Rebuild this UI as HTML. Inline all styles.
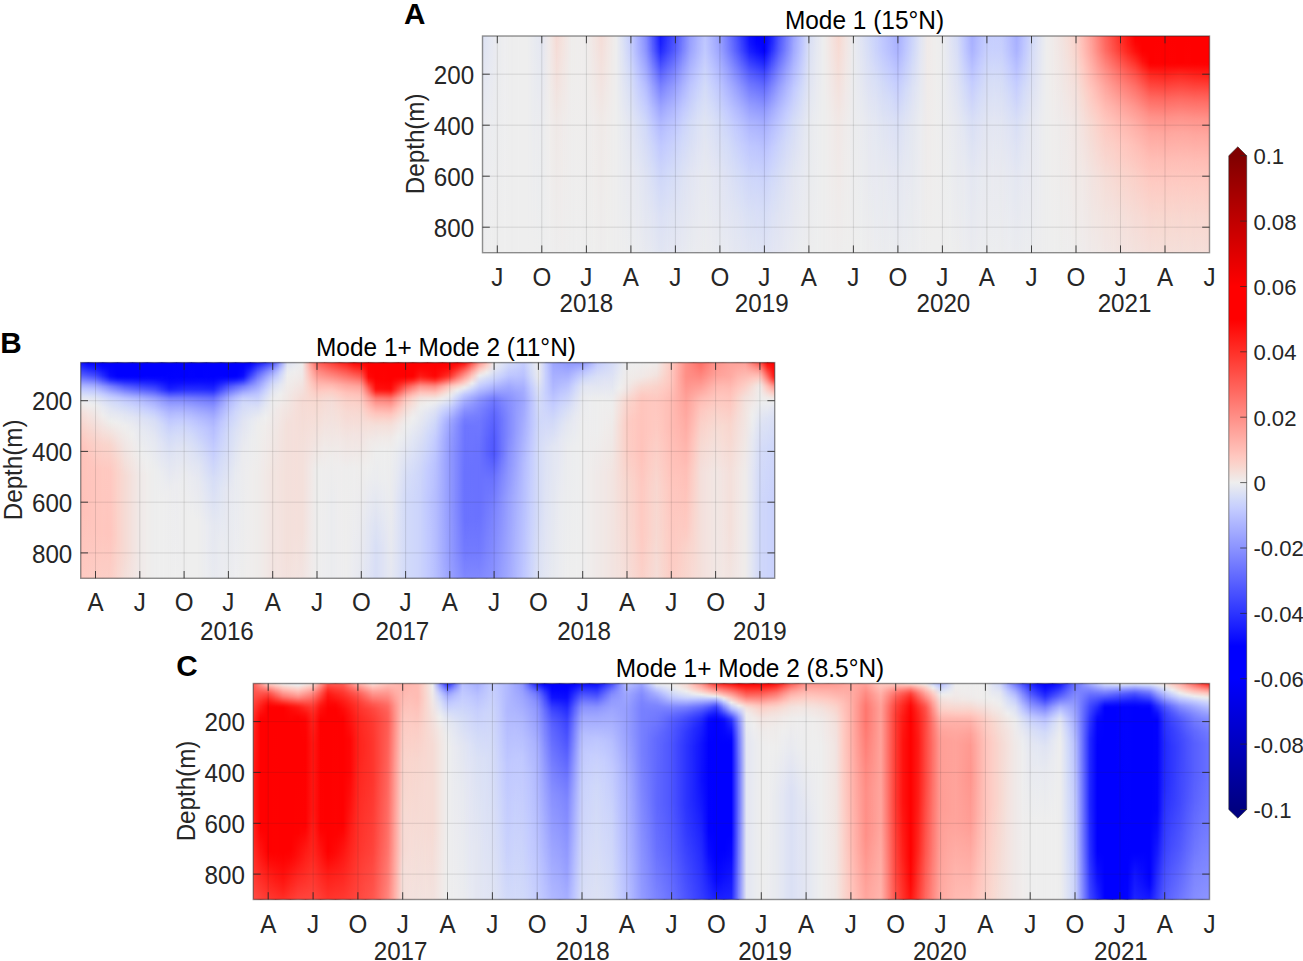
<!DOCTYPE html>
<html><head><meta charset="utf-8"><title>Figure</title>
<style>html,body{margin:0;padding:0;background:#fff}body{width:1303px;height:961px;overflow:hidden}svg{display:block;font-family:"Liberation Sans", sans-serif}</style></head>
<body>
<svg width="1303" height="961" viewBox="0 0 1303 961">
<defs>
<clipPath id="clipA"><rect x="482.5" y="36.0" width="727.0" height="216.7"/></clipPath>
<linearGradient id="hA" x1="482.5" y1="0" x2="1209.5" y2="0" gradientUnits="userSpaceOnUse"><stop offset="0" stop-color="#fff" stop-opacity="0"/><stop offset=".0102" stop-color="#fff" stop-opacity="1"/><stop offset=".0204" stop-color="#fff" stop-opacity="0"/><stop offset=".0306" stop-color="#fff" stop-opacity="1"/><stop offset=".0408" stop-color="#fff" stop-opacity="0"/><stop offset=".051" stop-color="#fff" stop-opacity="1"/><stop offset=".0612" stop-color="#fff" stop-opacity="0"/><stop offset=".0714" stop-color="#fff" stop-opacity="1"/><stop offset=".0816" stop-color="#fff" stop-opacity="0"/><stop offset=".0918" stop-color="#fff" stop-opacity="1"/><stop offset=".102" stop-color="#fff" stop-opacity="0"/><stop offset=".1122" stop-color="#fff" stop-opacity="1"/><stop offset=".1224" stop-color="#fff" stop-opacity="0"/><stop offset=".1327" stop-color="#fff" stop-opacity="1"/><stop offset=".1429" stop-color="#fff" stop-opacity="0"/><stop offset=".1531" stop-color="#fff" stop-opacity="1"/><stop offset=".1633" stop-color="#fff" stop-opacity="0"/><stop offset=".1735" stop-color="#fff" stop-opacity="1"/><stop offset=".1837" stop-color="#fff" stop-opacity="0"/><stop offset=".1939" stop-color="#fff" stop-opacity="1"/><stop offset=".2041" stop-color="#fff" stop-opacity="0"/><stop offset=".2143" stop-color="#fff" stop-opacity="1"/><stop offset=".2245" stop-color="#fff" stop-opacity="0"/><stop offset=".2347" stop-color="#fff" stop-opacity="1"/><stop offset=".2449" stop-color="#fff" stop-opacity="0"/><stop offset=".2551" stop-color="#fff" stop-opacity="1"/><stop offset=".2653" stop-color="#fff" stop-opacity="0"/><stop offset=".2755" stop-color="#fff" stop-opacity="1"/><stop offset=".2857" stop-color="#fff" stop-opacity="0"/><stop offset=".2959" stop-color="#fff" stop-opacity="1"/><stop offset=".3061" stop-color="#fff" stop-opacity="0"/><stop offset=".3163" stop-color="#fff" stop-opacity="1"/><stop offset=".3265" stop-color="#fff" stop-opacity="0"/><stop offset=".3367" stop-color="#fff" stop-opacity="1"/><stop offset=".3469" stop-color="#fff" stop-opacity="0"/><stop offset=".3571" stop-color="#fff" stop-opacity="1"/><stop offset=".3673" stop-color="#fff" stop-opacity="0"/><stop offset=".3776" stop-color="#fff" stop-opacity="1"/><stop offset=".3878" stop-color="#fff" stop-opacity="0"/><stop offset=".398" stop-color="#fff" stop-opacity="1"/><stop offset=".4082" stop-color="#fff" stop-opacity="0"/><stop offset=".4184" stop-color="#fff" stop-opacity="1"/><stop offset=".4286" stop-color="#fff" stop-opacity="0"/><stop offset=".4388" stop-color="#fff" stop-opacity="1"/><stop offset=".449" stop-color="#fff" stop-opacity="0"/><stop offset=".4592" stop-color="#fff" stop-opacity="1"/><stop offset=".4694" stop-color="#fff" stop-opacity="0"/><stop offset=".4796" stop-color="#fff" stop-opacity="1"/><stop offset=".4898" stop-color="#fff" stop-opacity="0"/><stop offset=".5" stop-color="#fff" stop-opacity="1"/><stop offset=".5102" stop-color="#fff" stop-opacity="0"/><stop offset=".5204" stop-color="#fff" stop-opacity="1"/><stop offset=".5306" stop-color="#fff" stop-opacity="0"/><stop offset=".5408" stop-color="#fff" stop-opacity="1"/><stop offset=".551" stop-color="#fff" stop-opacity="0"/><stop offset=".5612" stop-color="#fff" stop-opacity="1"/><stop offset=".5714" stop-color="#fff" stop-opacity="0"/><stop offset=".5816" stop-color="#fff" stop-opacity="1"/><stop offset=".5918" stop-color="#fff" stop-opacity="0"/><stop offset=".602" stop-color="#fff" stop-opacity="1"/><stop offset=".6122" stop-color="#fff" stop-opacity="0"/><stop offset=".6224" stop-color="#fff" stop-opacity="1"/><stop offset=".6327" stop-color="#fff" stop-opacity="0"/><stop offset=".6429" stop-color="#fff" stop-opacity="1"/><stop offset=".6531" stop-color="#fff" stop-opacity="0"/><stop offset=".6633" stop-color="#fff" stop-opacity="1"/><stop offset=".6735" stop-color="#fff" stop-opacity="0"/><stop offset=".6837" stop-color="#fff" stop-opacity="1"/><stop offset=".6939" stop-color="#fff" stop-opacity="0"/><stop offset=".7041" stop-color="#fff" stop-opacity="1"/><stop offset=".7143" stop-color="#fff" stop-opacity="0"/><stop offset=".7245" stop-color="#fff" stop-opacity="1"/><stop offset=".7347" stop-color="#fff" stop-opacity="0"/><stop offset=".7449" stop-color="#fff" stop-opacity="1"/><stop offset=".7551" stop-color="#fff" stop-opacity="0"/><stop offset=".7653" stop-color="#fff" stop-opacity="1"/><stop offset=".7755" stop-color="#fff" stop-opacity="0"/><stop offset=".7857" stop-color="#fff" stop-opacity="1"/><stop offset=".7959" stop-color="#fff" stop-opacity="0"/><stop offset=".8061" stop-color="#fff" stop-opacity="1"/><stop offset=".8163" stop-color="#fff" stop-opacity="0"/><stop offset=".8265" stop-color="#fff" stop-opacity="1"/><stop offset=".8367" stop-color="#fff" stop-opacity="0"/><stop offset=".8469" stop-color="#fff" stop-opacity="1"/><stop offset=".8571" stop-color="#fff" stop-opacity="0"/><stop offset=".8673" stop-color="#fff" stop-opacity="1"/><stop offset=".8776" stop-color="#fff" stop-opacity="0"/><stop offset=".8878" stop-color="#fff" stop-opacity="1"/><stop offset=".898" stop-color="#fff" stop-opacity="0"/><stop offset=".9082" stop-color="#fff" stop-opacity="1"/><stop offset=".9184" stop-color="#fff" stop-opacity="0"/><stop offset=".9286" stop-color="#fff" stop-opacity="1"/><stop offset=".9388" stop-color="#fff" stop-opacity="0"/><stop offset=".949" stop-color="#fff" stop-opacity="1"/><stop offset=".9592" stop-color="#fff" stop-opacity="0"/><stop offset=".9694" stop-color="#fff" stop-opacity="1"/><stop offset=".9796" stop-color="#fff" stop-opacity="0"/><stop offset=".9898" stop-color="#fff" stop-opacity="1"/><stop offset="1" stop-color="#fff" stop-opacity="0"/></linearGradient>
<mask id="mA" maskUnits="userSpaceOnUse" x="480.5" y="34.0" width="731.0" height="220.7" style="mask-type:alpha"><rect x="480.5" y="34.0" width="731.0" height="220.7" fill="url(#hA)"/></mask>
<linearGradient id="a0" x2="0" y2="1"><stop offset=".009" stop-color="#dde2f4"/><stop offset=".406" stop-color="#eaebf0"/><stop offset=".991" stop-color="#ededee"/></linearGradient>
<linearGradient id="a1" x2="0" y2="1"><stop offset=".009" stop-color="#e4e7f2"/><stop offset=".406" stop-color="#ebecef"/><stop offset=".991" stop-color="#eee"/></linearGradient>
<linearGradient id="a2" x2="0" y2="1"><stop offset=".009" stop-color="#ebecef"/><stop offset=".991" stop-color="#eee"/></linearGradient>
<linearGradient id="a3" x2="0" y2="1"><stop offset=".009" stop-color="#ededef"/><stop offset=".991" stop-color="#eee"/></linearGradient>
<linearGradient id="a7" x2="0" y2="1"><stop offset=".009" stop-color="#e8eaf0"/><stop offset=".991" stop-color="#eee"/></linearGradient>
<linearGradient id="a8" x2="0" y2="1"><stop offset=".009" stop-color="#e3e6f2"/><stop offset=".406" stop-color="#ebecef"/><stop offset=".991" stop-color="#edeeee"/></linearGradient>
<linearGradient id="a9" x2="0" y2="1"><stop offset=".009" stop-color="#f0e9e8"/><stop offset=".406" stop-color="#efedec"/><stop offset=".991" stop-color="#eee"/></linearGradient>
<linearGradient id="a10" x2="0" y2="1"><stop offset=".009" stop-color="#f6dbd5"/><stop offset=".406" stop-color="#f0e9e7"/><stop offset=".991" stop-color="#eeeded"/></linearGradient>
<linearGradient id="a11" x2="0" y2="1"><stop offset=".009" stop-color="#f3e4e0"/><stop offset=".406" stop-color="#efebea"/><stop offset=".991" stop-color="#eeeded"/></linearGradient>
<linearGradient id="a12" x2="0" y2="1"><stop offset=".009" stop-color="#efedec"/><stop offset=".991" stop-color="#eee"/></linearGradient>
<linearGradient id="a13" x2="0" y2="1"><stop offset=".009" stop-color="#efedec"/><stop offset=".991" stop-color="#eee"/></linearGradient>
<linearGradient id="a14" x2="0" y2="1"><stop offset=".009" stop-color="#efedec"/><stop offset=".991" stop-color="#eee"/></linearGradient>
<linearGradient id="a15" x2="0" y2="1"><stop offset=".009" stop-color="#f2e5e2"/><stop offset=".406" stop-color="#efeceb"/><stop offset=".991" stop-color="#eeeeed"/></linearGradient>
<linearGradient id="a16" x2="0" y2="1"><stop offset=".009" stop-color="#f5ddd8"/><stop offset=".406" stop-color="#f0eae8"/><stop offset=".991" stop-color="#eeeded"/></linearGradient>
<linearGradient id="a17" x2="0" y2="1"><stop offset=".009" stop-color="#f2e6e3"/><stop offset=".406" stop-color="#efeceb"/><stop offset=".991" stop-color="#eeeeed"/></linearGradient>
<linearGradient id="a19" x2="0" y2="1"><stop offset=".009" stop-color="#d9dff6"/><stop offset=".406" stop-color="#e8eaf0"/><stop offset=".991" stop-color="#ededee"/></linearGradient>
<linearGradient id="a20" x2="0" y2="1"><stop offset=".009" stop-color="#c6cefe"/><stop offset=".081" stop-color="#c9d1fd"/><stop offset=".211" stop-color="#d6ddf7"/><stop offset=".413" stop-color="#e3e6f2"/><stop offset=".652" stop-color="#e9eaf0"/><stop offset=".991" stop-color="#ecedef"/></linearGradient>
<linearGradient id="a21" x2="0" y2="1"><stop offset=".009" stop-color="#a7afff"/><stop offset=".081" stop-color="#acb4ff"/><stop offset=".218" stop-color="#c4ccff"/><stop offset=".399" stop-color="#d9dff6"/><stop offset=".637" stop-color="#e4e7f2"/><stop offset=".991" stop-color="#eaebef"/></linearGradient>
<linearGradient id="a22" x2="0" y2="1"><stop offset=".009" stop-color="#8890ff"/><stop offset=".074" stop-color="#8e96ff"/><stop offset=".24" stop-color="#b7bfff"/><stop offset=".32" stop-color="#c4ccff"/><stop offset=".413" stop-color="#d1d9f9"/><stop offset=".652" stop-color="#e0e4f3"/><stop offset=".991" stop-color="#e8eaf0"/></linearGradient>
<linearGradient id="a23" x2="0" y2="1"><stop offset=".009" stop-color="#4e56ff"/><stop offset=".074" stop-color="#5860ff"/><stop offset=".175" stop-color="#828aff"/><stop offset=".24" stop-color="#98a0ff"/><stop offset=".341" stop-color="#b3bbff"/><stop offset=".413" stop-color="#c1c9ff"/><stop offset=".507" stop-color="#ccd4fb"/><stop offset=".63" stop-color="#d6ddf7"/><stop offset=".818" stop-color="#e0e4f3"/><stop offset=".991" stop-color="#e5e8f1"/></linearGradient>
<linearGradient id="a24" x2="0" y2="1"><stop offset=".009" stop-color="#151aff"/><stop offset=".045" stop-color="#1a20ff"/><stop offset=".081" stop-color="#242cff"/><stop offset=".175" stop-color="#5b63ff"/><stop offset=".233" stop-color="#777fff"/><stop offset=".327" stop-color="#9aa2ff"/><stop offset=".406" stop-color="#b1b9ff"/><stop offset=".507" stop-color="#c1c9ff"/><stop offset=".659" stop-color="#d0d8f9"/><stop offset=".832" stop-color="#dce1f5"/><stop offset=".991" stop-color="#e1e5f3"/></linearGradient>
<linearGradient id="a25" x2="0" y2="1"><stop offset=".009" stop-color="#3038ff"/><stop offset=".074" stop-color="#3c44ff"/><stop offset=".175" stop-color="#6e76ff"/><stop offset=".24" stop-color="#8991ff"/><stop offset=".341" stop-color="#a9b1ff"/><stop offset=".413" stop-color="#bac2ff"/><stop offset=".5" stop-color="#c5cdfe"/><stop offset=".637" stop-color="#d2daf9"/><stop offset=".818" stop-color="#dde2f4"/><stop offset=".991" stop-color="#e3e6f2"/></linearGradient>
<linearGradient id="a26" x2="0" y2="1"><stop offset=".009" stop-color="#4d55ff"/><stop offset=".074" stop-color="#575fff"/><stop offset=".175" stop-color="#8189ff"/><stop offset=".24" stop-color="#98a0ff"/><stop offset=".341" stop-color="#b3bbff"/><stop offset=".413" stop-color="#c1c9ff"/><stop offset=".507" stop-color="#ccd4fb"/><stop offset=".63" stop-color="#d6ddf7"/><stop offset=".818" stop-color="#e0e4f3"/><stop offset=".991" stop-color="#e5e7f2"/></linearGradient>
<linearGradient id="a27" x2="0" y2="1"><stop offset=".009" stop-color="#727aff"/><stop offset=".074" stop-color="#7981ff"/><stop offset=".175" stop-color="#9aa2ff"/><stop offset=".24" stop-color="#abb3ff"/><stop offset=".341" stop-color="#c0c8ff"/><stop offset=".413" stop-color="#cbd3fc"/><stop offset=".5" stop-color="#d2daf9"/><stop offset=".659" stop-color="#dde2f4"/><stop offset=".991" stop-color="#e7e9f1"/></linearGradient>
<linearGradient id="a28" x2="0" y2="1"><stop offset=".009" stop-color="#979fff"/><stop offset=".074" stop-color="#9ca4ff"/><stop offset=".233" stop-color="#bdc5ff"/><stop offset=".399" stop-color="#d3dbf8"/><stop offset=".637" stop-color="#e2e5f3"/><stop offset=".991" stop-color="#e9ebf0"/></linearGradient>
<linearGradient id="a29" x2="0" y2="1"><stop offset=".009" stop-color="#abb3ff"/><stop offset=".081" stop-color="#b0b8ff"/><stop offset=".204" stop-color="#c4ccff"/><stop offset=".32" stop-color="#d2daf9"/><stop offset=".399" stop-color="#dae0f6"/><stop offset=".637" stop-color="#e5e7f2"/><stop offset=".991" stop-color="#eaebef"/></linearGradient>
<linearGradient id="a30" x2="0" y2="1"><stop offset=".009" stop-color="#bfc7ff"/><stop offset=".081" stop-color="#c2caff"/><stop offset=".233" stop-color="#d3dbf8"/><stop offset=".421" stop-color="#e1e5f3"/><stop offset=".652" stop-color="#e8eaf0"/><stop offset=".991" stop-color="#ebecef"/></linearGradient>
<linearGradient id="a31" x2="0" y2="1"><stop offset=".009" stop-color="#abb3ff"/><stop offset=".081" stop-color="#b0b8ff"/><stop offset=".204" stop-color="#c4ccff"/><stop offset=".32" stop-color="#d2daf9"/><stop offset=".399" stop-color="#dae0f6"/><stop offset=".637" stop-color="#e5e7f2"/><stop offset=".991" stop-color="#eaebef"/></linearGradient>
<linearGradient id="a32" x2="0" y2="1"><stop offset=".009" stop-color="#979fff"/><stop offset=".074" stop-color="#9ca4ff"/><stop offset=".233" stop-color="#bdc5ff"/><stop offset=".399" stop-color="#d3dbf8"/><stop offset=".637" stop-color="#e2e5f3"/><stop offset=".991" stop-color="#e9ebf0"/></linearGradient>
<linearGradient id="a33" x2="0" y2="1"><stop offset=".009" stop-color="#777fff"/><stop offset=".074" stop-color="#7e86ff"/><stop offset=".175" stop-color="#9da5ff"/><stop offset=".24" stop-color="#adb5ff"/><stop offset=".356" stop-color="#c4ccff"/><stop offset=".413" stop-color="#ccd4fb"/><stop offset=".493" stop-color="#d3dbf8"/><stop offset=".659" stop-color="#dee2f4"/><stop offset=".991" stop-color="#e7e9f1"/></linearGradient>
<linearGradient id="a34" x2="0" y2="1"><stop offset=".009" stop-color="#565eff"/><stop offset=".074" stop-color="#5f67ff"/><stop offset=".175" stop-color="#878fff"/><stop offset=".24" stop-color="#9da5ff"/><stop offset=".341" stop-color="#b6beff"/><stop offset=".413" stop-color="#c4ccff"/><stop offset=".514" stop-color="#ced6fa"/><stop offset=".63" stop-color="#d7def7"/><stop offset=".818" stop-color="#e1e5f3"/><stop offset=".991" stop-color="#e5e8f1"/></linearGradient>
<linearGradient id="a35" x2="0" y2="1"><stop offset=".009" stop-color="#3038ff"/><stop offset=".074" stop-color="#3c44ff"/><stop offset=".175" stop-color="#6e76ff"/><stop offset=".24" stop-color="#8991ff"/><stop offset=".341" stop-color="#a9b1ff"/><stop offset=".413" stop-color="#bac2ff"/><stop offset=".5" stop-color="#c5cdfe"/><stop offset=".637" stop-color="#d2daf9"/><stop offset=".818" stop-color="#dde2f4"/><stop offset=".991" stop-color="#e3e6f2"/></linearGradient>
<linearGradient id="a36" x2="0" y2="1"><stop offset=".009" stop-color="#0d10ff"/><stop offset=".045" stop-color="#1216ff"/><stop offset=".081" stop-color="#1c22ff"/><stop offset=".175" stop-color="#555dff"/><stop offset=".233" stop-color="#7179ff"/><stop offset=".327" stop-color="#969eff"/><stop offset=".406" stop-color="#aeb6ff"/><stop offset=".507" stop-color="#bfc7ff"/><stop offset=".659" stop-color="#cfd7fa"/><stop offset=".839" stop-color="#dbe1f5"/><stop offset=".991" stop-color="#e1e5f3"/></linearGradient>
<linearGradient id="a37" x2="0" y2="1"><stop offset=".009" stop-color="#00f"/><stop offset=".045" stop-color="#0405ff"/><stop offset=".081" stop-color="#0e11ff"/><stop offset=".125" stop-color="#272fff"/><stop offset=".175" stop-color="#4951ff"/><stop offset=".226" stop-color="#656dff"/><stop offset=".32" stop-color="#8d95ff"/><stop offset=".406" stop-color="#aab2ff"/><stop offset=".507" stop-color="#bcc4ff"/><stop offset=".652" stop-color="#cdd5fb"/><stop offset=".81" stop-color="#d8def6"/><stop offset=".991" stop-color="#e0e4f3"/></linearGradient>
<linearGradient id="a38" x2="0" y2="1"><stop offset=".009" stop-color="#00f"/><stop offset=".067" stop-color="#00f"/><stop offset=".081" stop-color="#0303ff"/><stop offset=".139" stop-color="#232bff"/><stop offset=".175" stop-color="#3e46ff"/><stop offset=".24" stop-color="#636bff"/><stop offset=".341" stop-color="#9098ff"/><stop offset=".421" stop-color="#a9b1ff"/><stop offset=".536" stop-color="#bdc5ff"/><stop offset=".666" stop-color="#ccd4fb"/><stop offset=".818" stop-color="#d7def7"/><stop offset=".991" stop-color="#dfe3f4"/></linearGradient>
<linearGradient id="a39" x2="0" y2="1"><stop offset=".009" stop-color="#1c22ff"/><stop offset=".038" stop-color="#1f26ff"/><stop offset=".074" stop-color="#2830ff"/><stop offset=".175" stop-color="#6068ff"/><stop offset=".24" stop-color="#7d85ff"/><stop offset=".341" stop-color="#a1a9ff"/><stop offset=".413" stop-color="#b4bcff"/><stop offset=".529" stop-color="#c5cdff"/><stop offset=".666" stop-color="#d2daf9"/><stop offset=".832" stop-color="#dce1f5"/><stop offset=".991" stop-color="#e2e5f3"/></linearGradient>
<linearGradient id="a40" x2="0" y2="1"><stop offset=".009" stop-color="#4d55ff"/><stop offset=".074" stop-color="#575fff"/><stop offset=".175" stop-color="#8189ff"/><stop offset=".24" stop-color="#98a0ff"/><stop offset=".341" stop-color="#b3bbff"/><stop offset=".413" stop-color="#c1c9ff"/><stop offset=".507" stop-color="#ccd4fb"/><stop offset=".63" stop-color="#d6ddf7"/><stop offset=".818" stop-color="#e0e4f3"/><stop offset=".991" stop-color="#e5e7f2"/></linearGradient>
<linearGradient id="a41" x2="0" y2="1"><stop offset=".009" stop-color="#757dff"/><stop offset=".074" stop-color="#7c84ff"/><stop offset=".175" stop-color="#9ca4ff"/><stop offset=".24" stop-color="#adb5ff"/><stop offset=".356" stop-color="#c4ccff"/><stop offset=".413" stop-color="#ccd4fc"/><stop offset=".493" stop-color="#d3daf8"/><stop offset=".659" stop-color="#dee2f4"/><stop offset=".991" stop-color="#e7e9f1"/></linearGradient>
<linearGradient id="a42" x2="0" y2="1"><stop offset=".009" stop-color="#9ea6ff"/><stop offset=".081" stop-color="#a4acff"/><stop offset=".255" stop-color="#c4ccff"/><stop offset=".399" stop-color="#d6ddf7"/><stop offset=".637" stop-color="#e3e6f2"/><stop offset=".991" stop-color="#eaebf0"/></linearGradient>
<linearGradient id="a43" x2="0" y2="1"><stop offset=".009" stop-color="#bac2ff"/><stop offset=".081" stop-color="#bec6ff"/><stop offset=".255" stop-color="#d2daf9"/><stop offset=".421" stop-color="#e0e4f3"/><stop offset=".652" stop-color="#e7e9f1"/><stop offset=".991" stop-color="#ebecef"/></linearGradient>
<linearGradient id="a44" x2="0" y2="1"><stop offset=".009" stop-color="#d8def6"/><stop offset=".406" stop-color="#e8eaf0"/><stop offset=".991" stop-color="#ededee"/></linearGradient>
<linearGradient id="a45" x2="0" y2="1"><stop offset=".009" stop-color="#e3e6f2"/><stop offset=".406" stop-color="#ebecef"/><stop offset=".991" stop-color="#edeeee"/></linearGradient>
<linearGradient id="a47" x2="0" y2="1"><stop offset=".009" stop-color="#f3e3e0"/><stop offset=".406" stop-color="#efebea"/><stop offset=".991" stop-color="#eeeded"/></linearGradient>
<linearGradient id="a48" x2="0" y2="1"><stop offset=".009" stop-color="#f8d9d1"/><stop offset=".406" stop-color="#f1e8e6"/><stop offset=".991" stop-color="#eeeded"/></linearGradient>
<linearGradient id="a49" x2="0" y2="1"><stop offset=".009" stop-color="#f2e4e1"/><stop offset=".406" stop-color="#efebeb"/><stop offset=".991" stop-color="#eeeeed"/></linearGradient>
<linearGradient id="a50" x2="0" y2="1"><stop offset=".009" stop-color="#ebecef"/><stop offset=".991" stop-color="#eee"/></linearGradient>
<linearGradient id="a51" x2="0" y2="1"><stop offset=".009" stop-color="#e0e4f3"/><stop offset=".406" stop-color="#eaebef"/><stop offset=".991" stop-color="#edeeee"/></linearGradient>
<linearGradient id="a52" x2="0" y2="1"><stop offset=".009" stop-color="#d5dcf8"/><stop offset=".406" stop-color="#e7e9f1"/><stop offset=".991" stop-color="#ededee"/></linearGradient>
<linearGradient id="a53" x2="0" y2="1"><stop offset=".009" stop-color="#cad2fc"/><stop offset=".081" stop-color="#ccd4fb"/><stop offset=".218" stop-color="#d9dff6"/><stop offset=".413" stop-color="#e4e7f2"/><stop offset=".991" stop-color="#ecedef"/></linearGradient>
<linearGradient id="a54" x2="0" y2="1"><stop offset=".009" stop-color="#bfc7ff"/><stop offset=".081" stop-color="#c2caff"/><stop offset=".233" stop-color="#d3dbf8"/><stop offset=".421" stop-color="#e1e5f3"/><stop offset=".652" stop-color="#e8eaf0"/><stop offset=".991" stop-color="#ebecef"/></linearGradient>
<linearGradient id="a55" x2="0" y2="1"><stop offset=".009" stop-color="#b3bbff"/><stop offset=".081" stop-color="#b7bfff"/><stop offset=".168" stop-color="#c4ccff"/><stop offset=".283" stop-color="#d2daf9"/><stop offset=".421" stop-color="#dee2f4"/><stop offset=".652" stop-color="#e6e8f1"/><stop offset=".991" stop-color="#ebecef"/></linearGradient>
<linearGradient id="a56" x2="0" y2="1"><stop offset=".009" stop-color="#a7afff"/><stop offset=".081" stop-color="#acb4ff"/><stop offset=".218" stop-color="#c4ccff"/><stop offset=".399" stop-color="#d9dff6"/><stop offset=".637" stop-color="#e4e7f2"/><stop offset=".991" stop-color="#eaebef"/></linearGradient>
<linearGradient id="a57" x2="0" y2="1"><stop offset=".009" stop-color="#bac2ff"/><stop offset=".081" stop-color="#bec6ff"/><stop offset=".255" stop-color="#d2daf9"/><stop offset=".421" stop-color="#e0e4f3"/><stop offset=".652" stop-color="#e7e9f1"/><stop offset=".991" stop-color="#ebecef"/></linearGradient>
<linearGradient id="a58" x2="0" y2="1"><stop offset=".009" stop-color="#cdd5fb"/><stop offset=".081" stop-color="#d0d8fa"/><stop offset=".247" stop-color="#dde2f5"/><stop offset=".413" stop-color="#e5e8f1"/><stop offset=".991" stop-color="#ecedef"/></linearGradient>
<linearGradient id="a59" x2="0" y2="1"><stop offset=".009" stop-color="#e0e4f4"/><stop offset=".406" stop-color="#eaebef"/><stop offset=".991" stop-color="#ededee"/></linearGradient>
<linearGradient id="a60" x2="0" y2="1"><stop offset=".009" stop-color="#f0eae9"/><stop offset=".991" stop-color="#eee"/></linearGradient>
<linearGradient id="a61" x2="0" y2="1"><stop offset=".009" stop-color="#efedec"/><stop offset=".991" stop-color="#eee"/></linearGradient>
<linearGradient id="a62" x2="0" y2="1"><stop offset=".009" stop-color="#ecedef"/><stop offset=".991" stop-color="#eee"/></linearGradient>
<linearGradient id="a63" x2="0" y2="1"><stop offset=".009" stop-color="#e1e4f3"/><stop offset=".406" stop-color="#eaebef"/><stop offset=".991" stop-color="#edeeee"/></linearGradient>
<linearGradient id="a64" x2="0" y2="1"><stop offset=".009" stop-color="#d5dcf8"/><stop offset=".406" stop-color="#e7e9f1"/><stop offset=".991" stop-color="#ededee"/></linearGradient>
<linearGradient id="a65" x2="0" y2="1"><stop offset=".009" stop-color="#bec6ff"/><stop offset=".081" stop-color="#c1c9ff"/><stop offset=".233" stop-color="#d2daf9"/><stop offset=".421" stop-color="#e1e5f3"/><stop offset=".652" stop-color="#e8eaf0"/><stop offset=".991" stop-color="#ebecef"/></linearGradient>
<linearGradient id="a66" x2="0" y2="1"><stop offset=".009" stop-color="#a7afff"/><stop offset=".081" stop-color="#acb4ff"/><stop offset=".218" stop-color="#c4ccff"/><stop offset=".399" stop-color="#d9dff6"/><stop offset=".637" stop-color="#e4e7f2"/><stop offset=".991" stop-color="#eaebef"/></linearGradient>
<linearGradient id="a67" x2="0" y2="1"><stop offset=".009" stop-color="#b7bfff"/><stop offset=".081" stop-color="#bbc3ff"/><stop offset=".146" stop-color="#c4ccff"/><stop offset=".269" stop-color="#d2daf9"/><stop offset=".421" stop-color="#dfe3f4"/><stop offset=".652" stop-color="#e7e9f1"/><stop offset=".991" stop-color="#ebecef"/></linearGradient>
<linearGradient id="a68" x2="0" y2="1"><stop offset=".009" stop-color="#c6cefe"/><stop offset=".081" stop-color="#c9d1fd"/><stop offset=".211" stop-color="#d6ddf7"/><stop offset=".413" stop-color="#e3e6f2"/><stop offset=".652" stop-color="#e9eaf0"/><stop offset=".991" stop-color="#ecedef"/></linearGradient>
<linearGradient id="a69" x2="0" y2="1"><stop offset=".009" stop-color="#c6cefe"/><stop offset=".081" stop-color="#c9d1fd"/><stop offset=".211" stop-color="#d6ddf7"/><stop offset=".413" stop-color="#e3e6f2"/><stop offset=".652" stop-color="#e9eaf0"/><stop offset=".991" stop-color="#ecedef"/></linearGradient>
<linearGradient id="a70" x2="0" y2="1"><stop offset=".009" stop-color="#c6cefe"/><stop offset=".081" stop-color="#c9d1fd"/><stop offset=".211" stop-color="#d6ddf7"/><stop offset=".413" stop-color="#e3e6f2"/><stop offset=".652" stop-color="#e9eaf0"/><stop offset=".991" stop-color="#ecedef"/></linearGradient>
<linearGradient id="a71" x2="0" y2="1"><stop offset=".009" stop-color="#b7bfff"/><stop offset=".081" stop-color="#bbc3ff"/><stop offset=".146" stop-color="#c4ccff"/><stop offset=".269" stop-color="#d2daf9"/><stop offset=".421" stop-color="#dfe3f4"/><stop offset=".652" stop-color="#e7e9f1"/><stop offset=".991" stop-color="#ebecef"/></linearGradient>
<linearGradient id="a72" x2="0" y2="1"><stop offset=".009" stop-color="#a7afff"/><stop offset=".081" stop-color="#acb4ff"/><stop offset=".218" stop-color="#c4ccff"/><stop offset=".399" stop-color="#d9dff6"/><stop offset=".637" stop-color="#e4e7f2"/><stop offset=".991" stop-color="#eaebef"/></linearGradient>
<linearGradient id="a73" x2="0" y2="1"><stop offset=".009" stop-color="#bcc4ff"/><stop offset=".081" stop-color="#bfc7ff"/><stop offset=".247" stop-color="#d2daf9"/><stop offset=".421" stop-color="#e0e4f3"/><stop offset=".652" stop-color="#e7e9f1"/><stop offset=".991" stop-color="#ebecef"/></linearGradient>
<linearGradient id="a74" x2="0" y2="1"><stop offset=".009" stop-color="#d0d8fa"/><stop offset=".413" stop-color="#e6e8f1"/><stop offset=".991" stop-color="#ecedef"/></linearGradient>
<linearGradient id="a75" x2="0" y2="1"><stop offset=".009" stop-color="#dfe3f4"/><stop offset=".406" stop-color="#eaebf0"/><stop offset=".991" stop-color="#ededee"/></linearGradient>
<linearGradient id="a77" x2="0" y2="1"><stop offset=".009" stop-color="#f0e9e8"/><stop offset=".406" stop-color="#efedec"/><stop offset=".991" stop-color="#eee"/></linearGradient>
<linearGradient id="a78" x2="0" y2="1"><stop offset=".009" stop-color="#f2e4e1"/><stop offset=".406" stop-color="#efebeb"/><stop offset=".991" stop-color="#eeeeed"/></linearGradient>
<linearGradient id="a79" x2="0" y2="1"><stop offset=".009" stop-color="#f6dcd6"/><stop offset=".406" stop-color="#f0e9e8"/><stop offset=".991" stop-color="#eeeded"/></linearGradient>
<linearGradient id="a80" x2="0" y2="1"><stop offset=".009" stop-color="#fad4cc"/><stop offset=".088" stop-color="#f9d6ce"/><stop offset=".24" stop-color="#f4e0dc"/><stop offset=".413" stop-color="#f1e7e5"/><stop offset=".991" stop-color="#efedec"/></linearGradient>
<linearGradient id="a81" x2="0" y2="1"><stop offset=".009" stop-color="#ffbbb3"/><stop offset=".074" stop-color="#ffbeb6"/><stop offset=".146" stop-color="#ffc8c0"/><stop offset=".276" stop-color="#f8d7cf"/><stop offset=".428" stop-color="#f4e1dd"/><stop offset=".659" stop-color="#f1e8e6"/><stop offset=".991" stop-color="#efebeb"/></linearGradient>
<linearGradient id="a82" x2="0" y2="1"><stop offset=".009" stop-color="#ffa29a"/><stop offset=".081" stop-color="#ffa8a0"/><stop offset=".255" stop-color="#ffc8c0"/><stop offset=".406" stop-color="#f7dad3"/><stop offset=".644" stop-color="#f2e4e1"/><stop offset=".991" stop-color="#f0eae9"/></linearGradient>
<linearGradient id="a83" x2="0" y2="1"><stop offset=".009" stop-color="#ff837b"/><stop offset=".074" stop-color="#ff8981"/><stop offset=".233" stop-color="#ffb4ac"/><stop offset=".334" stop-color="#ffc7bf"/><stop offset=".406" stop-color="#fbd1c9"/><stop offset=".659" stop-color="#f4e1dd"/><stop offset=".991" stop-color="#f0e9e7"/></linearGradient>
<linearGradient id="a84" x2="0" y2="1"><stop offset=".009" stop-color="#ff645c"/><stop offset=".074" stop-color="#ff6c64"/><stop offset=".175" stop-color="#ff928a"/><stop offset=".233" stop-color="#ffa49c"/><stop offset=".327" stop-color="#ffbab2"/><stop offset=".406" stop-color="#fec9c1"/><stop offset=".644" stop-color="#f6ddd7"/><stop offset=".825" stop-color="#f3e4e0"/><stop offset=".991" stop-color="#f1e7e5"/></linearGradient>
<linearGradient id="a85" x2="0" y2="1"><stop offset=".009" stop-color="#ff4a42"/><stop offset=".074" stop-color="#ff544c"/><stop offset=".175" stop-color="#ff8078"/><stop offset=".233" stop-color="#ff958d"/><stop offset=".327" stop-color="#ffb1a9"/><stop offset=".406" stop-color="#ffc2ba"/><stop offset=".5" stop-color="#fccec6"/><stop offset=".644" stop-color="#f7d9d3"/><stop offset=".825" stop-color="#f3e2de"/><stop offset=".991" stop-color="#f2e6e3"/></linearGradient>
<linearGradient id="a86" x2="0" y2="1"><stop offset=".009" stop-color="#ff3028"/><stop offset=".038" stop-color="#ff332b"/><stop offset=".074" stop-color="#ff3b33"/><stop offset=".175" stop-color="#ff6f67"/><stop offset=".233" stop-color="#ff877f"/><stop offset=".327" stop-color="#ffa79f"/><stop offset=".406" stop-color="#ffbbb3"/><stop offset=".5" stop-color="#ffc9c1"/><stop offset=".644" stop-color="#f9d6ce"/><stop offset=".825" stop-color="#f4e0db"/><stop offset=".991" stop-color="#f2e4e1"/></linearGradient>
<linearGradient id="a87" x2="0" y2="1"><stop offset=".009" stop-color="#ff1813"/><stop offset=".045" stop-color="#ff1d17"/><stop offset=".081" stop-color="#ff2820"/><stop offset=".175" stop-color="#ff5f57"/><stop offset=".233" stop-color="#ff7b73"/><stop offset=".327" stop-color="#ff9e96"/><stop offset=".406" stop-color="#ffb5ad"/><stop offset=".5" stop-color="#ffc4bc"/><stop offset=".644" stop-color="#fad3cb"/><stop offset=".832" stop-color="#f5ded9"/><stop offset=".991" stop-color="#f3e3e0"/></linearGradient>
<linearGradient id="a88" x2="0" y2="1"><stop offset=".009" stop-color="#f00"/><stop offset=".045" stop-color="#ff0605"/><stop offset=".081" stop-color="#ff120e"/><stop offset=".117" stop-color="#ff2921"/><stop offset=".175" stop-color="#ff4f47"/><stop offset=".233" stop-color="#ff6e66"/><stop offset=".327" stop-color="#ff958d"/><stop offset=".406" stop-color="#ffaea6"/><stop offset=".5" stop-color="#ffbfb7"/><stop offset=".644" stop-color="#fbd0c8"/><stop offset=".825" stop-color="#f6dcd6"/><stop offset=".991" stop-color="#f3e2de"/></linearGradient>
<linearGradient id="a89" x2="0" y2="1"><stop offset=".009" stop-color="#f00"/><stop offset=".074" stop-color="#f00"/><stop offset=".096" stop-color="#ff0605"/><stop offset=".125" stop-color="#ff120f"/><stop offset=".153" stop-color="#ff271f"/><stop offset=".182" stop-color="#ff3e36"/><stop offset=".262" stop-color="#ff6b63"/><stop offset=".356" stop-color="#ff958d"/><stop offset=".428" stop-color="#ffaba3"/><stop offset=".536" stop-color="#ffbeb6"/><stop offset=".659" stop-color="#fdcdc5"/><stop offset=".832" stop-color="#f7dad4"/><stop offset=".991" stop-color="#f4e0dc"/></linearGradient>
<linearGradient id="a90" x2="0" y2="1"><stop offset=".009" stop-color="#f00"/><stop offset=".132" stop-color="#ff0101"/><stop offset=".146" stop-color="#ff0907"/><stop offset=".182" stop-color="#ff2820"/><stop offset=".291" stop-color="#ff6a62"/><stop offset=".377" stop-color="#ff938b"/><stop offset=".449" stop-color="#ffa8a0"/><stop offset=".565" stop-color="#ffbdb5"/><stop offset=".673" stop-color="#fecbc3"/><stop offset=".839" stop-color="#f8d8d1"/><stop offset=".991" stop-color="#f5dfda"/></linearGradient>
<linearGradient id="a91" x2="0" y2="1"><stop offset=".009" stop-color="#f00"/><stop offset=".132" stop-color="#ff0101"/><stop offset=".146" stop-color="#ff0807"/><stop offset=".182" stop-color="#ff251e"/><stop offset=".291" stop-color="#ff6860"/><stop offset=".377" stop-color="#ff9189"/><stop offset=".449" stop-color="#ffa79f"/><stop offset=".565" stop-color="#ffbcb4"/><stop offset=".673" stop-color="#fecac2"/><stop offset=".839" stop-color="#f8d8d0"/><stop offset=".991" stop-color="#f5dfd9"/></linearGradient>
<linearGradient id="a92" x2="0" y2="1"><stop offset=".009" stop-color="#f00"/><stop offset=".125" stop-color="#f00"/><stop offset=".139" stop-color="#ff0403"/><stop offset=".197" stop-color="#ff2b23"/><stop offset=".298" stop-color="#ff6a62"/><stop offset=".384" stop-color="#ff938b"/><stop offset=".457" stop-color="#ffa79f"/><stop offset=".572" stop-color="#ffbdb5"/><stop offset=".673" stop-color="#fecac2"/><stop offset=".839" stop-color="#f8d8d0"/><stop offset=".991" stop-color="#f5ded9"/></linearGradient>
<linearGradient id="a93" x2="0" y2="1"><stop offset=".009" stop-color="#f00"/><stop offset=".132" stop-color="#ff0101"/><stop offset=".146" stop-color="#ff0807"/><stop offset=".182" stop-color="#ff251e"/><stop offset=".291" stop-color="#ff6860"/><stop offset=".377" stop-color="#ff9189"/><stop offset=".449" stop-color="#ffa79f"/><stop offset=".565" stop-color="#ffbcb4"/><stop offset=".673" stop-color="#fecac2"/><stop offset=".839" stop-color="#f8d8d0"/><stop offset=".991" stop-color="#f5dfd9"/></linearGradient>
<linearGradient id="a94" x2="0" y2="1"><stop offset=".009" stop-color="#f00"/><stop offset=".132" stop-color="#ff0101"/><stop offset=".146" stop-color="#ff0907"/><stop offset=".182" stop-color="#ff2820"/><stop offset=".291" stop-color="#ff6a62"/><stop offset=".377" stop-color="#ff938b"/><stop offset=".449" stop-color="#ffa8a0"/><stop offset=".565" stop-color="#ffbdb5"/><stop offset=".673" stop-color="#fecbc3"/><stop offset=".839" stop-color="#f8d8d1"/><stop offset=".991" stop-color="#f5dfda"/></linearGradient>
<linearGradient id="a95" x2="0" y2="1"><stop offset=".009" stop-color="#f00"/><stop offset=".132" stop-color="#ff0101"/><stop offset=".146" stop-color="#ff0807"/><stop offset=".182" stop-color="#ff251e"/><stop offset=".291" stop-color="#ff6860"/><stop offset=".377" stop-color="#ff9189"/><stop offset=".449" stop-color="#ffa79f"/><stop offset=".565" stop-color="#ffbcb4"/><stop offset=".673" stop-color="#fecac2"/><stop offset=".839" stop-color="#f8d8d0"/><stop offset=".991" stop-color="#f5dfd9"/></linearGradient>
<linearGradient id="a96" x2="0" y2="1"><stop offset=".009" stop-color="#f00"/><stop offset=".125" stop-color="#f00"/><stop offset=".139" stop-color="#ff0403"/><stop offset=".197" stop-color="#ff2b23"/><stop offset=".298" stop-color="#ff6a62"/><stop offset=".384" stop-color="#ff938b"/><stop offset=".457" stop-color="#ffa79f"/><stop offset=".572" stop-color="#ffbdb5"/><stop offset=".673" stop-color="#fecac2"/><stop offset=".839" stop-color="#f8d8d0"/><stop offset=".991" stop-color="#f5ded9"/></linearGradient>
<linearGradient id="a97" x2="0" y2="1"><stop offset=".009" stop-color="#f00"/><stop offset=".125" stop-color="#f00"/><stop offset=".139" stop-color="#ff0303"/><stop offset=".197" stop-color="#ff2921"/><stop offset=".269" stop-color="#ff5850"/><stop offset=".305" stop-color="#ff6d65"/><stop offset=".384" stop-color="#ff928a"/><stop offset=".457" stop-color="#ffa79f"/><stop offset=".572" stop-color="#ffbcb4"/><stop offset=".673" stop-color="#fecac2"/><stop offset=".839" stop-color="#f8d7d0"/><stop offset=".991" stop-color="#f5ded9"/></linearGradient>
<linearGradient id="a98" x2="0" y2="1"><stop offset=".009" stop-color="#f00"/><stop offset=".125" stop-color="#f00"/><stop offset=".139" stop-color="#ff0303"/><stop offset=".197" stop-color="#ff271f"/><stop offset=".269" stop-color="#ff574f"/><stop offset=".312" stop-color="#ff7068"/><stop offset=".384" stop-color="#ff9189"/><stop offset=".457" stop-color="#ffa69e"/><stop offset=".572" stop-color="#ffbcb4"/><stop offset=".673" stop-color="#fec9c1"/><stop offset=".839" stop-color="#f8d7cf"/><stop offset=".991" stop-color="#f5ded9"/></linearGradient>
<clipPath id="clipB"><rect x="80.7" y="362.6" width="694.0" height="215.7"/></clipPath>
<linearGradient id="hB" x1="80.7" y1="0" x2="774.7" y2="0" gradientUnits="userSpaceOnUse"><stop offset="0" stop-color="#fff" stop-opacity="0"/><stop offset=".0106" stop-color="#fff" stop-opacity="1"/><stop offset=".0213" stop-color="#fff" stop-opacity="0"/><stop offset=".0319" stop-color="#fff" stop-opacity="1"/><stop offset=".0426" stop-color="#fff" stop-opacity="0"/><stop offset=".0532" stop-color="#fff" stop-opacity="1"/><stop offset=".0638" stop-color="#fff" stop-opacity="0"/><stop offset=".0745" stop-color="#fff" stop-opacity="1"/><stop offset=".0851" stop-color="#fff" stop-opacity="0"/><stop offset=".0957" stop-color="#fff" stop-opacity="1"/><stop offset=".1064" stop-color="#fff" stop-opacity="0"/><stop offset=".117" stop-color="#fff" stop-opacity="1"/><stop offset=".1277" stop-color="#fff" stop-opacity="0"/><stop offset=".1383" stop-color="#fff" stop-opacity="1"/><stop offset=".1489" stop-color="#fff" stop-opacity="0"/><stop offset=".1596" stop-color="#fff" stop-opacity="1"/><stop offset=".1702" stop-color="#fff" stop-opacity="0"/><stop offset=".1809" stop-color="#fff" stop-opacity="1"/><stop offset=".1915" stop-color="#fff" stop-opacity="0"/><stop offset=".2021" stop-color="#fff" stop-opacity="1"/><stop offset=".2128" stop-color="#fff" stop-opacity="0"/><stop offset=".2234" stop-color="#fff" stop-opacity="1"/><stop offset=".234" stop-color="#fff" stop-opacity="0"/><stop offset=".2447" stop-color="#fff" stop-opacity="1"/><stop offset=".2553" stop-color="#fff" stop-opacity="0"/><stop offset=".266" stop-color="#fff" stop-opacity="1"/><stop offset=".2766" stop-color="#fff" stop-opacity="0"/><stop offset=".2872" stop-color="#fff" stop-opacity="1"/><stop offset=".2979" stop-color="#fff" stop-opacity="0"/><stop offset=".3085" stop-color="#fff" stop-opacity="1"/><stop offset=".3191" stop-color="#fff" stop-opacity="0"/><stop offset=".3298" stop-color="#fff" stop-opacity="1"/><stop offset=".3404" stop-color="#fff" stop-opacity="0"/><stop offset=".3511" stop-color="#fff" stop-opacity="1"/><stop offset=".3617" stop-color="#fff" stop-opacity="0"/><stop offset=".3723" stop-color="#fff" stop-opacity="1"/><stop offset=".383" stop-color="#fff" stop-opacity="0"/><stop offset=".3936" stop-color="#fff" stop-opacity="1"/><stop offset=".4043" stop-color="#fff" stop-opacity="0"/><stop offset=".4149" stop-color="#fff" stop-opacity="1"/><stop offset=".4255" stop-color="#fff" stop-opacity="0"/><stop offset=".4362" stop-color="#fff" stop-opacity="1"/><stop offset=".4468" stop-color="#fff" stop-opacity="0"/><stop offset=".4574" stop-color="#fff" stop-opacity="1"/><stop offset=".4681" stop-color="#fff" stop-opacity="0"/><stop offset=".4787" stop-color="#fff" stop-opacity="1"/><stop offset=".4894" stop-color="#fff" stop-opacity="0"/><stop offset=".5" stop-color="#fff" stop-opacity="1"/><stop offset=".5106" stop-color="#fff" stop-opacity="0"/><stop offset=".5213" stop-color="#fff" stop-opacity="1"/><stop offset=".5319" stop-color="#fff" stop-opacity="0"/><stop offset=".5426" stop-color="#fff" stop-opacity="1"/><stop offset=".5532" stop-color="#fff" stop-opacity="0"/><stop offset=".5638" stop-color="#fff" stop-opacity="1"/><stop offset=".5745" stop-color="#fff" stop-opacity="0"/><stop offset=".5851" stop-color="#fff" stop-opacity="1"/><stop offset=".5957" stop-color="#fff" stop-opacity="0"/><stop offset=".6064" stop-color="#fff" stop-opacity="1"/><stop offset=".617" stop-color="#fff" stop-opacity="0"/><stop offset=".6277" stop-color="#fff" stop-opacity="1"/><stop offset=".6383" stop-color="#fff" stop-opacity="0"/><stop offset=".6489" stop-color="#fff" stop-opacity="1"/><stop offset=".6596" stop-color="#fff" stop-opacity="0"/><stop offset=".6702" stop-color="#fff" stop-opacity="1"/><stop offset=".6809" stop-color="#fff" stop-opacity="0"/><stop offset=".6915" stop-color="#fff" stop-opacity="1"/><stop offset=".7021" stop-color="#fff" stop-opacity="0"/><stop offset=".7128" stop-color="#fff" stop-opacity="1"/><stop offset=".7234" stop-color="#fff" stop-opacity="0"/><stop offset=".734" stop-color="#fff" stop-opacity="1"/><stop offset=".7447" stop-color="#fff" stop-opacity="0"/><stop offset=".7553" stop-color="#fff" stop-opacity="1"/><stop offset=".766" stop-color="#fff" stop-opacity="0"/><stop offset=".7766" stop-color="#fff" stop-opacity="1"/><stop offset=".7872" stop-color="#fff" stop-opacity="0"/><stop offset=".7979" stop-color="#fff" stop-opacity="1"/><stop offset=".8085" stop-color="#fff" stop-opacity="0"/><stop offset=".8191" stop-color="#fff" stop-opacity="1"/><stop offset=".8298" stop-color="#fff" stop-opacity="0"/><stop offset=".8404" stop-color="#fff" stop-opacity="1"/><stop offset=".8511" stop-color="#fff" stop-opacity="0"/><stop offset=".8617" stop-color="#fff" stop-opacity="1"/><stop offset=".8723" stop-color="#fff" stop-opacity="0"/><stop offset=".883" stop-color="#fff" stop-opacity="1"/><stop offset=".8936" stop-color="#fff" stop-opacity="0"/><stop offset=".9043" stop-color="#fff" stop-opacity="1"/><stop offset=".9149" stop-color="#fff" stop-opacity="0"/><stop offset=".9255" stop-color="#fff" stop-opacity="1"/><stop offset=".9362" stop-color="#fff" stop-opacity="0"/><stop offset=".9468" stop-color="#fff" stop-opacity="1"/><stop offset=".9574" stop-color="#fff" stop-opacity="0"/><stop offset=".9681" stop-color="#fff" stop-opacity="1"/><stop offset=".9787" stop-color="#fff" stop-opacity="0"/><stop offset=".9894" stop-color="#fff" stop-opacity="1"/><stop offset="1" stop-color="#fff" stop-opacity="0"/></linearGradient>
<mask id="mB" maskUnits="userSpaceOnUse" x="78.7" y="360.6" width="698.0" height="219.7" style="mask-type:alpha"><rect x="78.7" y="360.6" width="698.0" height="219.7" fill="url(#hB)"/></mask>
<linearGradient id="b0" x2="0" y2="1"><stop offset=".009" stop-color="#1115ff"/><stop offset=".031" stop-color="#272fff"/><stop offset=".067" stop-color="#565eff"/><stop offset=".081" stop-color="#6f77ff"/><stop offset=".11" stop-color="#a6aeff"/><stop offset=".125" stop-color="#bac2ff"/><stop offset=".132" stop-color="#c2caff"/><stop offset=".153" stop-color="#d7ddf7"/><stop offset=".175" stop-color="#e7e9f1"/><stop offset=".19" stop-color="#eeeeed"/><stop offset=".233" stop-color="#f4e1dc"/><stop offset=".283" stop-color="#f9d6cf"/><stop offset=".363" stop-color="#ffc8c0"/><stop offset=".406" stop-color="#ffc3bb"/><stop offset=".666" stop-color="#ffc1b9"/><stop offset=".991" stop-color="#fecac2"/></linearGradient>
<linearGradient id="b1" x2="0" y2="1"><stop offset=".009" stop-color="#00f"/><stop offset=".038" stop-color="#2028ff"/><stop offset=".067" stop-color="#4b53ff"/><stop offset=".081" stop-color="#656dff"/><stop offset=".11" stop-color="#a0a8ff"/><stop offset=".125" stop-color="#b6beff"/><stop offset=".139" stop-color="#c5cdfe"/><stop offset=".161" stop-color="#dae0f6"/><stop offset=".175" stop-color="#e5e7f2"/><stop offset=".197" stop-color="#eee"/><stop offset=".24" stop-color="#f3e4e0"/><stop offset=".327" stop-color="#f9d4cc"/><stop offset=".392" stop-color="#fecac2"/><stop offset=".457" stop-color="#ffc5bd"/><stop offset=".695" stop-color="#ffc3bb"/><stop offset=".991" stop-color="#fdcbc3"/></linearGradient>
<linearGradient id="b2" x2="0" y2="1"><stop offset=".009" stop-color="#00f"/><stop offset=".038" stop-color="#191fff"/><stop offset=".067" stop-color="#3f47ff"/><stop offset=".081" stop-color="#5961ff"/><stop offset=".11" stop-color="#99a1ff"/><stop offset=".125" stop-color="#b1b9ff"/><stop offset=".139" stop-color="#c2caff"/><stop offset=".161" stop-color="#d7def7"/><stop offset=".175" stop-color="#e2e6f3"/><stop offset=".204" stop-color="#ededee"/><stop offset=".37" stop-color="#fad2ca"/><stop offset=".493" stop-color="#ffc6be"/><stop offset=".782" stop-color="#ffc6be"/><stop offset=".991" stop-color="#fdcdc5"/></linearGradient>
<linearGradient id="b3" x2="0" y2="1"><stop offset=".009" stop-color="#00f"/><stop offset=".024" stop-color="#0304ff"/><stop offset=".038" stop-color="#0b0dff"/><stop offset=".067" stop-color="#222aff"/><stop offset=".074" stop-color="#2c34ff"/><stop offset=".089" stop-color="#4a52ff"/><stop offset=".117" stop-color="#8f97ff"/><stop offset=".132" stop-color="#a6aeff"/><stop offset=".153" stop-color="#c3cbff"/><stop offset=".175" stop-color="#d8def7"/><stop offset=".211" stop-color="#e7e9f1"/><stop offset=".247" stop-color="#eeeded"/><stop offset=".384" stop-color="#fad3cb"/><stop offset=".5" stop-color="#ffc8c0"/><stop offset=".782" stop-color="#ffc6be"/><stop offset=".991" stop-color="#fccec6"/></linearGradient>
<linearGradient id="b4" x2="0" y2="1"><stop offset=".009" stop-color="#00f"/><stop offset=".052" stop-color="#0506ff"/><stop offset=".067" stop-color="#090aff"/><stop offset=".074" stop-color="#0e11ff"/><stop offset=".081" stop-color="#191eff"/><stop offset=".089" stop-color="#2830ff"/><stop offset=".117" stop-color="#7880ff"/><stop offset=".125" stop-color="#868eff"/><stop offset=".153" stop-color="#b5bdff"/><stop offset=".168" stop-color="#c7cffe"/><stop offset=".182" stop-color="#d2daf9"/><stop offset=".218" stop-color="#e1e5f3"/><stop offset=".276" stop-color="#eeeeed"/><stop offset=".384" stop-color="#f9d6ce"/><stop offset=".507" stop-color="#ffc9c1"/><stop offset=".789" stop-color="#ffc6be"/><stop offset=".991" stop-color="#fccfc7"/></linearGradient>
<linearGradient id="b5" x2="0" y2="1"><stop offset=".009" stop-color="#00f"/><stop offset=".067" stop-color="#00f"/><stop offset=".074" stop-color="#0304ff"/><stop offset=".081" stop-color="#0c0fff"/><stop offset=".089" stop-color="#1a20ff"/><stop offset=".117" stop-color="#646cff"/><stop offset=".153" stop-color="#a8b0ff"/><stop offset=".168" stop-color="#bec6ff"/><stop offset=".182" stop-color="#cbd3fc"/><stop offset=".197" stop-color="#d2daf9"/><stop offset=".24" stop-color="#e3e6f2"/><stop offset=".283" stop-color="#eee"/><stop offset=".392" stop-color="#f5ddd8"/><stop offset=".457" stop-color="#f9d6ce"/><stop offset=".514" stop-color="#fbd2ca"/><stop offset=".825" stop-color="#fbd1c9"/><stop offset=".991" stop-color="#f8d7d0"/></linearGradient>
<linearGradient id="b6" x2="0" y2="1"><stop offset=".009" stop-color="#00f"/><stop offset=".067" stop-color="#00f"/><stop offset=".074" stop-color="#0303ff"/><stop offset=".081" stop-color="#0a0cff"/><stop offset=".096" stop-color="#2229ff"/><stop offset=".117" stop-color="#525aff"/><stop offset=".153" stop-color="#9aa2ff"/><stop offset=".168" stop-color="#b4bcff"/><stop offset=".175" stop-color="#bec6ff"/><stop offset=".182" stop-color="#c4ccff"/><stop offset=".211" stop-color="#d3dbf8"/><stop offset=".247" stop-color="#e2e6f3"/><stop offset=".298" stop-color="#eee"/><stop offset=".522" stop-color="#f6dbd5"/><stop offset=".883" stop-color="#f6dbd5"/><stop offset=".991" stop-color="#f4e0db"/></linearGradient>
<linearGradient id="b7" x2="0" y2="1"><stop offset=".009" stop-color="#00f"/><stop offset=".067" stop-color="#00f"/><stop offset=".074" stop-color="#0203ff"/><stop offset=".081" stop-color="#090bff"/><stop offset=".096" stop-color="#1e25ff"/><stop offset=".117" stop-color="#4951ff"/><stop offset=".132" stop-color="#646cff"/><stop offset=".161" stop-color="#9fa7ff"/><stop offset=".175" stop-color="#b6beff"/><stop offset=".182" stop-color="#bdc5ff"/><stop offset=".211" stop-color="#cdd5fb"/><stop offset=".255" stop-color="#e0e4f3"/><stop offset=".291" stop-color="#e9eaf0"/><stop offset=".334" stop-color="#eee"/><stop offset=".522" stop-color="#f3e2de"/><stop offset=".883" stop-color="#f3e2de"/><stop offset=".991" stop-color="#f2e4e1"/></linearGradient>
<linearGradient id="b8" x2="0" y2="1"><stop offset=".009" stop-color="#00f"/><stop offset=".067" stop-color="#00f"/><stop offset=".074" stop-color="#0202ff"/><stop offset=".081" stop-color="#0809ff"/><stop offset=".089" stop-color="#1013ff"/><stop offset=".103" stop-color="#262eff"/><stop offset=".132" stop-color="#5a62ff"/><stop offset=".161" stop-color="#979fff"/><stop offset=".175" stop-color="#afb7ff"/><stop offset=".19" stop-color="#bbc3ff"/><stop offset=".218" stop-color="#cbd3fc"/><stop offset=".262" stop-color="#dee2f4"/><stop offset=".312" stop-color="#e7e9f1"/><stop offset=".413" stop-color="#eee"/><stop offset=".522" stop-color="#f0e9e8"/><stop offset=".991" stop-color="#f0e9e8"/></linearGradient>
<linearGradient id="b9" x2="0" y2="1"><stop offset=".009" stop-color="#00f"/><stop offset=".067" stop-color="#00f"/><stop offset=".081" stop-color="#0708ff"/><stop offset=".103" stop-color="#2129ff"/><stop offset=".132" stop-color="#5159ff"/><stop offset=".161" stop-color="#8c94ff"/><stop offset=".175" stop-color="#a5adff"/><stop offset=".19" stop-color="#b1b9ff"/><stop offset=".218" stop-color="#c4ccff"/><stop offset=".247" stop-color="#d2daf9"/><stop offset=".269" stop-color="#dbe0f5"/><stop offset=".327" stop-color="#e5e8f1"/><stop offset=".457" stop-color="#eee"/><stop offset=".522" stop-color="#efeceb"/><stop offset=".991" stop-color="#efeceb"/></linearGradient>
<linearGradient id="b10" x2="0" y2="1"><stop offset=".009" stop-color="#00f"/><stop offset=".067" stop-color="#00f"/><stop offset=".081" stop-color="#0607ff"/><stop offset=".103" stop-color="#1d24ff"/><stop offset=".132" stop-color="#4850ff"/><stop offset=".161" stop-color="#828aff"/><stop offset=".175" stop-color="#9ba3ff"/><stop offset=".197" stop-color="#aeb6ff"/><stop offset=".226" stop-color="#c1c9ff"/><stop offset=".255" stop-color="#d0d8fa"/><stop offset=".276" stop-color="#d8def6"/><stop offset=".348" stop-color="#e4e7f2"/><stop offset=".5" stop-color="#edeeee"/><stop offset=".991" stop-color="#eee"/></linearGradient>
<linearGradient id="b11" x2="0" y2="1"><stop offset=".009" stop-color="#00f"/><stop offset=".067" stop-color="#00f"/><stop offset=".089" stop-color="#0809ff"/><stop offset=".117" stop-color="#2128ff"/><stop offset=".132" stop-color="#323aff"/><stop offset=".139" stop-color="#3f47ff"/><stop offset=".168" stop-color="#7f87ff"/><stop offset=".182" stop-color="#949cff"/><stop offset=".233" stop-color="#b9c1ff"/><stop offset=".262" stop-color="#c7cffd"/><stop offset=".291" stop-color="#d1d9f9"/><stop offset=".377" stop-color="#dfe3f4"/><stop offset=".522" stop-color="#ebecef"/><stop offset=".63" stop-color="#eee"/><stop offset=".991" stop-color="#eee"/></linearGradient>
<linearGradient id="b12" x2="0" y2="1"><stop offset=".009" stop-color="#00f"/><stop offset=".081" stop-color="#0202ff"/><stop offset=".103" stop-color="#090cff"/><stop offset=".125" stop-color="#151aff"/><stop offset=".132" stop-color="#1d23ff"/><stop offset=".139" stop-color="#2931ff"/><stop offset=".168" stop-color="#6e76ff"/><stop offset=".175" stop-color="#7c84ff"/><stop offset=".182" stop-color="#868eff"/><stop offset=".211" stop-color="#9fa7ff"/><stop offset=".24" stop-color="#b1b9ff"/><stop offset=".269" stop-color="#bfc7ff"/><stop offset=".305" stop-color="#cad2fc"/><stop offset=".348" stop-color="#d3dbf8"/><stop offset=".435" stop-color="#e0e4f3"/><stop offset=".594" stop-color="#ededef"/><stop offset=".991" stop-color="#eee"/></linearGradient>
<linearGradient id="b13" x2="0" y2="1"><stop offset=".009" stop-color="#00f"/><stop offset=".074" stop-color="#0101ff"/><stop offset=".096" stop-color="#0809ff"/><stop offset=".117" stop-color="#1519ff"/><stop offset=".132" stop-color="#2129ff"/><stop offset=".139" stop-color="#2d35ff"/><stop offset=".168" stop-color="#6f77ff"/><stop offset=".182" stop-color="#868eff"/><stop offset=".211" stop-color="#9fa7ff"/><stop offset=".24" stop-color="#b3bbff"/><stop offset=".269" stop-color="#c1c9ff"/><stop offset=".305" stop-color="#cdd5fb"/><stop offset=".348" stop-color="#d6ddf7"/><stop offset=".413" stop-color="#e0e4f3"/><stop offset=".565" stop-color="#ececef"/><stop offset=".991" stop-color="#eee"/></linearGradient>
<linearGradient id="b14" x2="0" y2="1"><stop offset=".009" stop-color="#00f"/><stop offset=".074" stop-color="#0101ff"/><stop offset=".089" stop-color="#0507ff"/><stop offset=".103" stop-color="#0e11ff"/><stop offset=".132" stop-color="#262eff"/><stop offset=".146" stop-color="#4149ff"/><stop offset=".168" stop-color="#7078ff"/><stop offset=".182" stop-color="#868eff"/><stop offset=".211" stop-color="#a0a8ff"/><stop offset=".24" stop-color="#b4bcff"/><stop offset=".269" stop-color="#c3cbff"/><stop offset=".305" stop-color="#cfd7fa"/><stop offset=".392" stop-color="#e0e4f3"/><stop offset=".514" stop-color="#ebecef"/><stop offset=".63" stop-color="#eee"/><stop offset=".991" stop-color="#eee"/></linearGradient>
<linearGradient id="b15" x2="0" y2="1"><stop offset=".009" stop-color="#00f"/><stop offset=".074" stop-color="#0101ff"/><stop offset=".089" stop-color="#0607ff"/><stop offset=".103" stop-color="#0e11ff"/><stop offset=".132" stop-color="#262eff"/><stop offset=".146" stop-color="#3f47ff"/><stop offset=".168" stop-color="#6c74ff"/><stop offset=".175" stop-color="#7880ff"/><stop offset=".19" stop-color="#8890ff"/><stop offset=".218" stop-color="#a0a8ff"/><stop offset=".247" stop-color="#b2baff"/><stop offset=".276" stop-color="#c0c8ff"/><stop offset=".312" stop-color="#cbd3fc"/><stop offset=".348" stop-color="#d3dbf8"/><stop offset=".413" stop-color="#dde2f4"/><stop offset=".536" stop-color="#e9eaf0"/><stop offset=".717" stop-color="#eee"/><stop offset=".991" stop-color="#eee"/></linearGradient>
<linearGradient id="b16" x2="0" y2="1"><stop offset=".009" stop-color="#00f"/><stop offset=".074" stop-color="#0101ff"/><stop offset=".096" stop-color="#090cff"/><stop offset=".132" stop-color="#252dff"/><stop offset=".146" stop-color="#3e46ff"/><stop offset=".168" stop-color="#6870ff"/><stop offset=".175" stop-color="#747cff"/><stop offset=".19" stop-color="#838bff"/><stop offset=".218" stop-color="#9aa2ff"/><stop offset=".247" stop-color="#acb4ff"/><stop offset=".276" stop-color="#bac2ff"/><stop offset=".312" stop-color="#c5cdfe"/><stop offset=".392" stop-color="#d4dcf8"/><stop offset=".478" stop-color="#e1e5f3"/><stop offset=".551" stop-color="#e7e9f1"/><stop offset=".731" stop-color="#eee"/><stop offset=".991" stop-color="#eee"/></linearGradient>
<linearGradient id="b17" x2="0" y2="1"><stop offset=".009" stop-color="#00f"/><stop offset=".074" stop-color="#0101ff"/><stop offset=".096" stop-color="#090bff"/><stop offset=".125" stop-color="#1c22ff"/><stop offset=".132" stop-color="#232bff"/><stop offset=".146" stop-color="#3b43ff"/><stop offset=".168" stop-color="#646cff"/><stop offset=".175" stop-color="#6f77ff"/><stop offset=".19" stop-color="#7e86ff"/><stop offset=".218" stop-color="#949cff"/><stop offset=".247" stop-color="#a6aeff"/><stop offset=".276" stop-color="#b3bbff"/><stop offset=".312" stop-color="#bec6ff"/><stop offset=".442" stop-color="#d3daf8"/><stop offset=".558" stop-color="#dfe4f4"/><stop offset=".753" stop-color="#eaebf0"/><stop offset=".991" stop-color="#ebecef"/></linearGradient>
<linearGradient id="b18" x2="0" y2="1"><stop offset=".009" stop-color="#00f"/><stop offset=".074" stop-color="#0101ff"/><stop offset=".089" stop-color="#0506ff"/><stop offset=".11" stop-color="#1014ff"/><stop offset=".132" stop-color="#2028ff"/><stop offset=".146" stop-color="#373fff"/><stop offset=".168" stop-color="#6068ff"/><stop offset=".182" stop-color="#737bff"/><stop offset=".211" stop-color="#8a92ff"/><stop offset=".24" stop-color="#9ca4ff"/><stop offset=".269" stop-color="#aab2ff"/><stop offset=".305" stop-color="#b5bdff"/><stop offset=".399" stop-color="#c4ccff"/><stop offset=".536" stop-color="#d6ddf7"/><stop offset=".753" stop-color="#e5e8f1"/><stop offset=".991" stop-color="#e8eaf0"/></linearGradient>
<linearGradient id="b19" x2="0" y2="1"><stop offset=".009" stop-color="#00f"/><stop offset=".067" stop-color="#00f"/><stop offset=".081" stop-color="#0507ff"/><stop offset=".103" stop-color="#1b21ff"/><stop offset=".132" stop-color="#424aff"/><stop offset=".161" stop-color="#747cff"/><stop offset=".175" stop-color="#8991ff"/><stop offset=".197" stop-color="#99a1ff"/><stop offset=".226" stop-color="#aab2ff"/><stop offset=".283" stop-color="#bfc7ff"/><stop offset=".334" stop-color="#c7cffe"/><stop offset=".449" stop-color="#d3dbf8"/><stop offset=".579" stop-color="#dfe4f4"/><stop offset=".832" stop-color="#e9ebf0"/><stop offset=".991" stop-color="#eaebf0"/></linearGradient>
<linearGradient id="b20" x2="0" y2="1"><stop offset=".009" stop-color="#00f"/><stop offset=".067" stop-color="#00f"/><stop offset=".074" stop-color="#0203ff"/><stop offset=".089" stop-color="#1317ff"/><stop offset=".117" stop-color="#4a52ff"/><stop offset=".168" stop-color="#9ea6ff"/><stop offset=".182" stop-color="#acb4ff"/><stop offset=".197" stop-color="#b4bcff"/><stop offset=".255" stop-color="#c8d0fd"/><stop offset=".32" stop-color="#d2daf9"/><stop offset=".601" stop-color="#e7e9f1"/><stop offset=".991" stop-color="#ebecef"/></linearGradient>
<linearGradient id="b21" x2="0" y2="1"><stop offset=".009" stop-color="#00f"/><stop offset=".067" stop-color="#00f"/><stop offset=".074" stop-color="#0304ff"/><stop offset=".081" stop-color="#0c0eff"/><stop offset=".089" stop-color="#181eff"/><stop offset=".117" stop-color="#5e66ff"/><stop offset=".161" stop-color="#a8b0ff"/><stop offset=".175" stop-color="#b8c0ff"/><stop offset=".182" stop-color="#bdc5ff"/><stop offset=".233" stop-color="#ced6fb"/><stop offset=".32" stop-color="#dbe1f5"/><stop offset=".522" stop-color="#e8eaf0"/><stop offset=".991" stop-color="#ededef"/></linearGradient>
<linearGradient id="b22" x2="0" y2="1"><stop offset=".009" stop-color="#00f"/><stop offset=".052" stop-color="#0506ff"/><stop offset=".067" stop-color="#090aff"/><stop offset=".074" stop-color="#0e11ff"/><stop offset=".081" stop-color="#181eff"/><stop offset=".089" stop-color="#272fff"/><stop offset=".117" stop-color="#737bff"/><stop offset=".146" stop-color="#a6aeff"/><stop offset=".161" stop-color="#bbc3ff"/><stop offset=".175" stop-color="#cad2fc"/><stop offset=".197" stop-color="#d2daf9"/><stop offset=".276" stop-color="#e1e4f3"/><stop offset=".428" stop-color="#ececef"/><stop offset=".991" stop-color="#eee"/></linearGradient>
<linearGradient id="b23" x2="0" y2="1"><stop offset=".009" stop-color="#00f"/><stop offset=".038" stop-color="#171dff"/><stop offset=".067" stop-color="#3840ff"/><stop offset=".081" stop-color="#4d55ff"/><stop offset=".117" stop-color="#8b93ff"/><stop offset=".153" stop-color="#b7bfff"/><stop offset=".175" stop-color="#cad2fc"/><stop offset=".211" stop-color="#d8def7"/><stop offset=".276" stop-color="#e6e9f1"/><stop offset=".363" stop-color="#ebecef"/><stop offset=".507" stop-color="#eeeded"/><stop offset=".991" stop-color="#efedec"/></linearGradient>
<linearGradient id="b24" x2="0" y2="1"><stop offset=".009" stop-color="#1115ff"/><stop offset=".031" stop-color="#353dff"/><stop offset=".06" stop-color="#6068ff"/><stop offset=".096" stop-color="#8c94ff"/><stop offset=".125" stop-color="#a7afff"/><stop offset=".153" stop-color="#bec6ff"/><stop offset=".175" stop-color="#cad2fc"/><stop offset=".218" stop-color="#dce1f5"/><stop offset=".262" stop-color="#eaebf0"/><stop offset=".298" stop-color="#eee"/><stop offset=".529" stop-color="#efeceb"/><stop offset=".991" stop-color="#efeceb"/></linearGradient>
<linearGradient id="b25" x2="0" y2="1"><stop offset=".009" stop-color="#2931ff"/><stop offset=".031" stop-color="#555dff"/><stop offset=".052" stop-color="#7a82ff"/><stop offset=".074" stop-color="#969eff"/><stop offset=".103" stop-color="#b2baff"/><stop offset=".132" stop-color="#c6cefe"/><stop offset=".161" stop-color="#d5dcf8"/><stop offset=".182" stop-color="#dde2f4"/><stop offset=".226" stop-color="#e8eaf0"/><stop offset=".262" stop-color="#eee"/><stop offset=".298" stop-color="#efeceb"/><stop offset=".522" stop-color="#f1e8e6"/><stop offset=".991" stop-color="#f1e8e6"/></linearGradient>
<linearGradient id="b26" x2="0" y2="1"><stop offset=".009" stop-color="#434bff"/><stop offset=".031" stop-color="#767eff"/><stop offset=".045" stop-color="#929aff"/><stop offset=".06" stop-color="#a8b0ff"/><stop offset=".074" stop-color="#b8c0ff"/><stop offset=".089" stop-color="#c6cefe"/><stop offset=".11" stop-color="#d5dcf7"/><stop offset=".139" stop-color="#e3e6f2"/><stop offset=".175" stop-color="#ededee"/><stop offset=".262" stop-color="#f0eae9"/><stop offset=".507" stop-color="#f2e5e1"/><stop offset=".991" stop-color="#f2e4e1"/></linearGradient>
<linearGradient id="b27" x2="0" y2="1"><stop offset=".009" stop-color="#9098ff"/><stop offset=".038" stop-color="#b5bdff"/><stop offset=".052" stop-color="#c3cbff"/><stop offset=".067" stop-color="#cdd5fb"/><stop offset=".11" stop-color="#e3e6f2"/><stop offset=".153" stop-color="#eee"/><stop offset=".226" stop-color="#f1e7e5"/><stop offset=".32" stop-color="#f2e4e1"/><stop offset=".522" stop-color="#f3e2de"/><stop offset=".991" stop-color="#f3e3e0"/></linearGradient>
<linearGradient id="b28" x2="0" y2="1"><stop offset=".009" stop-color="#dde2f4"/><stop offset=".038" stop-color="#e8eaf0"/><stop offset=".067" stop-color="#eee"/><stop offset=".291" stop-color="#f4e0db"/><stop offset=".883" stop-color="#f4e0db"/><stop offset=".991" stop-color="#f3e2de"/></linearGradient>
<linearGradient id="b29" x2="0" y2="1"><stop offset=".009" stop-color="#e6e8f1"/><stop offset=".052" stop-color="#eeeded"/><stop offset=".175" stop-color="#f4e1dd"/><stop offset=".262" stop-color="#f5dfda"/><stop offset=".782" stop-color="#f4e0db"/><stop offset=".991" stop-color="#f3e3e0"/></linearGradient>
<linearGradient id="b30" x2="0" y2="1"><stop offset=".009" stop-color="#eee"/><stop offset=".074" stop-color="#f0e8e7"/><stop offset=".182" stop-color="#f6dbd5"/><stop offset=".392" stop-color="#f4e0db"/><stop offset=".774" stop-color="#f4e0db"/><stop offset=".991" stop-color="#f2e4e1"/></linearGradient>
<linearGradient id="b31" x2="0" y2="1"><stop offset=".009" stop-color="#ffa9a1"/><stop offset=".052" stop-color="#ffbdb5"/><stop offset=".103" stop-color="#fccec6"/><stop offset=".146" stop-color="#f9d6ce"/><stop offset=".197" stop-color="#f7dbd4"/><stop offset=".486" stop-color="#f1e6e4"/><stop offset=".991" stop-color="#f0e9e8"/></linearGradient>
<linearGradient id="b32" x2="0" y2="1"><stop offset=".009" stop-color="#ff645c"/><stop offset=".052" stop-color="#ff8f87"/><stop offset=".103" stop-color="#ffb6ae"/><stop offset=".146" stop-color="#fdcdc5"/><stop offset=".182" stop-color="#f8d9d1"/><stop offset=".5" stop-color="#eeeeed"/><stop offset=".991" stop-color="#eee"/></linearGradient>
<linearGradient id="b33" x2="0" y2="1"><stop offset=".009" stop-color="#ff5149"/><stop offset=".052" stop-color="#ff8179"/><stop offset=".11" stop-color="#ffb9b1"/><stop offset=".132" stop-color="#ffc7bf"/><stop offset=".153" stop-color="#fad2ca"/><stop offset=".182" stop-color="#f6dbd5"/><stop offset=".399" stop-color="#f0eae8"/><stop offset=".5" stop-color="#eeeded"/><stop offset=".991" stop-color="#ededef"/></linearGradient>
<linearGradient id="b34" x2="0" y2="1"><stop offset=".009" stop-color="#ff3e36"/><stop offset=".052" stop-color="#ff746c"/><stop offset=".11" stop-color="#ffb7af"/><stop offset=".132" stop-color="#ffc8c0"/><stop offset=".146" stop-color="#fbd0c8"/><stop offset=".182" stop-color="#f5ddd8"/><stop offset=".449" stop-color="#efedec"/><stop offset=".637" stop-color="#ebecef"/><stop offset=".991" stop-color="#ebecef"/></linearGradient>
<linearGradient id="b35" x2="0" y2="1"><stop offset=".009" stop-color="#ff2d25"/><stop offset=".052" stop-color="#ff675f"/><stop offset=".11" stop-color="#ffaea6"/><stop offset=".146" stop-color="#ffc9c1"/><stop offset=".182" stop-color="#f8d7d0"/><stop offset=".226" stop-color="#f6ddd7"/><stop offset=".37" stop-color="#f1e8e6"/><stop offset=".486" stop-color="#eeeded"/><stop offset=".991" stop-color="#ededef"/></linearGradient>
<linearGradient id="b36" x2="0" y2="1"><stop offset=".009" stop-color="#ff1d17"/><stop offset=".052" stop-color="#ff5a52"/><stop offset=".11" stop-color="#ffa59d"/><stop offset=".146" stop-color="#ffc1b9"/><stop offset=".182" stop-color="#fbd1c9"/><stop offset=".233" stop-color="#f7d9d3"/><stop offset=".356" stop-color="#f2e5e2"/><stop offset=".493" stop-color="#eeeded"/><stop offset=".991" stop-color="#eee"/></linearGradient>
<linearGradient id="b37" x2="0" y2="1"><stop offset=".009" stop-color="#ff0706"/><stop offset=".031" stop-color="#ff2921"/><stop offset=".096" stop-color="#ff8b83"/><stop offset=".117" stop-color="#ffa79f"/><stop offset=".153" stop-color="#ffc2ba"/><stop offset=".19" stop-color="#fbd1c9"/><stop offset=".24" stop-color="#f7d9d3"/><stop offset=".341" stop-color="#f2e4e1"/><stop offset=".493" stop-color="#eeeded"/><stop offset=".991" stop-color="#eaebf0"/></linearGradient>
<linearGradient id="b38" x2="0" y2="1"><stop offset=".009" stop-color="#f00"/><stop offset=".045" stop-color="#ff322a"/><stop offset=".074" stop-color="#ff5c54"/><stop offset=".103" stop-color="#ff8d85"/><stop offset=".117" stop-color="#ffa199"/><stop offset=".139" stop-color="#ffb5ad"/><stop offset=".161" stop-color="#ffc3bb"/><stop offset=".197" stop-color="#fbd0c8"/><stop offset=".247" stop-color="#f7dad3"/><stop offset=".334" stop-color="#f3e3e0"/><stop offset=".486" stop-color="#efedec"/><stop offset=".991" stop-color="#e6e8f1"/></linearGradient>
<linearGradient id="b39" x2="0" y2="1"><stop offset=".009" stop-color="#f00"/><stop offset=".052" stop-color="#ff0302"/><stop offset=".074" stop-color="#ff0807"/><stop offset=".081" stop-color="#ff100d"/><stop offset=".096" stop-color="#ff271f"/><stop offset=".125" stop-color="#ff5c54"/><stop offset=".161" stop-color="#ff948c"/><stop offset=".175" stop-color="#ffa69e"/><stop offset=".197" stop-color="#ffb6ae"/><stop offset=".226" stop-color="#ffc7bf"/><stop offset=".283" stop-color="#f6ddd7"/><stop offset=".37" stop-color="#f0e9e7"/><stop offset=".486" stop-color="#eee"/><stop offset=".753" stop-color="#e3e6f2"/><stop offset=".991" stop-color="#dfe3f4"/></linearGradient>
<linearGradient id="b40" x2="0" y2="1"><stop offset=".009" stop-color="#f00"/><stop offset=".081" stop-color="#ff0101"/><stop offset=".125" stop-color="#ff0e0b"/><stop offset=".132" stop-color="#ff1511"/><stop offset=".139" stop-color="#ff221c"/><stop offset=".146" stop-color="#ff342c"/><stop offset=".168" stop-color="#ff7169"/><stop offset=".175" stop-color="#ff8179"/><stop offset=".182" stop-color="#ff8c84"/><stop offset=".211" stop-color="#ffaba3"/><stop offset=".24" stop-color="#ffc4bc"/><stop offset=".269" stop-color="#f9d5cd"/><stop offset=".298" stop-color="#f4e0db"/><stop offset=".356" stop-color="#f0e9e8"/><stop offset=".413" stop-color="#eee"/><stop offset=".536" stop-color="#ebecef"/><stop offset=".847" stop-color="#d8dff6"/><stop offset=".991" stop-color="#d8def6"/></linearGradient>
<linearGradient id="b41" x2="0" y2="1"><stop offset=".009" stop-color="#f00"/><stop offset=".089" stop-color="#ff0201"/><stop offset=".125" stop-color="#ff0c0a"/><stop offset=".132" stop-color="#ff120f"/><stop offset=".139" stop-color="#ff1f19"/><stop offset=".146" stop-color="#ff3129"/><stop offset=".168" stop-color="#ff6d65"/><stop offset=".175" stop-color="#ff7d75"/><stop offset=".182" stop-color="#ff8981"/><stop offset=".211" stop-color="#ffa8a0"/><stop offset=".24" stop-color="#ffc2ba"/><stop offset=".269" stop-color="#f9d5cd"/><stop offset=".298" stop-color="#f4e0db"/><stop offset=".356" stop-color="#f0eae8"/><stop offset=".406" stop-color="#eee"/><stop offset=".543" stop-color="#ecedef"/><stop offset=".854" stop-color="#dfe3f4"/><stop offset=".991" stop-color="#dfe3f4"/></linearGradient>
<linearGradient id="b42" x2="0" y2="1"><stop offset=".009" stop-color="#f00"/><stop offset=".089" stop-color="#ff0101"/><stop offset=".125" stop-color="#ff0a08"/><stop offset=".132" stop-color="#ff100c"/><stop offset=".139" stop-color="#ff1c16"/><stop offset=".146" stop-color="#ff2d25"/><stop offset=".168" stop-color="#ff6961"/><stop offset=".175" stop-color="#ff7a72"/><stop offset=".182" stop-color="#ff857d"/><stop offset=".218" stop-color="#ffada5"/><stop offset=".247" stop-color="#ffc7bf"/><stop offset=".276" stop-color="#f8d8d1"/><stop offset=".298" stop-color="#f4e0db"/><stop offset=".356" stop-color="#f0eae9"/><stop offset=".406" stop-color="#eee"/><stop offset=".991" stop-color="#e6e8f1"/></linearGradient>
<linearGradient id="b43" x2="0" y2="1"><stop offset=".009" stop-color="#f00"/><stop offset=".067" stop-color="#f00"/><stop offset=".074" stop-color="#ff0101"/><stop offset=".089" stop-color="#ff0b09"/><stop offset=".11" stop-color="#ff241d"/><stop offset=".132" stop-color="#ff423a"/><stop offset=".168" stop-color="#ff928a"/><stop offset=".182" stop-color="#ffa8a0"/><stop offset=".218" stop-color="#ffc5bd"/><stop offset=".24" stop-color="#fbd2ca"/><stop offset=".269" stop-color="#f5dfda"/><stop offset=".291" stop-color="#f2e5e3"/><stop offset=".348" stop-color="#eee"/><stop offset=".413" stop-color="#e8eaf0"/><stop offset=".637" stop-color="#dfe3f4"/><stop offset=".991" stop-color="#dce1f5"/></linearGradient>
<linearGradient id="b44" x2="0" y2="1"><stop offset=".009" stop-color="#f00"/><stop offset=".067" stop-color="#f00"/><stop offset=".074" stop-color="#ff0302"/><stop offset=".081" stop-color="#ff0b09"/><stop offset=".096" stop-color="#ff251e"/><stop offset=".117" stop-color="#ff564e"/><stop offset=".153" stop-color="#ffa098"/><stop offset=".168" stop-color="#ffbab2"/><stop offset=".175" stop-color="#ffc4bc"/><stop offset=".182" stop-color="#fecac2"/><stop offset=".211" stop-color="#f8d8d1"/><stop offset=".262" stop-color="#f1e8e6"/><stop offset=".298" stop-color="#eee"/><stop offset=".507" stop-color="#d9dff6"/><stop offset=".608" stop-color="#d3dbf8"/><stop offset=".991" stop-color="#d2daf9"/></linearGradient>
<linearGradient id="b45" x2="0" y2="1"><stop offset=".009" stop-color="#f00"/><stop offset=".067" stop-color="#f00"/><stop offset=".074" stop-color="#ff0403"/><stop offset=".081" stop-color="#ff100c"/><stop offset=".089" stop-color="#ff201a"/><stop offset=".117" stop-color="#ff736b"/><stop offset=".146" stop-color="#ffaba3"/><stop offset=".161" stop-color="#ffc3bb"/><stop offset=".175" stop-color="#fad4cc"/><stop offset=".182" stop-color="#f8d9d1"/><stop offset=".233" stop-color="#f0e8e7"/><stop offset=".262" stop-color="#eee"/><stop offset=".348" stop-color="#e2e6f3"/><stop offset=".529" stop-color="#d2daf9"/><stop offset=".637" stop-color="#cfd7fa"/><stop offset=".991" stop-color="#cfd7fa"/></linearGradient>
<linearGradient id="b46" x2="0" y2="1"><stop offset=".009" stop-color="#f00"/><stop offset=".024" stop-color="#ff0201"/><stop offset=".045" stop-color="#ff0a08"/><stop offset=".067" stop-color="#ff1813"/><stop offset=".074" stop-color="#ff201a"/><stop offset=".081" stop-color="#ff2f27"/><stop offset=".089" stop-color="#ff4139"/><stop offset=".11" stop-color="#ff8179"/><stop offset=".117" stop-color="#ff948c"/><stop offset=".125" stop-color="#ffa29a"/><stop offset=".146" stop-color="#ffc4bc"/><stop offset=".168" stop-color="#f5ded9"/><stop offset=".182" stop-color="#f1e7e4"/><stop offset=".197" stop-color="#f0ebe9"/><stop offset=".218" stop-color="#ededee"/><stop offset=".384" stop-color="#d8def6"/><stop offset=".507" stop-color="#ced6fa"/><stop offset=".63" stop-color="#cbd3fc"/><stop offset=".991" stop-color="#cbd3fc"/></linearGradient>
<linearGradient id="b47" x2="0" y2="1"><stop offset=".009" stop-color="#f00"/><stop offset=".045" stop-color="#ff0605"/><stop offset=".067" stop-color="#ff0e0b"/><stop offset=".074" stop-color="#ff1611"/><stop offset=".081" stop-color="#ff241d"/><stop offset=".089" stop-color="#ff372f"/><stop offset=".11" stop-color="#ff7b73"/><stop offset=".117" stop-color="#ff8f87"/><stop offset=".125" stop-color="#ff9e96"/><stop offset=".146" stop-color="#ffc2ba"/><stop offset=".168" stop-color="#f5dfda"/><stop offset=".182" stop-color="#f0e9e8"/><stop offset=".197" stop-color="#eee"/><stop offset=".24" stop-color="#e2e5f3"/><stop offset=".334" stop-color="#d2daf9"/><stop offset=".493" stop-color="#c4ccff"/><stop offset=".63" stop-color="#c0c8ff"/><stop offset=".991" stop-color="#c2caff"/></linearGradient>
<linearGradient id="b48" x2="0" y2="1"><stop offset=".009" stop-color="#f00"/><stop offset=".067" stop-color="#ff0504"/><stop offset=".074" stop-color="#ff0b09"/><stop offset=".081" stop-color="#ff1914"/><stop offset=".089" stop-color="#ff2c24"/><stop offset=".11" stop-color="#ff756d"/><stop offset=".117" stop-color="#ff8a82"/><stop offset=".125" stop-color="#ff9b93"/><stop offset=".146" stop-color="#ffc1b9"/><stop offset=".161" stop-color="#f8d7cf"/><stop offset=".175" stop-color="#f1e7e5"/><stop offset=".19" stop-color="#ededee"/><stop offset=".226" stop-color="#dee2f4"/><stop offset=".276" stop-color="#d1d9f9"/><stop offset=".363" stop-color="#c4ccff"/><stop offset=".471" stop-color="#bbc3ff"/><stop offset=".637" stop-color="#b6beff"/><stop offset=".991" stop-color="#b8c0ff"/></linearGradient>
<linearGradient id="b49" x2="0" y2="1"><stop offset=".009" stop-color="#f00"/><stop offset=".024" stop-color="#ff0202"/><stop offset=".045" stop-color="#ff0b09"/><stop offset=".067" stop-color="#ff1a15"/><stop offset=".074" stop-color="#ff241d"/><stop offset=".081" stop-color="#ff352d"/><stop offset=".089" stop-color="#ff4a42"/><stop offset=".11" stop-color="#ff938b"/><stop offset=".117" stop-color="#ffa8a0"/><stop offset=".125" stop-color="#ffb6ae"/><stop offset=".139" stop-color="#fecbc3"/><stop offset=".153" stop-color="#f6dcd5"/><stop offset=".168" stop-color="#f0e9e8"/><stop offset=".175" stop-color="#ededee"/><stop offset=".211" stop-color="#d4dbf8"/><stop offset=".24" stop-color="#c6cefe"/><stop offset=".262" stop-color="#bdc5ff"/><stop offset=".298" stop-color="#b4bcff"/><stop offset=".37" stop-color="#abb3ff"/><stop offset=".471" stop-color="#a6aeff"/><stop offset=".623" stop-color="#a4acff"/><stop offset=".89" stop-color="#a5adff"/><stop offset=".991" stop-color="#a9b1ff"/></linearGradient>
<linearGradient id="b50" x2="0" y2="1"><stop offset=".009" stop-color="#f00"/><stop offset=".031" stop-color="#ff0907"/><stop offset=".052" stop-color="#ff1e18"/><stop offset=".067" stop-color="#ff3028"/><stop offset=".074" stop-color="#ff3d35"/><stop offset=".081" stop-color="#ff5048"/><stop offset=".103" stop-color="#ff9b93"/><stop offset=".11" stop-color="#ffb2aa"/><stop offset=".117" stop-color="#ffc5bd"/><stop offset=".125" stop-color="#fbd1c9"/><stop offset=".132" stop-color="#f7d9d2"/><stop offset=".153" stop-color="#efebea"/><stop offset=".161" stop-color="#ededef"/><stop offset=".197" stop-color="#d2daf9"/><stop offset=".218" stop-color="#c3cbff"/><stop offset=".269" stop-color="#a4acff"/><stop offset=".291" stop-color="#9da5ff"/><stop offset=".348" stop-color="#959dff"/><stop offset=".406" stop-color="#929aff"/><stop offset=".652" stop-color="#929aff"/><stop offset=".897" stop-color="#959dff"/><stop offset=".991" stop-color="#99a1ff"/></linearGradient>
<linearGradient id="b51" x2="0" y2="1"><stop offset=".009" stop-color="#f00"/><stop offset=".038" stop-color="#ff2d25"/><stop offset=".067" stop-color="#ff625a"/><stop offset=".081" stop-color="#ff8179"/><stop offset=".11" stop-color="#ffc8c0"/><stop offset=".117" stop-color="#f9d6ce"/><stop offset=".132" stop-color="#f0eae8"/><stop offset=".139" stop-color="#e9ebf0"/><stop offset=".161" stop-color="#d2daf9"/><stop offset=".175" stop-color="#c7cffe"/><stop offset=".226" stop-color="#a4acff"/><stop offset=".262" stop-color="#8f97ff"/><stop offset=".298" stop-color="#858dff"/><stop offset=".406" stop-color="#7f87ff"/><stop offset=".666" stop-color="#7e86ff"/><stop offset=".875" stop-color="#848cff"/><stop offset=".991" stop-color="#8d95ff"/></linearGradient>
<linearGradient id="b52" x2="0" y2="1"><stop offset=".009" stop-color="#ff0e0b"/><stop offset=".038" stop-color="#ff564e"/><stop offset=".06" stop-color="#ff857d"/><stop offset=".096" stop-color="#ffc6be"/><stop offset=".117" stop-color="#f1e7e4"/><stop offset=".125" stop-color="#ebecef"/><stop offset=".153" stop-color="#c3cbff"/><stop offset=".182" stop-color="#a7afff"/><stop offset=".233" stop-color="#858dff"/><stop offset=".269" stop-color="#747cff"/><stop offset=".298" stop-color="#6e76ff"/><stop offset=".514" stop-color="#6a72ff"/><stop offset=".724" stop-color="#6b73ff"/><stop offset=".875" stop-color="#737bff"/><stop offset=".991" stop-color="#8189ff"/></linearGradient>
<linearGradient id="b53" x2="0" y2="1"><stop offset=".009" stop-color="#ff5149"/><stop offset=".031" stop-color="#ff8078"/><stop offset=".052" stop-color="#ffa9a1"/><stop offset=".074" stop-color="#fecac2"/><stop offset=".103" stop-color="#eeeded"/><stop offset=".125" stop-color="#d4dbf8"/><stop offset=".139" stop-color="#c3cbff"/><stop offset=".168" stop-color="#a3abff"/><stop offset=".197" stop-color="#9098ff"/><stop offset=".255" stop-color="#777fff"/><stop offset=".298" stop-color="#6e76ff"/><stop offset=".493" stop-color="#6a72ff"/><stop offset=".724" stop-color="#6b73ff"/><stop offset=".875" stop-color="#737bff"/><stop offset=".991" stop-color="#8189ff"/></linearGradient>
<linearGradient id="b54" x2="0" y2="1"><stop offset=".009" stop-color="#ff948c"/><stop offset=".038" stop-color="#ffc6be"/><stop offset=".067" stop-color="#efeceb"/><stop offset=".074" stop-color="#e9eaf0"/><stop offset=".117" stop-color="#c5cdff"/><stop offset=".175" stop-color="#8c94ff"/><stop offset=".218" stop-color="#7c84ff"/><stop offset=".276" stop-color="#7078ff"/><stop offset=".399" stop-color="#6a72ff"/><stop offset=".702" stop-color="#6a72ff"/><stop offset=".861" stop-color="#727aff"/><stop offset=".991" stop-color="#8189ff"/></linearGradient>
<linearGradient id="b55" x2="0" y2="1"><stop offset=".009" stop-color="#ffc1b9"/><stop offset=".016" stop-color="#ffc8c0"/><stop offset=".031" stop-color="#f9d6cf"/><stop offset=".052" stop-color="#efebea"/><stop offset=".06" stop-color="#eaebef"/><stop offset=".081" stop-color="#d5dcf7"/><stop offset=".103" stop-color="#c5cdff"/><stop offset=".132" stop-color="#acb4ff"/><stop offset=".161" stop-color="#8c94ff"/><stop offset=".175" stop-color="#7f87ff"/><stop offset=".226" stop-color="#6e76ff"/><stop offset=".283" stop-color="#646cff"/><stop offset=".363" stop-color="#5d65ff"/><stop offset=".421" stop-color="#5b63ff"/><stop offset=".543" stop-color="#6b73ff"/><stop offset=".868" stop-color="#7c84ff"/><stop offset=".991" stop-color="#868eff"/></linearGradient>
<linearGradient id="b56" x2="0" y2="1"><stop offset=".009" stop-color="#eee"/><stop offset=".038" stop-color="#e4e7f2"/><stop offset=".081" stop-color="#ccd4fb"/><stop offset=".096" stop-color="#c1c9ff"/><stop offset=".132" stop-color="#a0a8ff"/><stop offset=".168" stop-color="#7880ff"/><stop offset=".182" stop-color="#6e76ff"/><stop offset=".247" stop-color="#5d65ff"/><stop offset=".348" stop-color="#5159ff"/><stop offset=".428" stop-color="#4e56ff"/><stop offset=".529" stop-color="#6971ff"/><stop offset=".688" stop-color="#7c84ff"/><stop offset=".991" stop-color="#8b93ff"/></linearGradient>
<linearGradient id="b57" x2="0" y2="1"><stop offset=".009" stop-color="#e1e5f3"/><stop offset=".045" stop-color="#d4dbf8"/><stop offset=".074" stop-color="#c6cefe"/><stop offset=".175" stop-color="#7e86ff"/><stop offset=".218" stop-color="#747cff"/><stop offset=".269" stop-color="#6d75ff"/><stop offset=".421" stop-color="#6b73ff"/><stop offset=".522" stop-color="#7d85ff"/><stop offset=".623" stop-color="#878fff"/><stop offset=".991" stop-color="#979fff"/></linearGradient>
<linearGradient id="b58" x2="0" y2="1"><stop offset=".009" stop-color="#d5dcf8"/><stop offset=".067" stop-color="#bfc7ff"/><stop offset=".117" stop-color="#a1a9ff"/><stop offset=".161" stop-color="#8e96ff"/><stop offset=".182" stop-color="#8890ff"/><stop offset=".255" stop-color="#828aff"/><stop offset=".334" stop-color="#828aff"/><stop offset=".63" stop-color="#99a1ff"/><stop offset=".991" stop-color="#a3abff"/></linearGradient>
<linearGradient id="b59" x2="0" y2="1"><stop offset=".009" stop-color="#cdd5fb"/><stop offset=".067" stop-color="#bdc5ff"/><stop offset=".146" stop-color="#9ba3ff"/><stop offset=".182" stop-color="#939bff"/><stop offset=".312" stop-color="#959dff"/><stop offset=".616" stop-color="#a8b0ff"/><stop offset=".991" stop-color="#b1b9ff"/></linearGradient>
<linearGradient id="b60" x2="0" y2="1"><stop offset=".009" stop-color="#c6cefe"/><stop offset=".067" stop-color="#bac2ff"/><stop offset=".125" stop-color="#a7afff"/><stop offset=".182" stop-color="#9ea6ff"/><stop offset=".471" stop-color="#b4bcff"/><stop offset=".991" stop-color="#bfc7ff"/></linearGradient>
<linearGradient id="b61" x2="0" y2="1"><stop offset=".009" stop-color="#d9dff6"/><stop offset=".067" stop-color="#d1d9f9"/><stop offset=".125" stop-color="#c2caff"/><stop offset=".182" stop-color="#b9c1ff"/><stop offset=".305" stop-color="#bcc4ff"/><stop offset=".442" stop-color="#c4ccff"/><stop offset=".991" stop-color="#cdd5fb"/></linearGradient>
<linearGradient id="b62" x2="0" y2="1"><stop offset=".009" stop-color="#eee"/><stop offset=".074" stop-color="#eaebef"/><stop offset=".125" stop-color="#dde2f4"/><stop offset=".168" stop-color="#d6ddf7"/><stop offset=".276" stop-color="#d0d8fa"/><stop offset=".406" stop-color="#d5dcf8"/><stop offset=".666" stop-color="#d5dcf7"/><stop offset=".991" stop-color="#dde2f4"/></linearGradient>
<linearGradient id="b63" x2="0" y2="1"><stop offset=".009" stop-color="#c4ccff"/><stop offset=".06" stop-color="#c7cffd"/><stop offset=".146" stop-color="#c7cffe"/><stop offset=".399" stop-color="#dce1f5"/><stop offset=".991" stop-color="#e3e6f2"/></linearGradient>
<linearGradient id="b64" x2="0" y2="1"><stop offset=".009" stop-color="#9ea6ff"/><stop offset=".125" stop-color="#b1b9ff"/><stop offset=".204" stop-color="#c4ccff"/><stop offset=".269" stop-color="#d0d8f9"/><stop offset=".392" stop-color="#e2e6f3"/><stop offset=".991" stop-color="#e8eaf0"/></linearGradient>
<linearGradient id="b65" x2="0" y2="1"><stop offset=".009" stop-color="#979fff"/><stop offset=".168" stop-color="#c4ccff"/><stop offset=".211" stop-color="#ced6fb"/><stop offset=".283" stop-color="#dbe1f5"/><stop offset=".363" stop-color="#e5e7f2"/><stop offset=".637" stop-color="#eaebf0"/><stop offset=".991" stop-color="#ebecef"/></linearGradient>
<linearGradient id="b66" x2="0" y2="1"><stop offset=".009" stop-color="#9098ff"/><stop offset=".11" stop-color="#bac2ff"/><stop offset=".161" stop-color="#cad2fc"/><stop offset=".226" stop-color="#dae0f6"/><stop offset=".291" stop-color="#e5e8f1"/><stop offset=".399" stop-color="#ebecef"/><stop offset=".991" stop-color="#eee"/></linearGradient>
<linearGradient id="b67" x2="0" y2="1"><stop offset=".009" stop-color="#9098ff"/><stop offset=".06" stop-color="#b3bbff"/><stop offset=".096" stop-color="#c5cdfe"/><stop offset=".117" stop-color="#ced6fb"/><stop offset=".175" stop-color="#dce1f5"/><stop offset=".255" stop-color="#e7e9f1"/><stop offset=".392" stop-color="#ecedef"/><stop offset=".991" stop-color="#eee"/></linearGradient>
<linearGradient id="b68" x2="0" y2="1"><stop offset=".009" stop-color="#9098ff"/><stop offset=".031" stop-color="#a8b0ff"/><stop offset=".052" stop-color="#bcc4ff"/><stop offset=".089" stop-color="#d3dbf8"/><stop offset=".117" stop-color="#e1e5f3"/><stop offset=".168" stop-color="#eaebef"/><stop offset=".291" stop-color="#eee"/><stop offset=".991" stop-color="#eee"/></linearGradient>
<linearGradient id="b69" x2="0" y2="1"><stop offset=".009" stop-color="#aab2ff"/><stop offset=".045" stop-color="#c3cbff"/><stop offset=".074" stop-color="#d2daf9"/><stop offset=".117" stop-color="#e3e6f2"/><stop offset=".175" stop-color="#ecedef"/><stop offset=".522" stop-color="#efeceb"/><stop offset=".991" stop-color="#efeceb"/></linearGradient>
<linearGradient id="b70" x2="0" y2="1"><stop offset=".009" stop-color="#c4ccff"/><stop offset=".074" stop-color="#dae0f6"/><stop offset=".175" stop-color="#eee"/><stop offset=".32" stop-color="#eee"/><stop offset=".522" stop-color="#f0e9e8"/><stop offset=".991" stop-color="#f0e9e8"/></linearGradient>
<linearGradient id="b71" x2="0" y2="1"><stop offset=".009" stop-color="#ccd4fb"/><stop offset=".096" stop-color="#e1e4f3"/><stop offset=".182" stop-color="#eee"/><stop offset=".514" stop-color="#f1e7e5"/><stop offset=".991" stop-color="#f1e7e4"/></linearGradient>
<linearGradient id="b72" x2="0" y2="1"><stop offset=".009" stop-color="#d5dcf8"/><stop offset=".182" stop-color="#eee"/><stop offset=".507" stop-color="#f2e5e1"/><stop offset=".991" stop-color="#f2e4e1"/></linearGradient>
<linearGradient id="b73" x2="0" y2="1"><stop offset=".009" stop-color="#e1e5f3"/><stop offset=".125" stop-color="#eee"/><stop offset=".182" stop-color="#f3e2de"/><stop offset=".298" stop-color="#f6dcd6"/><stop offset=".421" stop-color="#f6dbd5"/><stop offset=".991" stop-color="#f4e1dd"/></linearGradient>
<linearGradient id="b74" x2="0" y2="1"><stop offset=".009" stop-color="#eee"/><stop offset=".103" stop-color="#f0eae8"/><stop offset=".132" stop-color="#f2e5e3"/><stop offset=".182" stop-color="#f9d6ce"/><stop offset=".283" stop-color="#fdcdc5"/><stop offset=".421" stop-color="#fccfc7"/><stop offset=".558" stop-color="#f8d7cf"/><stop offset=".991" stop-color="#f5ddd8"/></linearGradient>
<linearGradient id="b75" x2="0" y2="1"><stop offset=".009" stop-color="#eee"/><stop offset=".081" stop-color="#f0e9e7"/><stop offset=".175" stop-color="#fccfc7"/><stop offset=".269" stop-color="#ffc8c0"/><stop offset=".413" stop-color="#fec9c1"/><stop offset=".558" stop-color="#fbd0c8"/><stop offset=".991" stop-color="#f8d7d0"/></linearGradient>
<linearGradient id="b76" x2="0" y2="1"><stop offset=".009" stop-color="#eee"/><stop offset=".074" stop-color="#f1e8e6"/><stop offset=".125" stop-color="#f9d6ce"/><stop offset=".153" stop-color="#fdccc4"/><stop offset=".175" stop-color="#ffc6be"/><stop offset=".197" stop-color="#ffc5bd"/><stop offset=".421" stop-color="#ffc3bb"/><stop offset=".579" stop-color="#fec9c1"/><stop offset=".803" stop-color="#fecbc3"/><stop offset=".991" stop-color="#fbd1c9"/></linearGradient>
<linearGradient id="b77" x2="0" y2="1"><stop offset=".009" stop-color="#efedec"/><stop offset=".067" stop-color="#f2e6e3"/><stop offset=".117" stop-color="#f9d6ce"/><stop offset=".161" stop-color="#fecac2"/><stop offset=".182" stop-color="#ffc7bf"/><stop offset=".32" stop-color="#ffc7bf"/><stop offset=".587" stop-color="#fbd1c9"/><stop offset=".796" stop-color="#fbd2ca"/><stop offset=".991" stop-color="#f8d7d0"/></linearGradient>
<linearGradient id="b78" x2="0" y2="1"><stop offset=".009" stop-color="#efeceb"/><stop offset=".067" stop-color="#f3e2de"/><stop offset=".117" stop-color="#fad3cb"/><stop offset=".182" stop-color="#ffc8c0"/><stop offset=".305" stop-color="#fecbc3"/><stop offset=".572" stop-color="#f8d7d0"/><stop offset=".782" stop-color="#f7d9d2"/><stop offset=".991" stop-color="#f5ddd8"/></linearGradient>
<linearGradient id="b79" x2="0" y2="1"><stop offset=".009" stop-color="#f7dbd5"/><stop offset=".067" stop-color="#f9d5cd"/><stop offset=".139" stop-color="#ffc8c0"/><stop offset=".182" stop-color="#ffc2ba"/><stop offset=".312" stop-color="#ffc4bc"/><stop offset=".587" stop-color="#fccfc7"/><stop offset=".991" stop-color="#f9d5cd"/></linearGradient>
<linearGradient id="b80" x2="0" y2="1"><stop offset=".009" stop-color="#fecac2"/><stop offset=".096" stop-color="#ffc6be"/><stop offset=".175" stop-color="#ffbcb4"/><stop offset=".298" stop-color="#ffbcb4"/><stop offset=".587" stop-color="#ffc7bf"/><stop offset=".991" stop-color="#fdcdc5"/></linearGradient>
<linearGradient id="b81" x2="0" y2="1"><stop offset=".009" stop-color="#ffada5"/><stop offset=".074" stop-color="#ffaba3"/><stop offset=".218" stop-color="#ffb0a8"/><stop offset=".529" stop-color="#ffc3bb"/><stop offset=".991" stop-color="#fbd1c9"/></linearGradient>
<linearGradient id="b82" x2="0" y2="1"><stop offset=".009" stop-color="#ff8f87"/><stop offset=".074" stop-color="#ff8f87"/><stop offset=".182" stop-color="#ffa29a"/><stop offset=".5" stop-color="#ffbfb7"/><stop offset=".76" stop-color="#fecac2"/><stop offset=".868" stop-color="#fad4cc"/><stop offset=".991" stop-color="#f9d6ce"/></linearGradient>
<linearGradient id="b83" x2="0" y2="1"><stop offset=".009" stop-color="#ff7e76"/><stop offset=".074" stop-color="#ff8c84"/><stop offset=".182" stop-color="#ffb0a8"/><stop offset=".356" stop-color="#ffc4bc"/><stop offset=".522" stop-color="#fbd0c8"/><stop offset=".991" stop-color="#f7dbd5"/></linearGradient>
<linearGradient id="b84" x2="0" y2="1"><stop offset=".009" stop-color="#ff6d65"/><stop offset=".074" stop-color="#ff8981"/><stop offset=".175" stop-color="#ffbcb4"/><stop offset=".218" stop-color="#ffc6be"/><stop offset=".283" stop-color="#fbd0c8"/><stop offset=".384" stop-color="#f7d9d2"/><stop offset=".507" stop-color="#f4dfdb"/><stop offset=".991" stop-color="#f4e0db"/></linearGradient>
<linearGradient id="b85" x2="0" y2="1"><stop offset=".009" stop-color="#ff8179"/><stop offset=".067" stop-color="#ff948c"/><stop offset=".125" stop-color="#ffafa7"/><stop offset=".175" stop-color="#ffc2ba"/><stop offset=".233" stop-color="#fccec6"/><stop offset=".298" stop-color="#f9d6ce"/><stop offset=".384" stop-color="#f6ddd7"/><stop offset=".514" stop-color="#f3e3e0"/><stop offset=".991" stop-color="#f3e3e0"/></linearGradient>
<linearGradient id="b86" x2="0" y2="1"><stop offset=".009" stop-color="#ff948c"/><stop offset=".067" stop-color="#ffa29a"/><stop offset=".117" stop-color="#ffb9b1"/><stop offset=".161" stop-color="#ffc6be"/><stop offset=".255" stop-color="#f9d6ce"/><stop offset=".334" stop-color="#f5ded8"/><stop offset=".514" stop-color="#f1e7e4"/><stop offset=".991" stop-color="#f1e7e4"/></linearGradient>
<linearGradient id="b87" x2="0" y2="1"><stop offset=".009" stop-color="#ff9b93"/><stop offset=".067" stop-color="#ffa59d"/><stop offset=".117" stop-color="#ffbab2"/><stop offset=".161" stop-color="#ffc5bd"/><stop offset=".298" stop-color="#f8d9d1"/><stop offset=".514" stop-color="#f3e3e0"/><stop offset=".991" stop-color="#f2e6e3"/></linearGradient>
<linearGradient id="b88" x2="0" y2="1"><stop offset=".009" stop-color="#ffa29a"/><stop offset=".074" stop-color="#ffaba3"/><stop offset=".125" stop-color="#ffbcb4"/><stop offset=".168" stop-color="#ffc5bd"/><stop offset=".291" stop-color="#f9d6ce"/><stop offset=".514" stop-color="#f4e0db"/><stop offset=".774" stop-color="#f4e0db"/><stop offset=".991" stop-color="#f2e4e1"/></linearGradient>
<linearGradient id="b89" x2="0" y2="1"><stop offset=".009" stop-color="#ffa29a"/><stop offset=".125" stop-color="#ffc7bf"/><stop offset=".168" stop-color="#fad3cb"/><stop offset=".276" stop-color="#f5ddd8"/><stop offset=".514" stop-color="#f2e6e3"/><stop offset=".991" stop-color="#f1e8e6"/></linearGradient>
<linearGradient id="b90" x2="0" y2="1"><stop offset=".009" stop-color="#ffa29a"/><stop offset=".11" stop-color="#fdcdc5"/><stop offset=".168" stop-color="#f4e0db"/><stop offset=".197" stop-color="#f3e3df"/><stop offset=".514" stop-color="#efeceb"/><stop offset=".991" stop-color="#efeceb"/></linearGradient>
<linearGradient id="b91" x2="0" y2="1"><stop offset=".009" stop-color="#ff7971"/><stop offset=".031" stop-color="#ff978f"/><stop offset=".052" stop-color="#ffafa7"/><stop offset=".081" stop-color="#ffc7bf"/><stop offset=".103" stop-color="#f9d5cd"/><stop offset=".117" stop-color="#f6dcd6"/><stop offset=".139" stop-color="#f3e2de"/><stop offset=".204" stop-color="#f0eae9"/><stop offset=".247" stop-color="#eee"/><stop offset=".363" stop-color="#e6e8f1"/><stop offset=".5" stop-color="#e2e5f3"/><stop offset=".991" stop-color="#e0e4f3"/></linearGradient>
<linearGradient id="b92" x2="0" y2="1"><stop offset=".009" stop-color="#ff5149"/><stop offset=".038" stop-color="#ff8f87"/><stop offset=".06" stop-color="#ffb3ab"/><stop offset=".074" stop-color="#ffc4bc"/><stop offset=".096" stop-color="#f6dbd5"/><stop offset=".11" stop-color="#f1e7e4"/><stop offset=".125" stop-color="#efeceb"/><stop offset=".182" stop-color="#eee"/><stop offset=".291" stop-color="#dee3f4"/><stop offset=".413" stop-color="#d5dcf8"/><stop offset=".63" stop-color="#d0d8fa"/><stop offset=".991" stop-color="#d0d8fa"/></linearGradient>
<linearGradient id="b93" x2="0" y2="1"><stop offset=".009" stop-color="#ff0504"/><stop offset=".031" stop-color="#ff2921"/><stop offset=".074" stop-color="#ff726a"/><stop offset=".103" stop-color="#ffa8a0"/><stop offset=".117" stop-color="#ffbfb7"/><stop offset=".125" stop-color="#ffc7bf"/><stop offset=".153" stop-color="#f5dfdb"/><stop offset=".168" stop-color="#f1e8e6"/><stop offset=".182" stop-color="#eee"/><stop offset=".262" stop-color="#dde2f4"/><stop offset=".392" stop-color="#d2daf9"/><stop offset=".63" stop-color="#ccd4fb"/><stop offset=".991" stop-color="#ccd4fb"/></linearGradient>
<linearGradient id="b94" x2="0" y2="1"><stop offset=".009" stop-color="#f00"/><stop offset=".045" stop-color="#ff0605"/><stop offset=".067" stop-color="#ff0e0b"/><stop offset=".074" stop-color="#ff1611"/><stop offset=".081" stop-color="#ff241d"/><stop offset=".089" stop-color="#ff3830"/><stop offset=".11" stop-color="#ff7e76"/><stop offset=".117" stop-color="#ff928a"/><stop offset=".125" stop-color="#ffa29a"/><stop offset=".146" stop-color="#ffc7bf"/><stop offset=".161" stop-color="#f6dcd6"/><stop offset=".175" stop-color="#f0eae9"/><stop offset=".182" stop-color="#eee"/><stop offset=".218" stop-color="#e2e5f3"/><stop offset=".255" stop-color="#dbe0f5"/><stop offset=".384" stop-color="#cfd7fa"/><stop offset=".63" stop-color="#c9d1fd"/><stop offset=".991" stop-color="#c9d1fd"/></linearGradient>
<clipPath id="clipC"><rect x="253.3" y="683.5" width="956.2" height="216.0"/></clipPath>
<linearGradient id="hC" x1="253.3" y1="0" x2="1209.5" y2="0" gradientUnits="userSpaceOnUse"><stop offset="0" stop-color="#fff" stop-opacity="0"/><stop offset=".0078" stop-color="#fff" stop-opacity="1"/><stop offset=".0156" stop-color="#fff" stop-opacity="0"/><stop offset=".0234" stop-color="#fff" stop-opacity="1"/><stop offset=".0313" stop-color="#fff" stop-opacity="0"/><stop offset=".0391" stop-color="#fff" stop-opacity="1"/><stop offset=".0469" stop-color="#fff" stop-opacity="0"/><stop offset=".0547" stop-color="#fff" stop-opacity="1"/><stop offset=".0625" stop-color="#fff" stop-opacity="0"/><stop offset=".0703" stop-color="#fff" stop-opacity="1"/><stop offset=".0781" stop-color="#fff" stop-opacity="0"/><stop offset=".0859" stop-color="#fff" stop-opacity="1"/><stop offset=".0938" stop-color="#fff" stop-opacity="0"/><stop offset=".1016" stop-color="#fff" stop-opacity="1"/><stop offset=".1094" stop-color="#fff" stop-opacity="0"/><stop offset=".1172" stop-color="#fff" stop-opacity="1"/><stop offset=".125" stop-color="#fff" stop-opacity="0"/><stop offset=".1328" stop-color="#fff" stop-opacity="1"/><stop offset=".1406" stop-color="#fff" stop-opacity="0"/><stop offset=".1484" stop-color="#fff" stop-opacity="1"/><stop offset=".1562" stop-color="#fff" stop-opacity="0"/><stop offset=".1641" stop-color="#fff" stop-opacity="1"/><stop offset=".1719" stop-color="#fff" stop-opacity="0"/><stop offset=".1797" stop-color="#fff" stop-opacity="1"/><stop offset=".1875" stop-color="#fff" stop-opacity="0"/><stop offset=".1953" stop-color="#fff" stop-opacity="1"/><stop offset=".2031" stop-color="#fff" stop-opacity="0"/><stop offset=".2109" stop-color="#fff" stop-opacity="1"/><stop offset=".2187" stop-color="#fff" stop-opacity="0"/><stop offset=".2266" stop-color="#fff" stop-opacity="1"/><stop offset=".2344" stop-color="#fff" stop-opacity="0"/><stop offset=".2422" stop-color="#fff" stop-opacity="1"/><stop offset=".25" stop-color="#fff" stop-opacity="0"/><stop offset=".2578" stop-color="#fff" stop-opacity="1"/><stop offset=".2656" stop-color="#fff" stop-opacity="0"/><stop offset=".2734" stop-color="#fff" stop-opacity="1"/><stop offset=".2812" stop-color="#fff" stop-opacity="0"/><stop offset=".2891" stop-color="#fff" stop-opacity="1"/><stop offset=".2969" stop-color="#fff" stop-opacity="0"/><stop offset=".3047" stop-color="#fff" stop-opacity="1"/><stop offset=".3125" stop-color="#fff" stop-opacity="0"/><stop offset=".3203" stop-color="#fff" stop-opacity="1"/><stop offset=".3281" stop-color="#fff" stop-opacity="0"/><stop offset=".3359" stop-color="#fff" stop-opacity="1"/><stop offset=".3438" stop-color="#fff" stop-opacity="0"/><stop offset=".3516" stop-color="#fff" stop-opacity="1"/><stop offset=".3594" stop-color="#fff" stop-opacity="0"/><stop offset=".3672" stop-color="#fff" stop-opacity="1"/><stop offset=".375" stop-color="#fff" stop-opacity="0"/><stop offset=".3828" stop-color="#fff" stop-opacity="1"/><stop offset=".3906" stop-color="#fff" stop-opacity="0"/><stop offset=".3984" stop-color="#fff" stop-opacity="1"/><stop offset=".4062" stop-color="#fff" stop-opacity="0"/><stop offset=".4141" stop-color="#fff" stop-opacity="1"/><stop offset=".4219" stop-color="#fff" stop-opacity="0"/><stop offset=".4297" stop-color="#fff" stop-opacity="1"/><stop offset=".4375" stop-color="#fff" stop-opacity="0"/><stop offset=".4453" stop-color="#fff" stop-opacity="1"/><stop offset=".4531" stop-color="#fff" stop-opacity="0"/><stop offset=".4609" stop-color="#fff" stop-opacity="1"/><stop offset=".4687" stop-color="#fff" stop-opacity="0"/><stop offset=".4766" stop-color="#fff" stop-opacity="1"/><stop offset=".4844" stop-color="#fff" stop-opacity="0"/><stop offset=".4922" stop-color="#fff" stop-opacity="1"/><stop offset=".5" stop-color="#fff" stop-opacity="0"/><stop offset=".5078" stop-color="#fff" stop-opacity="1"/><stop offset=".5156" stop-color="#fff" stop-opacity="0"/><stop offset=".5234" stop-color="#fff" stop-opacity="1"/><stop offset=".5312" stop-color="#fff" stop-opacity="0"/><stop offset=".5391" stop-color="#fff" stop-opacity="1"/><stop offset=".5469" stop-color="#fff" stop-opacity="0"/><stop offset=".5547" stop-color="#fff" stop-opacity="1"/><stop offset=".5625" stop-color="#fff" stop-opacity="0"/><stop offset=".5703" stop-color="#fff" stop-opacity="1"/><stop offset=".5781" stop-color="#fff" stop-opacity="0"/><stop offset=".5859" stop-color="#fff" stop-opacity="1"/><stop offset=".5938" stop-color="#fff" stop-opacity="0"/><stop offset=".6016" stop-color="#fff" stop-opacity="1"/><stop offset=".6094" stop-color="#fff" stop-opacity="0"/><stop offset=".6172" stop-color="#fff" stop-opacity="1"/><stop offset=".625" stop-color="#fff" stop-opacity="0"/><stop offset=".6328" stop-color="#fff" stop-opacity="1"/><stop offset=".6406" stop-color="#fff" stop-opacity="0"/><stop offset=".6484" stop-color="#fff" stop-opacity="1"/><stop offset=".6563" stop-color="#fff" stop-opacity="0"/><stop offset=".6641" stop-color="#fff" stop-opacity="1"/><stop offset=".6719" stop-color="#fff" stop-opacity="0"/><stop offset=".6797" stop-color="#fff" stop-opacity="1"/><stop offset=".6875" stop-color="#fff" stop-opacity="0"/><stop offset=".6953" stop-color="#fff" stop-opacity="1"/><stop offset=".7031" stop-color="#fff" stop-opacity="0"/><stop offset=".7109" stop-color="#fff" stop-opacity="1"/><stop offset=".7188" stop-color="#fff" stop-opacity="0"/><stop offset=".7266" stop-color="#fff" stop-opacity="1"/><stop offset=".7344" stop-color="#fff" stop-opacity="0"/><stop offset=".7422" stop-color="#fff" stop-opacity="1"/><stop offset=".75" stop-color="#fff" stop-opacity="0"/><stop offset=".7578" stop-color="#fff" stop-opacity="1"/><stop offset=".7656" stop-color="#fff" stop-opacity="0"/><stop offset=".7734" stop-color="#fff" stop-opacity="1"/><stop offset=".7812" stop-color="#fff" stop-opacity="0"/><stop offset=".7891" stop-color="#fff" stop-opacity="1"/><stop offset=".7969" stop-color="#fff" stop-opacity="0"/><stop offset=".8047" stop-color="#fff" stop-opacity="1"/><stop offset=".8125" stop-color="#fff" stop-opacity="0"/><stop offset=".8203" stop-color="#fff" stop-opacity="1"/><stop offset=".8281" stop-color="#fff" stop-opacity="0"/><stop offset=".8359" stop-color="#fff" stop-opacity="1"/><stop offset=".8438" stop-color="#fff" stop-opacity="0"/><stop offset=".8516" stop-color="#fff" stop-opacity="1"/><stop offset=".8594" stop-color="#fff" stop-opacity="0"/><stop offset=".8672" stop-color="#fff" stop-opacity="1"/><stop offset=".875" stop-color="#fff" stop-opacity="0"/><stop offset=".8828" stop-color="#fff" stop-opacity="1"/><stop offset=".8906" stop-color="#fff" stop-opacity="0"/><stop offset=".8984" stop-color="#fff" stop-opacity="1"/><stop offset=".9062" stop-color="#fff" stop-opacity="0"/><stop offset=".9141" stop-color="#fff" stop-opacity="1"/><stop offset=".9219" stop-color="#fff" stop-opacity="0"/><stop offset=".9297" stop-color="#fff" stop-opacity="1"/><stop offset=".9375" stop-color="#fff" stop-opacity="0"/><stop offset=".9453" stop-color="#fff" stop-opacity="1"/><stop offset=".9531" stop-color="#fff" stop-opacity="0"/><stop offset=".9609" stop-color="#fff" stop-opacity="1"/><stop offset=".9688" stop-color="#fff" stop-opacity="0"/><stop offset=".9766" stop-color="#fff" stop-opacity="1"/><stop offset=".9844" stop-color="#fff" stop-opacity="0"/><stop offset=".9922" stop-color="#fff" stop-opacity="1"/><stop offset="1" stop-color="#fff" stop-opacity="0"/></linearGradient>
<mask id="mC" maskUnits="userSpaceOnUse" x="251.3" y="681.5" width="960.2" height="220.0" style="mask-type:alpha"><rect x="251.3" y="681.5" width="960.2" height="220.0" fill="url(#hC)"/></mask>
<linearGradient id="c0" x2="0" y2="1"><stop offset=".009" stop-color="#ff5f57"/><stop offset=".067" stop-color="#ff5149"/><stop offset=".125" stop-color="#ff3931"/><stop offset=".175" stop-color="#ff2a22"/><stop offset=".399" stop-color="#ff1d17"/><stop offset=".565" stop-color="#ff1d17"/><stop offset=".731" stop-color="#ff2820"/><stop offset=".861" stop-color="#ff372f"/><stop offset=".991" stop-color="#ff4c44"/></linearGradient>
<linearGradient id="c1" x2="0" y2="1"><stop offset=".009" stop-color="#ff9b93"/><stop offset=".031" stop-color="#ff756d"/><stop offset=".052" stop-color="#ff564e"/><stop offset=".089" stop-color="#ff3129"/><stop offset=".11" stop-color="#ff201a"/><stop offset=".146" stop-color="#ff0c0a"/><stop offset=".168" stop-color="#ff0303"/><stop offset=".182" stop-color="#ff0101"/><stop offset=".666" stop-color="#ff0101"/><stop offset=".789" stop-color="#ff1612"/><stop offset=".991" stop-color="#ff433b"/></linearGradient>
<linearGradient id="c2" x2="0" y2="1"><stop offset=".009" stop-color="#f9d6ce"/><stop offset=".016" stop-color="#ffbdb5"/><stop offset=".038" stop-color="#ff7870"/><stop offset=".052" stop-color="#ff544c"/><stop offset=".06" stop-color="#ff453d"/><stop offset=".081" stop-color="#ff241d"/><stop offset=".096" stop-color="#ff120e"/><stop offset=".11" stop-color="#ff0504"/><stop offset=".125" stop-color="#f00"/><stop offset=".767" stop-color="#f00"/><stop offset=".803" stop-color="#ff0705"/><stop offset=".868" stop-color="#ff1b15"/><stop offset=".991" stop-color="#ff3931"/></linearGradient>
<linearGradient id="c3" x2="0" y2="1"><stop offset=".009" stop-color="#f3e2de"/><stop offset=".016" stop-color="#fccfc7"/><stop offset=".024" stop-color="#ffbcb4"/><stop offset=".038" stop-color="#ff9890"/><stop offset=".052" stop-color="#ff776f"/><stop offset=".089" stop-color="#ff2e26"/><stop offset=".096" stop-color="#ff2019"/><stop offset=".11" stop-color="#ff0907"/><stop offset=".117" stop-color="#ff0202"/><stop offset=".125" stop-color="#f00"/><stop offset=".774" stop-color="#ff0100"/><stop offset=".81" stop-color="#ff0605"/><stop offset=".911" stop-color="#ff1e18"/><stop offset=".991" stop-color="#ff342c"/></linearGradient>
<linearGradient id="c4" x2="0" y2="1"><stop offset=".009" stop-color="#eee"/><stop offset=".024" stop-color="#fad2ca"/><stop offset=".031" stop-color="#ffc4bc"/><stop offset=".067" stop-color="#ff7c74"/><stop offset=".074" stop-color="#ff6b63"/><stop offset=".096" stop-color="#ff2f27"/><stop offset=".103" stop-color="#ff1d17"/><stop offset=".11" stop-color="#ff0e0b"/><stop offset=".117" stop-color="#ff0403"/><stop offset=".125" stop-color="#f00"/><stop offset=".774" stop-color="#f00"/><stop offset=".825" stop-color="#ff0605"/><stop offset=".897" stop-color="#ff130f"/><stop offset=".955" stop-color="#ff231c"/><stop offset=".991" stop-color="#ff3028"/></linearGradient>
<linearGradient id="c5" x2="0" y2="1"><stop offset=".009" stop-color="#e8eaf0"/><stop offset=".016" stop-color="#f1e7e5"/><stop offset=".031" stop-color="#fccec6"/><stop offset=".038" stop-color="#ffc1b9"/><stop offset=".067" stop-color="#ff8a82"/><stop offset=".074" stop-color="#ff7a72"/><stop offset=".103" stop-color="#ff2b23"/><stop offset=".11" stop-color="#ff1b15"/><stop offset=".117" stop-color="#ff0f0c"/><stop offset=".125" stop-color="#ff0a08"/><stop offset=".139" stop-color="#ff0604"/><stop offset=".182" stop-color="#f00"/><stop offset=".767" stop-color="#f00"/><stop offset=".803" stop-color="#ff0605"/><stop offset=".926" stop-color="#ff271f"/><stop offset=".991" stop-color="#ff3931"/></linearGradient>
<linearGradient id="c6" x2="0" y2="1"><stop offset=".009" stop-color="#e3e6f2"/><stop offset=".016" stop-color="#eee"/><stop offset=".038" stop-color="#fdccc4"/><stop offset=".06" stop-color="#ffa69e"/><stop offset=".074" stop-color="#ff8880"/><stop offset=".103" stop-color="#ff3830"/><stop offset=".11" stop-color="#ff271f"/><stop offset=".117" stop-color="#ff1a15"/><stop offset=".125" stop-color="#ff130f"/><stop offset=".161" stop-color="#ff0302"/><stop offset=".182" stop-color="#f00"/><stop offset=".688" stop-color="#ff0201"/><stop offset=".796" stop-color="#ff100d"/><stop offset=".991" stop-color="#ff433b"/></linearGradient>
<linearGradient id="c7" x2="0" y2="1"><stop offset=".009" stop-color="#efeceb"/><stop offset=".024" stop-color="#fad3cb"/><stop offset=".031" stop-color="#ffc6be"/><stop offset=".074" stop-color="#ff7a72"/><stop offset=".103" stop-color="#ff423a"/><stop offset=".117" stop-color="#ff2b23"/><stop offset=".146" stop-color="#ff120e"/><stop offset=".175" stop-color="#ff0303"/><stop offset=".283" stop-color="#f00"/><stop offset=".659" stop-color="#ff0101"/><stop offset=".76" stop-color="#ff1813"/><stop offset=".854" stop-color="#ff2921"/><stop offset=".991" stop-color="#ff453d"/></linearGradient>
<linearGradient id="c8" x2="0" y2="1"><stop offset=".009" stop-color="#f4e0db"/><stop offset=".024" stop-color="#ffc2ba"/><stop offset=".052" stop-color="#ff8d85"/><stop offset=".081" stop-color="#ff635b"/><stop offset=".103" stop-color="#ff473f"/><stop offset=".117" stop-color="#ff3931"/><stop offset=".132" stop-color="#ff3129"/><stop offset=".153" stop-color="#ff2820"/><stop offset=".175" stop-color="#ff231c"/><stop offset=".283" stop-color="#ff1813"/><stop offset=".579" stop-color="#ff1914"/><stop offset=".782" stop-color="#ff2820"/><stop offset=".991" stop-color="#ff473f"/></linearGradient>
<linearGradient id="c9" x2="0" y2="1"><stop offset=".009" stop-color="#ff9d95"/><stop offset=".031" stop-color="#ff7870"/><stop offset=".052" stop-color="#ff574f"/><stop offset=".096" stop-color="#ff241d"/><stop offset=".11" stop-color="#ff1712"/><stop offset=".125" stop-color="#ff0e0b"/><stop offset=".175" stop-color="#f00"/><stop offset=".666" stop-color="#ff0101"/><stop offset=".789" stop-color="#ff1612"/><stop offset=".991" stop-color="#ff3e36"/></linearGradient>
<linearGradient id="c10" x2="0" y2="1"><stop offset=".009" stop-color="#ff5a52"/><stop offset=".038" stop-color="#ff2e26"/><stop offset=".052" stop-color="#ff1e18"/><stop offset=".067" stop-color="#ff130f"/><stop offset=".089" stop-color="#ff0907"/><stop offset=".125" stop-color="#f00"/><stop offset=".767" stop-color="#f00"/><stop offset=".803" stop-color="#ff0705"/><stop offset=".875" stop-color="#ff1d17"/><stop offset=".991" stop-color="#ff342c"/></linearGradient>
<linearGradient id="c11" x2="0" y2="1"><stop offset=".009" stop-color="#ff5d55"/><stop offset=".038" stop-color="#ff3931"/><stop offset=".06" stop-color="#ff241d"/><stop offset=".103" stop-color="#ff0605"/><stop offset=".125" stop-color="#f00"/><stop offset=".695" stop-color="#ff0201"/><stop offset=".782" stop-color="#ff0a08"/><stop offset=".875" stop-color="#ff211b"/><stop offset=".991" stop-color="#ff372f"/></linearGradient>
<linearGradient id="c12" x2="0" y2="1"><stop offset=".009" stop-color="#ff5f57"/><stop offset=".052" stop-color="#ff362e"/><stop offset=".089" stop-color="#ff1c16"/><stop offset=".125" stop-color="#ff0a08"/><stop offset=".175" stop-color="#f00"/><stop offset=".659" stop-color="#ff0100"/><stop offset=".991" stop-color="#ff3931"/></linearGradient>
<linearGradient id="c13" x2="0" y2="1"><stop offset=".009" stop-color="#ff8981"/><stop offset=".031" stop-color="#ff675f"/><stop offset=".052" stop-color="#ff4c44"/><stop offset=".074" stop-color="#ff3830"/><stop offset=".103" stop-color="#ff261e"/><stop offset=".125" stop-color="#ff1d17"/><stop offset=".153" stop-color="#ff1511"/><stop offset=".269" stop-color="#ff0605"/><stop offset=".421" stop-color="#ff0706"/><stop offset=".572" stop-color="#ff120e"/><stop offset=".796" stop-color="#ff2820"/><stop offset=".991" stop-color="#ff4038"/></linearGradient>
<linearGradient id="c14" x2="0" y2="1"><stop offset=".009" stop-color="#ffb2aa"/><stop offset=".038" stop-color="#ff7870"/><stop offset=".052" stop-color="#ff6159"/><stop offset=".067" stop-color="#ff5149"/><stop offset=".089" stop-color="#ff4038"/><stop offset=".11" stop-color="#ff352d"/><stop offset=".168" stop-color="#ff2720"/><stop offset=".262" stop-color="#ff221b"/><stop offset=".334" stop-color="#ff221b"/><stop offset=".76" stop-color="#ff342c"/><stop offset=".991" stop-color="#ff473f"/></linearGradient>
<linearGradient id="c15" x2="0" y2="1"><stop offset=".009" stop-color="#fec9c1"/><stop offset=".031" stop-color="#ffa098"/><stop offset=".052" stop-color="#ff7d75"/><stop offset=".067" stop-color="#ff6b63"/><stop offset=".096" stop-color="#ff4e46"/><stop offset=".125" stop-color="#ff3c34"/><stop offset=".175" stop-color="#ff3028"/><stop offset=".291" stop-color="#ff2b23"/><stop offset=".435" stop-color="#ff2e26"/><stop offset=".767" stop-color="#ff3c34"/><stop offset=".991" stop-color="#ff4f47"/></linearGradient>
<linearGradient id="c16" x2="0" y2="1"><stop offset=".009" stop-color="#f4e0db"/><stop offset=".024" stop-color="#ffc6be"/><stop offset=".045" stop-color="#ffa39b"/><stop offset=".103" stop-color="#ff5850"/><stop offset=".125" stop-color="#ff473f"/><stop offset=".175" stop-color="#ff3a32"/><stop offset=".276" stop-color="#ff352d"/><stop offset=".442" stop-color="#ff352d"/><stop offset=".767" stop-color="#ff433b"/><stop offset=".991" stop-color="#ff564e"/></linearGradient>
<linearGradient id="c17" x2="0" y2="1"><stop offset=".009" stop-color="#fbd1c9"/><stop offset=".016" stop-color="#ffc7bf"/><stop offset=".052" stop-color="#ff9991"/><stop offset=".103" stop-color="#ff635b"/><stop offset=".125" stop-color="#ff564e"/><stop offset=".168" stop-color="#ff4b43"/><stop offset=".363" stop-color="#ff4b43"/><stop offset=".724" stop-color="#ff5951"/><stop offset=".991" stop-color="#ff6d65"/></linearGradient>
<linearGradient id="c18" x2="0" y2="1"><stop offset=".009" stop-color="#ffc3bb"/><stop offset=".052" stop-color="#ff9991"/><stop offset=".11" stop-color="#ff6a62"/><stop offset=".139" stop-color="#ff6058"/><stop offset=".175" stop-color="#ff5b53"/><stop offset=".753" stop-color="#ff726a"/><stop offset=".991" stop-color="#ff857d"/></linearGradient>
<linearGradient id="c19" x2="0" y2="1"><stop offset=".009" stop-color="#ffbbb3"/><stop offset=".11" stop-color="#ff968e"/><stop offset=".168" stop-color="#ff928a"/><stop offset=".421" stop-color="#ff9d95"/><stop offset=".767" stop-color="#ffa79f"/><stop offset=".991" stop-color="#ffb2aa"/></linearGradient>
<linearGradient id="c20" x2="0" y2="1"><stop offset=".009" stop-color="#ffb2aa"/><stop offset=".175" stop-color="#fecac2"/><stop offset=".334" stop-color="#fad3cb"/><stop offset=".616" stop-color="#f7dbd4"/><stop offset=".774" stop-color="#f6dbd5"/><stop offset=".868" stop-color="#f4e0db"/><stop offset=".991" stop-color="#f4e0db"/></linearGradient>
<linearGradient id="c21" x2="0" y2="1"><stop offset=".009" stop-color="#ffb7af"/><stop offset=".197" stop-color="#fdccc4"/><stop offset=".356" stop-color="#f9d5cd"/><stop offset=".991" stop-color="#f4e1dd"/></linearGradient>
<linearGradient id="c22" x2="0" y2="1"><stop offset=".009" stop-color="#ffbcb4"/><stop offset=".074" stop-color="#ffbcb4"/><stop offset=".218" stop-color="#fccec6"/><stop offset=".363" stop-color="#f8d7cf"/><stop offset=".991" stop-color="#f3e2de"/></linearGradient>
<linearGradient id="c23" x2="0" y2="1"><stop offset=".009" stop-color="#f9d5cd"/><stop offset=".074" stop-color="#fad3cb"/><stop offset=".464" stop-color="#f7dad4"/><stop offset=".666" stop-color="#f6dbd5"/><stop offset=".991" stop-color="#f3e2de"/></linearGradient>
<linearGradient id="c24" x2="0" y2="1"><stop offset=".009" stop-color="#eee"/><stop offset=".175" stop-color="#f4e0dc"/><stop offset=".283" stop-color="#f6dbd5"/><stop offset=".659" stop-color="#f6dbd5"/><stop offset=".991" stop-color="#f3e2de"/></linearGradient>
<linearGradient id="c25" x2="0" y2="1"><stop offset=".009" stop-color="#848cff"/><stop offset=".038" stop-color="#afb7ff"/><stop offset=".052" stop-color="#c0c8ff"/><stop offset=".067" stop-color="#cbd3fc"/><stop offset=".096" stop-color="#d9dff6"/><stop offset=".161" stop-color="#eee"/><stop offset=".218" stop-color="#f1e8e5"/><stop offset=".291" stop-color="#f2e5e1"/><stop offset=".659" stop-color="#f2e5e1"/><stop offset=".991" stop-color="#f1e8e6"/></linearGradient>
<linearGradient id="c26" x2="0" y2="1"><stop offset=".009" stop-color="#1e25ff"/><stop offset=".024" stop-color="#4b53ff"/><stop offset=".038" stop-color="#727aff"/><stop offset=".052" stop-color="#929aff"/><stop offset=".067" stop-color="#a7afff"/><stop offset=".089" stop-color="#bac2ff"/><stop offset=".11" stop-color="#c6cefe"/><stop offset=".146" stop-color="#d9dff6"/><stop offset=".175" stop-color="#e4e7f2"/><stop offset=".233" stop-color="#ebecef"/><stop offset=".291" stop-color="#eee"/><stop offset=".991" stop-color="#eee"/></linearGradient>
<linearGradient id="c27" x2="0" y2="1"><stop offset=".009" stop-color="#6b73ff"/><stop offset=".038" stop-color="#98a0ff"/><stop offset=".052" stop-color="#aab2ff"/><stop offset=".067" stop-color="#b6beff"/><stop offset=".096" stop-color="#c4ccff"/><stop offset=".139" stop-color="#d2daf9"/><stop offset=".19" stop-color="#e0e4f3"/><stop offset=".312" stop-color="#e9eaf0"/><stop offset=".991" stop-color="#ededef"/></linearGradient>
<linearGradient id="c28" x2="0" y2="1"><stop offset=".009" stop-color="#b8c0ff"/><stop offset=".067" stop-color="#c4ccff"/><stop offset=".168" stop-color="#d5ddf7"/><stop offset=".291" stop-color="#e3e6f2"/><stop offset=".514" stop-color="#e8eaf0"/><stop offset=".991" stop-color="#ebecef"/></linearGradient>
<linearGradient id="c29" x2="0" y2="1"><stop offset=".009" stop-color="#b0b8ff"/><stop offset=".074" stop-color="#c1c9ff"/><stop offset=".153" stop-color="#ced6fa"/><stop offset=".291" stop-color="#dde2f5"/><stop offset=".435" stop-color="#e2e5f3"/><stop offset=".991" stop-color="#e7e9f1"/></linearGradient>
<linearGradient id="c30" x2="0" y2="1"><stop offset=".009" stop-color="#a7afff"/><stop offset=".067" stop-color="#bac2ff"/><stop offset=".132" stop-color="#c7cffd"/><stop offset=".233" stop-color="#d2daf9"/><stop offset=".348" stop-color="#dbe1f5"/><stop offset=".745" stop-color="#e3e6f2"/><stop offset=".991" stop-color="#e3e6f2"/></linearGradient>
<linearGradient id="c31" x2="0" y2="1"><stop offset=".009" stop-color="#b7bfff"/><stop offset=".139" stop-color="#cbd3fc"/><stop offset=".356" stop-color="#d9dff6"/><stop offset=".991" stop-color="#e1e5f3"/></linearGradient>
<linearGradient id="c32" x2="0" y2="1"><stop offset=".009" stop-color="#c6cefe"/><stop offset=".139" stop-color="#ced6fa"/><stop offset=".341" stop-color="#d6ddf7"/><stop offset=".991" stop-color="#e0e4f3"/></linearGradient>
<linearGradient id="c33" x2="0" y2="1"><stop offset=".009" stop-color="#bcc4ff"/><stop offset=".377" stop-color="#cbd3fc"/><stop offset=".991" stop-color="#d9dff6"/></linearGradient>
<linearGradient id="c34" x2="0" y2="1"><stop offset=".009" stop-color="#b1b9ff"/><stop offset=".132" stop-color="#b1b9ff"/><stop offset=".377" stop-color="#c0c8ff"/><stop offset=".76" stop-color="#c9d1fd"/><stop offset=".991" stop-color="#d2daf9"/></linearGradient>
<linearGradient id="c35" x2="0" y2="1"><stop offset=".009" stop-color="#a0a8ff"/><stop offset=".211" stop-color="#b6beff"/><stop offset=".363" stop-color="#c1c9ff"/><stop offset=".991" stop-color="#d2daf9"/></linearGradient>
<linearGradient id="c36" x2="0" y2="1"><stop offset=".009" stop-color="#9098ff"/><stop offset=".067" stop-color="#9ea6ff"/><stop offset=".175" stop-color="#b0b8ff"/><stop offset=".348" stop-color="#c1c9ff"/><stop offset=".991" stop-color="#d2daf9"/></linearGradient>
<linearGradient id="c37" x2="0" y2="1"><stop offset=".009" stop-color="#525aff"/><stop offset=".045" stop-color="#7c84ff"/><stop offset=".06" stop-color="#878fff"/><stop offset=".081" stop-color="#9199ff"/><stop offset=".132" stop-color="#9da5ff"/><stop offset=".269" stop-color="#b0b8ff"/><stop offset=".421" stop-color="#bbc3ff"/><stop offset=".76" stop-color="#c4ccff"/><stop offset=".991" stop-color="#ccd4fb"/></linearGradient>
<linearGradient id="c38" x2="0" y2="1"><stop offset=".009" stop-color="#151aff"/><stop offset=".024" stop-color="#353dff"/><stop offset=".038" stop-color="#525aff"/><stop offset=".052" stop-color="#6971ff"/><stop offset=".06" stop-color="#727aff"/><stop offset=".089" stop-color="#848cff"/><stop offset=".125" stop-color="#9098ff"/><stop offset=".283" stop-color="#a8b0ff"/><stop offset=".341" stop-color="#adb5ff"/><stop offset=".991" stop-color="#c6cefe"/></linearGradient>
<linearGradient id="c39" x2="0" y2="1"><stop offset=".009" stop-color="#00f"/><stop offset=".031" stop-color="#1b21ff"/><stop offset=".045" stop-color="#2c34ff"/><stop offset=".067" stop-color="#4149ff"/><stop offset=".089" stop-color="#5159ff"/><stop offset=".132" stop-color="#6870ff"/><stop offset=".197" stop-color="#7a82ff"/><stop offset=".32" stop-color="#8c94ff"/><stop offset=".464" stop-color="#9ba3ff"/><stop offset=".991" stop-color="#bcc4ff"/></linearGradient>
<linearGradient id="c40" x2="0" y2="1"><stop offset=".009" stop-color="#00f"/><stop offset=".038" stop-color="#0405ff"/><stop offset=".074" stop-color="#1014ff"/><stop offset=".117" stop-color="#353dff"/><stop offset=".139" stop-color="#434bff"/><stop offset=".175" stop-color="#545cff"/><stop offset=".211" stop-color="#5d65ff"/><stop offset=".406" stop-color="#7b83ff"/><stop offset=".514" stop-color="#8991ff"/><stop offset=".991" stop-color="#b1b9ff"/></linearGradient>
<linearGradient id="c41" x2="0" y2="1"><stop offset=".009" stop-color="#00f"/><stop offset=".038" stop-color="#0304ff"/><stop offset=".074" stop-color="#0d10ff"/><stop offset=".117" stop-color="#2b33ff"/><stop offset=".146" stop-color="#3b43ff"/><stop offset=".175" stop-color="#474fff"/><stop offset=".218" stop-color="#5159ff"/><stop offset=".514" stop-color="#828aff"/><stop offset=".991" stop-color="#acb4ff"/></linearGradient>
<linearGradient id="c42" x2="0" y2="1"><stop offset=".009" stop-color="#00f"/><stop offset=".038" stop-color="#0303ff"/><stop offset=".074" stop-color="#0b0dff"/><stop offset=".125" stop-color="#242cff"/><stop offset=".182" stop-color="#3c44ff"/><stop offset=".464" stop-color="#737bff"/><stop offset=".543" stop-color="#7e86ff"/><stop offset=".861" stop-color="#98a0ff"/><stop offset=".991" stop-color="#a7afff"/></linearGradient>
<linearGradient id="c43" x2="0" y2="1"><stop offset=".009" stop-color="#00f"/><stop offset=".052" stop-color="#222aff"/><stop offset=".117" stop-color="#565eff"/><stop offset=".168" stop-color="#6d75ff"/><stop offset=".226" stop-color="#7c84ff"/><stop offset=".348" stop-color="#9098ff"/><stop offset=".507" stop-color="#a2aaff"/><stop offset=".991" stop-color="#bfc7ff"/></linearGradient>
<linearGradient id="c44" x2="0" y2="1"><stop offset=".009" stop-color="#090aff"/><stop offset=".031" stop-color="#272fff"/><stop offset=".06" stop-color="#4e56ff"/><stop offset=".096" stop-color="#777fff"/><stop offset=".117" stop-color="#8b93ff"/><stop offset=".161" stop-color="#a0a8ff"/><stop offset=".24" stop-color="#b6beff"/><stop offset=".312" stop-color="#c0c8ff"/><stop offset=".471" stop-color="#c9d1fd"/><stop offset=".991" stop-color="#d8def6"/></linearGradient>
<linearGradient id="c45" x2="0" y2="1"><stop offset=".009" stop-color="#090aff"/><stop offset=".031" stop-color="#242cff"/><stop offset=".052" stop-color="#4048ff"/><stop offset=".096" stop-color="#757dff"/><stop offset=".117" stop-color="#8b93ff"/><stop offset=".161" stop-color="#a0a8ff"/><stop offset=".255" stop-color="#bac2ff"/><stop offset=".334" stop-color="#c5cdff"/><stop offset=".478" stop-color="#cdd5fb"/><stop offset=".991" stop-color="#dbe0f5"/></linearGradient>
<linearGradient id="c46" x2="0" y2="1"><stop offset=".009" stop-color="#090aff"/><stop offset=".031" stop-color="#2129ff"/><stop offset=".067" stop-color="#4d55ff"/><stop offset=".096" stop-color="#727aff"/><stop offset=".117" stop-color="#8a92ff"/><stop offset=".139" stop-color="#979fff"/><stop offset=".161" stop-color="#a0a8ff"/><stop offset=".262" stop-color="#bec6ff"/><stop offset=".341" stop-color="#c8d0fd"/><stop offset=".478" stop-color="#d1d9f9"/><stop offset=".991" stop-color="#dde2f4"/></linearGradient>
<linearGradient id="c47" x2="0" y2="1"><stop offset=".009" stop-color="#242cff"/><stop offset=".038" stop-color="#4b53ff"/><stop offset=".06" stop-color="#646cff"/><stop offset=".096" stop-color="#848cff"/><stop offset=".117" stop-color="#939bff"/><stop offset=".153" stop-color="#a0a8ff"/><stop offset=".269" stop-color="#bbc3ff"/><stop offset=".356" stop-color="#c5cdff"/><stop offset=".471" stop-color="#cbd3fc"/><stop offset=".991" stop-color="#d9dff6"/></linearGradient>
<linearGradient id="c48" x2="0" y2="1"><stop offset=".009" stop-color="#434bff"/><stop offset=".031" stop-color="#646cff"/><stop offset=".045" stop-color="#767eff"/><stop offset=".06" stop-color="#848cff"/><stop offset=".081" stop-color="#9098ff"/><stop offset=".132" stop-color="#9fa7ff"/><stop offset=".276" stop-color="#b8c0ff"/><stop offset=".399" stop-color="#c3cbff"/><stop offset=".608" stop-color="#ccd4fb"/><stop offset=".991" stop-color="#d5dcf8"/></linearGradient>
<linearGradient id="c49" x2="0" y2="1"><stop offset=".009" stop-color="#7f87ff"/><stop offset=".045" stop-color="#8e96ff"/><stop offset=".081" stop-color="#959dff"/><stop offset=".384" stop-color="#b4bcff"/><stop offset=".991" stop-color="#c7cffd"/></linearGradient>
<linearGradient id="c50" x2="0" y2="1"><stop offset=".009" stop-color="#bac2ff"/><stop offset=".038" stop-color="#a9b1ff"/><stop offset=".06" stop-color="#a0a8ff"/><stop offset=".125" stop-color="#979fff"/><stop offset=".218" stop-color="#98a0ff"/><stop offset=".471" stop-color="#aab2ff"/><stop offset=".767" stop-color="#b1b9ff"/><stop offset=".991" stop-color="#bac2ff"/></linearGradient>
<linearGradient id="c51" x2="0" y2="1"><stop offset=".009" stop-color="#acb4ff"/><stop offset=".038" stop-color="#9ba3ff"/><stop offset=".06" stop-color="#9199ff"/><stop offset=".096" stop-color="#8a92ff"/><stop offset=".125" stop-color="#878fff"/><stop offset=".24" stop-color="#8890ff"/><stop offset=".464" stop-color="#949cff"/><stop offset=".991" stop-color="#a7afff"/></linearGradient>
<linearGradient id="c52" x2="0" y2="1"><stop offset=".009" stop-color="#9ea6ff"/><stop offset=".038" stop-color="#8d95ff"/><stop offset=".06" stop-color="#838bff"/><stop offset=".096" stop-color="#7b83ff"/><stop offset=".125" stop-color="#7880ff"/><stop offset=".327" stop-color="#7880ff"/><stop offset=".991" stop-color="#949cff"/></linearGradient>
<linearGradient id="c53" x2="0" y2="1"><stop offset=".009" stop-color="#c4ccff"/><stop offset=".031" stop-color="#acb4ff"/><stop offset=".052" stop-color="#99a1ff"/><stop offset=".103" stop-color="#7e86ff"/><stop offset=".132" stop-color="#777fff"/><stop offset=".255" stop-color="#6d75ff"/><stop offset=".32" stop-color="#6c74ff"/><stop offset=".551" stop-color="#7179ff"/><stop offset=".767" stop-color="#7b83ff"/><stop offset=".991" stop-color="#8890ff"/></linearGradient>
<linearGradient id="c54" x2="0" y2="1"><stop offset=".009" stop-color="#eee"/><stop offset=".031" stop-color="#c8d0fd"/><stop offset=".052" stop-color="#acb4ff"/><stop offset=".081" stop-color="#9199ff"/><stop offset=".11" stop-color="#7d85ff"/><stop offset=".139" stop-color="#757dff"/><stop offset=".262" stop-color="#626aff"/><stop offset=".558" stop-color="#6068ff"/><stop offset=".774" stop-color="#6a72ff"/><stop offset=".991" stop-color="#7d85ff"/></linearGradient>
<linearGradient id="c55" x2="0" y2="1"><stop offset=".009" stop-color="#efedec"/><stop offset=".031" stop-color="#d7ddf7"/><stop offset=".052" stop-color="#c0c8ff"/><stop offset=".117" stop-color="#7c84ff"/><stop offset=".139" stop-color="#7078ff"/><stop offset=".168" stop-color="#666eff"/><stop offset=".233" stop-color="#5b63ff"/><stop offset=".291" stop-color="#575fff"/><stop offset=".558" stop-color="#575fff"/><stop offset=".774" stop-color="#6169ff"/><stop offset=".991" stop-color="#737bff"/></linearGradient>
<linearGradient id="c56" x2="0" y2="1"><stop offset=".009" stop-color="#efeceb"/><stop offset=".016" stop-color="#eee"/><stop offset=".031" stop-color="#e5e8f1"/><stop offset=".052" stop-color="#d3dbf8"/><stop offset=".067" stop-color="#c6cefe"/><stop offset=".081" stop-color="#b5bdff"/><stop offset=".11" stop-color="#8890ff"/><stop offset=".125" stop-color="#7880ff"/><stop offset=".161" stop-color="#5e66ff"/><stop offset=".175" stop-color="#5860ff"/><stop offset=".197" stop-color="#545cff"/><stop offset=".283" stop-color="#4d55ff"/><stop offset=".551" stop-color="#4d55ff"/><stop offset=".767" stop-color="#575fff"/><stop offset=".991" stop-color="#6971ff"/></linearGradient>
<linearGradient id="c57" x2="0" y2="1"><stop offset=".009" stop-color="#f3e2de"/><stop offset=".031" stop-color="#efecec"/><stop offset=".038" stop-color="#eaebef"/><stop offset=".06" stop-color="#d5dcf8"/><stop offset=".074" stop-color="#c5cdff"/><stop offset=".081" stop-color="#bac2ff"/><stop offset=".117" stop-color="#7c84ff"/><stop offset=".146" stop-color="#5f67ff"/><stop offset=".175" stop-color="#4c54ff"/><stop offset=".218" stop-color="#434bff"/><stop offset=".291" stop-color="#3c44ff"/><stop offset=".558" stop-color="#3d45ff"/><stop offset=".76" stop-color="#4850ff"/><stop offset=".991" stop-color="#5b63ff"/></linearGradient>
<linearGradient id="c58" x2="0" y2="1"><stop offset=".009" stop-color="#f8d9d1"/><stop offset=".024" stop-color="#f5ded9"/><stop offset=".045" stop-color="#eee"/><stop offset=".067" stop-color="#d5dcf8"/><stop offset=".074" stop-color="#cbd3fc"/><stop offset=".081" stop-color="#bfc7ff"/><stop offset=".117" stop-color="#7880ff"/><stop offset=".146" stop-color="#565eff"/><stop offset=".161" stop-color="#4850ff"/><stop offset=".175" stop-color="#3f47ff"/><stop offset=".233" stop-color="#3139ff"/><stop offset=".291" stop-color="#2c34ff"/><stop offset=".565" stop-color="#2c34ff"/><stop offset=".673" stop-color="#323aff"/><stop offset=".991" stop-color="#4d55ff"/></linearGradient>
<linearGradient id="c59" x2="0" y2="1"><stop offset=".009" stop-color="#ffb6ae"/><stop offset=".024" stop-color="#ffc5bd"/><stop offset=".038" stop-color="#f9d6ce"/><stop offset=".052" stop-color="#f0eae9"/><stop offset=".06" stop-color="#e6e8f1"/><stop offset=".074" stop-color="#cbd3fc"/><stop offset=".081" stop-color="#bcc4ff"/><stop offset=".103" stop-color="#8a92ff"/><stop offset=".117" stop-color="#6d75ff"/><stop offset=".139" stop-color="#5058ff"/><stop offset=".161" stop-color="#3a42ff"/><stop offset=".175" stop-color="#3038ff"/><stop offset=".218" stop-color="#242cff"/><stop offset=".298" stop-color="#1d23ff"/><stop offset=".529" stop-color="#1e25ff"/><stop offset=".659" stop-color="#262eff"/><stop offset=".991" stop-color="#4149ff"/></linearGradient>
<linearGradient id="c60" x2="0" y2="1"><stop offset=".009" stop-color="#ff948c"/><stop offset=".038" stop-color="#ffc5bd"/><stop offset=".045" stop-color="#fbd2ca"/><stop offset=".06" stop-color="#eee"/><stop offset=".074" stop-color="#ccd4fb"/><stop offset=".081" stop-color="#bac2ff"/><stop offset=".11" stop-color="#7179ff"/><stop offset=".125" stop-color="#565eff"/><stop offset=".146" stop-color="#3a42ff"/><stop offset=".168" stop-color="#252dff"/><stop offset=".182" stop-color="#1e25ff"/><stop offset=".204" stop-color="#191fff"/><stop offset=".283" stop-color="#1013ff"/><stop offset=".449" stop-color="#0d10ff"/><stop offset=".565" stop-color="#1318ff"/><stop offset=".991" stop-color="#353dff"/></linearGradient>
<linearGradient id="c61" x2="0" y2="1"><stop offset=".009" stop-color="#ff625a"/><stop offset=".045" stop-color="#ffbcb4"/><stop offset=".052" stop-color="#fccfc7"/><stop offset=".06" stop-color="#f3e2de"/><stop offset=".067" stop-color="#e6e8f1"/><stop offset=".074" stop-color="#ced6fa"/><stop offset=".081" stop-color="#b8c0ff"/><stop offset=".103" stop-color="#747cff"/><stop offset=".117" stop-color="#4f57ff"/><stop offset=".139" stop-color="#2a32ff"/><stop offset=".153" stop-color="#171dff"/><stop offset=".168" stop-color="#0a0cff"/><stop offset=".182" stop-color="#0405ff"/><stop offset=".283" stop-color="#00f"/><stop offset=".68" stop-color="#0101ff"/><stop offset=".782" stop-color="#090bff"/><stop offset=".991" stop-color="#272fff"/></linearGradient>
<linearGradient id="c62" x2="0" y2="1"><stop offset=".009" stop-color="#ff3028"/><stop offset=".052" stop-color="#ffbeb6"/><stop offset=".06" stop-color="#f9d6ce"/><stop offset=".067" stop-color="#eee"/><stop offset=".074" stop-color="#d1d9f9"/><stop offset=".081" stop-color="#b5bdff"/><stop offset=".103" stop-color="#626aff"/><stop offset=".11" stop-color="#4b53ff"/><stop offset=".117" stop-color="#3840ff"/><stop offset=".125" stop-color="#2c34ff"/><stop offset=".146" stop-color="#1318ff"/><stop offset=".161" stop-color="#0809ff"/><stop offset=".175" stop-color="#0101ff"/><stop offset=".803" stop-color="#0101ff"/><stop offset=".904" stop-color="#0709ff"/><stop offset=".991" stop-color="#1a1fff"/></linearGradient>
<linearGradient id="c63" x2="0" y2="1"><stop offset=".009" stop-color="#ff1f19"/><stop offset=".038" stop-color="#ff7b73"/><stop offset=".06" stop-color="#ffbbb3"/><stop offset=".067" stop-color="#fbd0c8"/><stop offset=".074" stop-color="#f2e5e2"/><stop offset=".081" stop-color="#e1e4f3"/><stop offset=".089" stop-color="#cad2fc"/><stop offset=".096" stop-color="#b6beff"/><stop offset=".117" stop-color="#7f87ff"/><stop offset=".153" stop-color="#2b33ff"/><stop offset=".168" stop-color="#1216ff"/><stop offset=".175" stop-color="#0b0dff"/><stop offset=".182" stop-color="#0709ff"/><stop offset=".283" stop-color="#00f"/><stop offset=".767" stop-color="#00f"/><stop offset=".89" stop-color="#0c0fff"/><stop offset=".991" stop-color="#1c22ff"/></linearGradient>
<linearGradient id="c64" x2="0" y2="1"><stop offset=".009" stop-color="#ff0e0b"/><stop offset=".016" stop-color="#ff251e"/><stop offset=".031" stop-color="#ff524a"/><stop offset=".052" stop-color="#ff8e86"/><stop offset=".074" stop-color="#ffc3bb"/><stop offset=".096" stop-color="#eee"/><stop offset=".117" stop-color="#c0c8ff"/><stop offset=".125" stop-color="#b1b9ff"/><stop offset=".132" stop-color="#9fa7ff"/><stop offset=".161" stop-color="#4b53ff"/><stop offset=".168" stop-color="#3a42ff"/><stop offset=".175" stop-color="#2c34ff"/><stop offset=".182" stop-color="#242cff"/><stop offset=".218" stop-color="#1216ff"/><stop offset=".247" stop-color="#0709ff"/><stop offset=".269" stop-color="#0203ff"/><stop offset=".298" stop-color="#00f"/><stop offset=".695" stop-color="#0101ff"/><stop offset=".789" stop-color="#0708ff"/><stop offset=".991" stop-color="#1e25ff"/></linearGradient>
<linearGradient id="c65" x2="0" y2="1"><stop offset=".009" stop-color="#f00"/><stop offset=".024" stop-color="#ff2820"/><stop offset=".045" stop-color="#ff5f57"/><stop offset=".089" stop-color="#ffc2ba"/><stop offset=".11" stop-color="#efedec"/><stop offset=".132" stop-color="#c6cefe"/><stop offset=".161" stop-color="#98a0ff"/><stop offset=".175" stop-color="#8991ff"/><stop offset=".211" stop-color="#7c84ff"/><stop offset=".262" stop-color="#727aff"/><stop offset=".384" stop-color="#6a72ff"/><stop offset=".565" stop-color="#6a72ff"/><stop offset=".76" stop-color="#7179ff"/><stop offset=".991" stop-color="#7f87ff"/></linearGradient>
<linearGradient id="c66" x2="0" y2="1"><stop offset=".009" stop-color="#f00"/><stop offset=".031" stop-color="#ff2b23"/><stop offset=".067" stop-color="#ff726a"/><stop offset=".103" stop-color="#ffc7bf"/><stop offset=".11" stop-color="#f9d4cc"/><stop offset=".117" stop-color="#f5dfda"/><stop offset=".125" stop-color="#f2e4e1"/><stop offset=".146" stop-color="#efecec"/><stop offset=".19" stop-color="#e8eaf0"/><stop offset=".283" stop-color="#e3e6f2"/><stop offset=".991" stop-color="#e3e6f2"/></linearGradient>
<linearGradient id="c67" x2="0" y2="1"><stop offset=".009" stop-color="#f00"/><stop offset=".031" stop-color="#ff2c24"/><stop offset=".067" stop-color="#ff726a"/><stop offset=".096" stop-color="#ffb0a8"/><stop offset=".11" stop-color="#fdcbc3"/><stop offset=".125" stop-color="#f6dbd5"/><stop offset=".161" stop-color="#f0e9e7"/><stop offset=".197" stop-color="#eee"/><stop offset=".276" stop-color="#e9eaf0"/><stop offset=".991" stop-color="#e8eaf0"/></linearGradient>
<linearGradient id="c68" x2="0" y2="1"><stop offset=".009" stop-color="#f00"/><stop offset=".031" stop-color="#ff2d25"/><stop offset=".045" stop-color="#ff4a42"/><stop offset=".096" stop-color="#ffaaa2"/><stop offset=".11" stop-color="#ffc3bb"/><stop offset=".125" stop-color="#fbd1c9"/><stop offset=".168" stop-color="#f2e4e1"/><stop offset=".226" stop-color="#efebea"/><stop offset=".291" stop-color="#eee"/><stop offset=".991" stop-color="#eee"/></linearGradient>
<linearGradient id="c69" x2="0" y2="1"><stop offset=".009" stop-color="#f00"/><stop offset=".031" stop-color="#ff352d"/><stop offset=".052" stop-color="#ff645c"/><stop offset=".089" stop-color="#ffa79f"/><stop offset=".103" stop-color="#ffbeb6"/><stop offset=".117" stop-color="#fcd0c8"/><stop offset=".125" stop-color="#f9d5cd"/><stop offset=".146" stop-color="#f5dfda"/><stop offset=".168" stop-color="#f2e6e3"/><stop offset=".218" stop-color="#efebea"/><stop offset=".298" stop-color="#eee"/><stop offset=".991" stop-color="#ebecef"/></linearGradient>
<linearGradient id="c70" x2="0" y2="1"><stop offset=".009" stop-color="#ff0e0b"/><stop offset=".031" stop-color="#ff443c"/><stop offset=".052" stop-color="#ff726a"/><stop offset=".096" stop-color="#ffbbb3"/><stop offset=".117" stop-color="#fad4cc"/><stop offset=".139" stop-color="#f5dfda"/><stop offset=".161" stop-color="#f2e6e3"/><stop offset=".204" stop-color="#efebea"/><stop offset=".298" stop-color="#eee"/><stop offset=".522" stop-color="#e8eaf0"/><stop offset=".991" stop-color="#e8eaf0"/></linearGradient>
<linearGradient id="c71" x2="0" y2="1"><stop offset=".009" stop-color="#ff342c"/><stop offset=".031" stop-color="#ff655d"/><stop offset=".052" stop-color="#ff8e86"/><stop offset=".067" stop-color="#ffa49c"/><stop offset=".096" stop-color="#ffc8c0"/><stop offset=".11" stop-color="#f9d6ce"/><stop offset=".125" stop-color="#f5dfd9"/><stop offset=".168" stop-color="#f0eae9"/><stop offset=".226" stop-color="#eee"/><stop offset=".514" stop-color="#e2e5f3"/><stop offset=".991" stop-color="#e1e5f3"/></linearGradient>
<linearGradient id="c72" x2="0" y2="1"><stop offset=".009" stop-color="#ff5a52"/><stop offset=".031" stop-color="#ff877f"/><stop offset=".045" stop-color="#ffa098"/><stop offset=".06" stop-color="#ffb4ac"/><stop offset=".074" stop-color="#ffc3bb"/><stop offset=".096" stop-color="#f9d5cd"/><stop offset=".117" stop-color="#f3e2de"/><stop offset=".168" stop-color="#efedec"/><stop offset=".291" stop-color="#e9eaf0"/><stop offset=".507" stop-color="#dbe0f5"/><stop offset=".991" stop-color="#dbe0f5"/></linearGradient>
<linearGradient id="c73" x2="0" y2="1"><stop offset=".009" stop-color="#ff776f"/><stop offset=".031" stop-color="#ff9890"/><stop offset=".052" stop-color="#ffb4ac"/><stop offset=".074" stop-color="#ffc8c0"/><stop offset=".089" stop-color="#fad3cb"/><stop offset=".117" stop-color="#f3e4e0"/><stop offset=".168" stop-color="#eeeded"/><stop offset=".305" stop-color="#ebecef"/><stop offset=".529" stop-color="#e0e4f3"/><stop offset=".991" stop-color="#dfe3f4"/></linearGradient>
<linearGradient id="c74" x2="0" y2="1"><stop offset=".009" stop-color="#ff948c"/><stop offset=".052" stop-color="#ffbdb5"/><stop offset=".067" stop-color="#ffc8c0"/><stop offset=".096" stop-color="#f7dbd4"/><stop offset=".125" stop-color="#f1e7e4"/><stop offset=".168" stop-color="#eeeded"/><stop offset=".348" stop-color="#ededee"/><stop offset=".623" stop-color="#e3e6f2"/><stop offset=".991" stop-color="#e3e6f2"/></linearGradient>
<linearGradient id="c75" x2="0" y2="1"><stop offset=".009" stop-color="#ff948c"/><stop offset=".052" stop-color="#ffbbb3"/><stop offset=".074" stop-color="#fecac2"/><stop offset=".103" stop-color="#f6dcd6"/><stop offset=".125" stop-color="#f2e4e1"/><stop offset=".175" stop-color="#efedec"/><stop offset=".298" stop-color="#eee"/><stop offset=".616" stop-color="#e9eaf0"/><stop offset=".991" stop-color="#e8eaf0"/></linearGradient>
<linearGradient id="c76" x2="0" y2="1"><stop offset=".009" stop-color="#ff948c"/><stop offset=".045" stop-color="#ffb4ac"/><stop offset=".074" stop-color="#ffc8c0"/><stop offset=".103" stop-color="#f7d9d3"/><stop offset=".125" stop-color="#f3e2de"/><stop offset=".175" stop-color="#efebea"/><stop offset=".291" stop-color="#eee"/><stop offset=".991" stop-color="#eee"/></linearGradient>
<linearGradient id="c77" x2="0" y2="1"><stop offset=".009" stop-color="#ff978f"/><stop offset=".045" stop-color="#ffb2aa"/><stop offset=".081" stop-color="#ffc8c0"/><stop offset=".11" stop-color="#f8d7d0"/><stop offset=".146" stop-color="#f4e1dd"/><stop offset=".182" stop-color="#f2e6e3"/><stop offset=".291" stop-color="#f0e9e8"/><stop offset=".991" stop-color="#f0eae9"/></linearGradient>
<linearGradient id="c78" x2="0" y2="1"><stop offset=".009" stop-color="#ff9b93"/><stop offset=".089" stop-color="#ffc7bf"/><stop offset=".117" stop-color="#fad4cc"/><stop offset=".161" stop-color="#f5ddd8"/><stop offset=".204" stop-color="#f4e1dd"/><stop offset=".291" stop-color="#f2e4e1"/><stop offset=".991" stop-color="#f1e7e4"/></linearGradient>
<linearGradient id="c79" x2="0" y2="1"><stop offset=".009" stop-color="#ffa29a"/><stop offset=".103" stop-color="#ffc0b8"/><stop offset=".175" stop-color="#ffc9c1"/><stop offset=".991" stop-color="#f8d7d0"/></linearGradient>
<linearGradient id="c80" x2="0" y2="1"><stop offset=".009" stop-color="#ffa9a1"/><stop offset=".11" stop-color="#ffb2aa"/><stop offset=".745" stop-color="#ffbeb6"/><stop offset=".991" stop-color="#ffc8c0"/></linearGradient>
<linearGradient id="c81" x2="0" y2="1"><stop offset=".009" stop-color="#ffa59d"/><stop offset=".11" stop-color="#ff958d"/><stop offset=".197" stop-color="#ff958d"/><stop offset=".457" stop-color="#ffa29a"/><stop offset=".76" stop-color="#ffa9a1"/><stop offset=".991" stop-color="#ffb7af"/></linearGradient>
<linearGradient id="c82" x2="0" y2="1"><stop offset=".009" stop-color="#ffa29a"/><stop offset=".052" stop-color="#ff8b83"/><stop offset=".103" stop-color="#ff7a72"/><stop offset=".125" stop-color="#ff776f"/><stop offset=".182" stop-color="#ff776f"/><stop offset=".406" stop-color="#ff8a82"/><stop offset=".507" stop-color="#ff8f87"/><stop offset=".702" stop-color="#ff9088"/><stop offset=".991" stop-color="#ffa79f"/></linearGradient>
<linearGradient id="c83" x2="0" y2="1"><stop offset=".009" stop-color="#ffb6ae"/><stop offset=".06" stop-color="#ff9c94"/><stop offset=".103" stop-color="#ff8f87"/><stop offset=".125" stop-color="#ff8c84"/><stop offset=".218" stop-color="#ff8d85"/><stop offset=".493" stop-color="#ff9a92"/><stop offset=".68" stop-color="#ff9b93"/><stop offset=".991" stop-color="#ffaea6"/></linearGradient>
<linearGradient id="c84" x2="0" y2="1"><stop offset=".009" stop-color="#fecac2"/><stop offset=".06" stop-color="#ffb0a8"/><stop offset=".096" stop-color="#ffa69e"/><stop offset=".125" stop-color="#ffa29a"/><stop offset=".659" stop-color="#ffa79f"/><stop offset=".991" stop-color="#ffb5ad"/></linearGradient>
<linearGradient id="c85" x2="0" y2="1"><stop offset=".009" stop-color="#fccec6"/><stop offset=".038" stop-color="#ffa49c"/><stop offset=".052" stop-color="#ff948c"/><stop offset=".067" stop-color="#ff8981"/><stop offset=".11" stop-color="#ff746c"/><stop offset=".146" stop-color="#ff6f67"/><stop offset=".312" stop-color="#ff6e66"/><stop offset=".608" stop-color="#ff7169"/><stop offset=".991" stop-color="#ff837b"/></linearGradient>
<linearGradient id="c86" x2="0" y2="1"><stop offset=".009" stop-color="#fbd1c9"/><stop offset=".016" stop-color="#ffbfb7"/><stop offset=".038" stop-color="#ff8f87"/><stop offset=".052" stop-color="#ff766e"/><stop offset=".067" stop-color="#ff645c"/><stop offset=".089" stop-color="#ff524a"/><stop offset=".11" stop-color="#ff453d"/><stop offset=".153" stop-color="#ff3b33"/><stop offset=".551" stop-color="#ff3931"/><stop offset=".875" stop-color="#ff473f"/><stop offset=".991" stop-color="#ff5149"/></linearGradient>
<linearGradient id="c87" x2="0" y2="1"><stop offset=".009" stop-color="#f8d9d1"/><stop offset=".016" stop-color="#ffc1b9"/><stop offset=".038" stop-color="#ff8179"/><stop offset=".052" stop-color="#ff6058"/><stop offset=".067" stop-color="#ff4a42"/><stop offset=".089" stop-color="#ff362e"/><stop offset=".11" stop-color="#ff2820"/><stop offset=".161" stop-color="#ff1a15"/><stop offset=".276" stop-color="#ff120e"/><stop offset=".551" stop-color="#ff120f"/><stop offset=".796" stop-color="#ff1f19"/><stop offset=".991" stop-color="#ff322a"/></linearGradient>
<linearGradient id="c88" x2="0" y2="1"><stop offset=".009" stop-color="#f4e0db"/><stop offset=".016" stop-color="#ffc2ba"/><stop offset=".031" stop-color="#ff8a82"/><stop offset=".038" stop-color="#ff726a"/><stop offset=".052" stop-color="#ff4941"/><stop offset=".06" stop-color="#ff3a32"/><stop offset=".074" stop-color="#ff271f"/><stop offset=".096" stop-color="#ff130f"/><stop offset=".11" stop-color="#ff0908"/><stop offset=".125" stop-color="#ff0504"/><stop offset=".182" stop-color="#f00"/><stop offset=".774" stop-color="#f00"/><stop offset=".897" stop-color="#ff0605"/><stop offset=".991" stop-color="#ff130f"/></linearGradient>
<linearGradient id="c89" x2="0" y2="1"><stop offset=".009" stop-color="#f1e7e4"/><stop offset=".016" stop-color="#fbd2ca"/><stop offset=".024" stop-color="#ffbdb5"/><stop offset=".038" stop-color="#ff9890"/><stop offset=".052" stop-color="#ff7971"/><stop offset=".067" stop-color="#ff625a"/><stop offset=".089" stop-color="#ff473f"/><stop offset=".11" stop-color="#ff332b"/><stop offset=".125" stop-color="#ff2b23"/><stop offset=".146" stop-color="#ff251d"/><stop offset=".182" stop-color="#ff1f19"/><stop offset=".276" stop-color="#ff1914"/><stop offset=".536" stop-color="#ff1c16"/><stop offset=".774" stop-color="#ff271f"/><stop offset=".991" stop-color="#ff3e36"/></linearGradient>
<linearGradient id="c90" x2="0" y2="1"><stop offset=".009" stop-color="#eee"/><stop offset=".024" stop-color="#f9d5cd"/><stop offset=".031" stop-color="#fec9c1"/><stop offset=".052" stop-color="#ffa8a0"/><stop offset=".103" stop-color="#ff625a"/><stop offset=".117" stop-color="#ff544c"/><stop offset=".125" stop-color="#ff5149"/><stop offset=".161" stop-color="#ff4941"/><stop offset=".449" stop-color="#ff4840"/><stop offset=".767" stop-color="#ff564e"/><stop offset=".991" stop-color="#ff6961"/></linearGradient>
<linearGradient id="c91" x2="0" y2="1"><stop offset=".009" stop-color="#cdd5fb"/><stop offset=".024" stop-color="#e6e9f1"/><stop offset=".031" stop-color="#f0eae9"/><stop offset=".045" stop-color="#f8d7cf"/><stop offset=".06" stop-color="#ffc6be"/><stop offset=".096" stop-color="#ffa49c"/><stop offset=".125" stop-color="#ff9189"/><stop offset=".168" stop-color="#ff7f77"/><stop offset=".211" stop-color="#ff7870"/><stop offset=".283" stop-color="#ff726a"/><stop offset=".464" stop-color="#ff736b"/><stop offset=".767" stop-color="#ff7c74"/><stop offset=".991" stop-color="#ff8a82"/></linearGradient>
<linearGradient id="c92" x2="0" y2="1"><stop offset=".009" stop-color="#b1b9ff"/><stop offset=".024" stop-color="#c4ccff"/><stop offset=".038" stop-color="#d6ddf7"/><stop offset=".06" stop-color="#eee"/><stop offset=".081" stop-color="#f3e2de"/><stop offset=".125" stop-color="#fbd1c9"/><stop offset=".139" stop-color="#fec9c1"/><stop offset=".175" stop-color="#ffb3ab"/><stop offset=".226" stop-color="#ffa59d"/><stop offset=".269" stop-color="#ff9f97"/><stop offset=".558" stop-color="#ff9d95"/><stop offset=".774" stop-color="#ffa29a"/><stop offset=".991" stop-color="#ffaba3"/></linearGradient>
<linearGradient id="c93" x2="0" y2="1"><stop offset=".009" stop-color="#cdd5fb"/><stop offset=".045" stop-color="#e7e9f1"/><stop offset=".06" stop-color="#efedec"/><stop offset=".125" stop-color="#fad4cc"/><stop offset=".146" stop-color="#ffc6be"/><stop offset=".175" stop-color="#ffb4ac"/><stop offset=".226" stop-color="#ffa79f"/><stop offset=".269" stop-color="#ffa199"/><stop offset=".587" stop-color="#ffa098"/><stop offset=".991" stop-color="#ffb2aa"/></linearGradient>
<linearGradient id="c94" x2="0" y2="1"><stop offset=".009" stop-color="#eee"/><stop offset=".06" stop-color="#f0eae9"/><stop offset=".089" stop-color="#f2e4e1"/><stop offset=".132" stop-color="#fad2ca"/><stop offset=".146" stop-color="#ffc9c1"/><stop offset=".168" stop-color="#ffb9b1"/><stop offset=".182" stop-color="#ffb2aa"/><stop offset=".233" stop-color="#ffa8a0"/><stop offset=".276" stop-color="#ffa39b"/><stop offset=".644" stop-color="#ffa49c"/><stop offset=".868" stop-color="#ffb4ac"/><stop offset=".991" stop-color="#ffbab2"/></linearGradient>
<linearGradient id="c95" x2="0" y2="1"><stop offset=".009" stop-color="#eee"/><stop offset=".052" stop-color="#efeceb"/><stop offset=".081" stop-color="#f1e8e5"/><stop offset=".132" stop-color="#fad2ca"/><stop offset=".146" stop-color="#ffc9c1"/><stop offset=".168" stop-color="#ffb9b1"/><stop offset=".182" stop-color="#ffb2aa"/><stop offset=".24" stop-color="#ffa49c"/><stop offset=".283" stop-color="#ff9e96"/><stop offset=".449" stop-color="#ff9c94"/><stop offset=".644" stop-color="#ffa199"/><stop offset=".991" stop-color="#ffbcb4"/></linearGradient>
<linearGradient id="c96" x2="0" y2="1"><stop offset=".009" stop-color="#eee"/><stop offset=".06" stop-color="#efecec"/><stop offset=".081" stop-color="#f0e9e7"/><stop offset=".125" stop-color="#f9d6ce"/><stop offset=".146" stop-color="#ffc9c1"/><stop offset=".182" stop-color="#ffb2aa"/><stop offset=".24" stop-color="#ffa199"/><stop offset=".291" stop-color="#ff9991"/><stop offset=".435" stop-color="#ff968e"/><stop offset=".637" stop-color="#ff9d95"/><stop offset=".991" stop-color="#ffbeb6"/></linearGradient>
<linearGradient id="c97" x2="0" y2="1"><stop offset=".009" stop-color="#eee"/><stop offset=".074" stop-color="#efeceb"/><stop offset=".096" stop-color="#f1e6e4"/><stop offset=".125" stop-color="#f6dbd5"/><stop offset=".161" stop-color="#ffc8c0"/><stop offset=".175" stop-color="#ffc2ba"/><stop offset=".24" stop-color="#ffb3ab"/><stop offset=".291" stop-color="#ffaea6"/><stop offset=".442" stop-color="#ffada5"/><stop offset=".608" stop-color="#ffb0a8"/><stop offset=".991" stop-color="#ffc8c0"/></linearGradient>
<linearGradient id="c98" x2="0" y2="1"><stop offset=".009" stop-color="#eee"/><stop offset=".074" stop-color="#eeeeed"/><stop offset=".096" stop-color="#f0e9e7"/><stop offset=".175" stop-color="#fccec6"/><stop offset=".276" stop-color="#ffc4bc"/><stop offset=".572" stop-color="#ffc4bc"/><stop offset=".991" stop-color="#fbd1c9"/></linearGradient>
<linearGradient id="c99" x2="0" y2="1"><stop offset=".009" stop-color="#dde2f4"/><stop offset=".081" stop-color="#eee"/><stop offset=".125" stop-color="#f2e6e3"/><stop offset=".182" stop-color="#f9d6ce"/><stop offset=".276" stop-color="#fccec6"/><stop offset=".558" stop-color="#fccec6"/><stop offset=".991" stop-color="#f8d9d1"/></linearGradient>
<linearGradient id="c100" x2="0" y2="1"><stop offset=".009" stop-color="#cdd5fb"/><stop offset=".052" stop-color="#e4e7f2"/><stop offset=".103" stop-color="#eee"/><stop offset=".182" stop-color="#f4e0db"/><stop offset=".283" stop-color="#f7d9d2"/><stop offset=".536" stop-color="#f8d9d1"/><stop offset=".991" stop-color="#f4e0db"/></linearGradient>
<linearGradient id="c101" x2="0" y2="1"><stop offset=".009" stop-color="#9ea6ff"/><stop offset=".045" stop-color="#c1c9ff"/><stop offset=".074" stop-color="#d3dbf8"/><stop offset=".146" stop-color="#eee"/><stop offset=".168" stop-color="#f0e9e7"/><stop offset=".226" stop-color="#f3e3e0"/><stop offset=".291" stop-color="#f4e1dd"/><stop offset=".991" stop-color="#f2e4e1"/></linearGradient>
<linearGradient id="c102" x2="0" y2="1"><stop offset=".009" stop-color="#6e76ff"/><stop offset=".031" stop-color="#9199ff"/><stop offset=".045" stop-color="#a4acff"/><stop offset=".06" stop-color="#b4bcff"/><stop offset=".081" stop-color="#c5cdfe"/><stop offset=".117" stop-color="#dae0f6"/><stop offset=".175" stop-color="#ededee"/><stop offset=".291" stop-color="#f0e9e8"/><stop offset=".991" stop-color="#f0e9e8"/></linearGradient>
<linearGradient id="c103" x2="0" y2="1"><stop offset=".009" stop-color="#464eff"/><stop offset=".038" stop-color="#6d75ff"/><stop offset=".06" stop-color="#868eff"/><stop offset=".11" stop-color="#b3bbff"/><stop offset=".132" stop-color="#c2caff"/><stop offset=".161" stop-color="#d4dbf8"/><stop offset=".182" stop-color="#dde2f4"/><stop offset=".218" stop-color="#e5e7f2"/><stop offset=".269" stop-color="#ebecef"/><stop offset=".327" stop-color="#ededee"/><stop offset=".991" stop-color="#efeceb"/></linearGradient>
<linearGradient id="c104" x2="0" y2="1"><stop offset=".009" stop-color="#1e25ff"/><stop offset=".096" stop-color="#8088ff"/><stop offset=".153" stop-color="#bac2ff"/><stop offset=".175" stop-color="#cad2fc"/><stop offset=".218" stop-color="#d9dff6"/><stop offset=".269" stop-color="#e3e6f2"/><stop offset=".327" stop-color="#e7e9f1"/><stop offset=".63" stop-color="#eee"/><stop offset=".991" stop-color="#eee"/></linearGradient>
<linearGradient id="c105" x2="0" y2="1"><stop offset=".009" stop-color="#0b0dff"/><stop offset=".038" stop-color="#242cff"/><stop offset=".06" stop-color="#3b43ff"/><stop offset=".117" stop-color="#878fff"/><stop offset=".161" stop-color="#b7bfff"/><stop offset=".182" stop-color="#c6cefe"/><stop offset=".226" stop-color="#d5dcf8"/><stop offset=".291" stop-color="#e2e6f3"/><stop offset=".399" stop-color="#e8eaf0"/><stop offset=".63" stop-color="#eee"/><stop offset=".991" stop-color="#eee"/></linearGradient>
<linearGradient id="c106" x2="0" y2="1"><stop offset=".009" stop-color="#00f"/><stop offset=".038" stop-color="#0f12ff"/><stop offset=".067" stop-color="#272fff"/><stop offset=".081" stop-color="#3a42ff"/><stop offset=".117" stop-color="#777fff"/><stop offset=".146" stop-color="#9da5ff"/><stop offset=".168" stop-color="#b5bdff"/><stop offset=".19" stop-color="#c2caff"/><stop offset=".233" stop-color="#d2daf9"/><stop offset=".298" stop-color="#e0e4f3"/><stop offset=".413" stop-color="#e8eaf0"/><stop offset=".63" stop-color="#eee"/><stop offset=".991" stop-color="#eee"/></linearGradient>
<linearGradient id="c107" x2="0" y2="1"><stop offset=".009" stop-color="#0405ff"/><stop offset=".038" stop-color="#1f25ff"/><stop offset=".067" stop-color="#4149ff"/><stop offset=".117" stop-color="#929aff"/><stop offset=".139" stop-color="#acb4ff"/><stop offset=".168" stop-color="#c8d0fd"/><stop offset=".197" stop-color="#d4dcf8"/><stop offset=".269" stop-color="#e4e7f2"/><stop offset=".363" stop-color="#eaebf0"/><stop offset=".63" stop-color="#eee"/><stop offset=".991" stop-color="#eee"/></linearGradient>
<linearGradient id="c108" x2="0" y2="1"><stop offset=".009" stop-color="#1115ff"/><stop offset=".031" stop-color="#2a32ff"/><stop offset=".067" stop-color="#5b63ff"/><stop offset=".117" stop-color="#adb5ff"/><stop offset=".139" stop-color="#c4ccff"/><stop offset=".153" stop-color="#d1d9f9"/><stop offset=".168" stop-color="#dde2f5"/><stop offset=".182" stop-color="#e3e6f2"/><stop offset=".24" stop-color="#ebecef"/><stop offset=".291" stop-color="#eee"/><stop offset=".991" stop-color="#eee"/></linearGradient>
<linearGradient id="c109" x2="0" y2="1"><stop offset=".009" stop-color="#3c44ff"/><stop offset=".067" stop-color="#7179ff"/><stop offset=".11" stop-color="#9ca4ff"/><stop offset=".125" stop-color="#a7afff"/><stop offset=".168" stop-color="#bfc7ff"/><stop offset=".218" stop-color="#cbd3fc"/><stop offset=".269" stop-color="#d1d9f9"/><stop offset=".327" stop-color="#d3dbf8"/><stop offset=".991" stop-color="#dde2f4"/></linearGradient>
<linearGradient id="c110" x2="0" y2="1"><stop offset=".009" stop-color="#6971ff"/><stop offset=".06" stop-color="#838bff"/><stop offset=".117" stop-color="#979fff"/><stop offset=".182" stop-color="#a7afff"/><stop offset=".283" stop-color="#b9c1ff"/><stop offset=".529" stop-color="#c4ccff"/><stop offset=".991" stop-color="#cdd5fb"/></linearGradient>
<linearGradient id="c111" x2="0" y2="1"><stop offset=".009" stop-color="#8890ff"/><stop offset=".052" stop-color="#777fff"/><stop offset=".089" stop-color="#6f77ff"/><stop offset=".117" stop-color="#6b73ff"/><stop offset=".182" stop-color="#6971ff"/><stop offset=".745" stop-color="#777fff"/><stop offset=".991" stop-color="#868eff"/></linearGradient>
<linearGradient id="c112" x2="0" y2="1"><stop offset=".009" stop-color="#a7afff"/><stop offset=".038" stop-color="#7e86ff"/><stop offset=".06" stop-color="#666eff"/><stop offset=".081" stop-color="#555dff"/><stop offset=".11" stop-color="#434bff"/><stop offset=".168" stop-color="#2f37ff"/><stop offset=".262" stop-color="#2027ff"/><stop offset=".565" stop-color="#1f26ff"/><stop offset=".796" stop-color="#2931ff"/><stop offset=".991" stop-color="#3f47ff"/></linearGradient>
<linearGradient id="c113" x2="0" y2="1"><stop offset=".009" stop-color="#c2caff"/><stop offset=".031" stop-color="#969eff"/><stop offset=".052" stop-color="#7078ff"/><stop offset=".074" stop-color="#525aff"/><stop offset=".096" stop-color="#373fff"/><stop offset=".117" stop-color="#2229ff"/><stop offset=".132" stop-color="#191eff"/><stop offset=".161" stop-color="#0a0cff"/><stop offset=".182" stop-color="#0405ff"/><stop offset=".291" stop-color="#00f"/><stop offset=".774" stop-color="#00f"/><stop offset=".897" stop-color="#0e11ff"/><stop offset=".991" stop-color="#1e25ff"/></linearGradient>
<linearGradient id="c114" x2="0" y2="1"><stop offset=".009" stop-color="#dde2f4"/><stop offset=".016" stop-color="#c9d1fd"/><stop offset=".045" stop-color="#838bff"/><stop offset=".089" stop-color="#2a32ff"/><stop offset=".103" stop-color="#1115ff"/><stop offset=".11" stop-color="#080aff"/><stop offset=".117" stop-color="#0203ff"/><stop offset=".125" stop-color="#00f"/><stop offset=".991" stop-color="#00f"/></linearGradient>
<linearGradient id="c115" x2="0" y2="1"><stop offset=".009" stop-color="#e6e8f1"/><stop offset=".016" stop-color="#ccd4fb"/><stop offset=".024" stop-color="#b6beff"/><stop offset=".045" stop-color="#7c84ff"/><stop offset=".06" stop-color="#5b63ff"/><stop offset=".096" stop-color="#191eff"/><stop offset=".11" stop-color="#0708ff"/><stop offset=".117" stop-color="#0202ff"/><stop offset=".125" stop-color="#00f"/><stop offset=".991" stop-color="#00f"/></linearGradient>
<linearGradient id="c116" x2="0" y2="1"><stop offset=".009" stop-color="#eee"/><stop offset=".016" stop-color="#d0d8fa"/><stop offset=".024" stop-color="#b7bfff"/><stop offset=".045" stop-color="#747cff"/><stop offset=".06" stop-color="#5159ff"/><stop offset=".089" stop-color="#1f26ff"/><stop offset=".103" stop-color="#0c0fff"/><stop offset=".117" stop-color="#0202ff"/><stop offset=".991" stop-color="#00f"/></linearGradient>
<linearGradient id="c117" x2="0" y2="1"><stop offset=".009" stop-color="#ebecef"/><stop offset=".016" stop-color="#ccd4fb"/><stop offset=".024" stop-color="#b2baff"/><stop offset=".038" stop-color="#828aff"/><stop offset=".052" stop-color="#5a62ff"/><stop offset=".06" stop-color="#4951ff"/><stop offset=".089" stop-color="#1b21ff"/><stop offset=".103" stop-color="#0b0dff"/><stop offset=".117" stop-color="#0102ff"/><stop offset=".875" stop-color="#00f"/><stop offset=".991" stop-color="#0203ff"/></linearGradient>
<linearGradient id="c118" x2="0" y2="1"><stop offset=".009" stop-color="#e8eaf0"/><stop offset=".016" stop-color="#c8d0fd"/><stop offset=".038" stop-color="#7b83ff"/><stop offset=".052" stop-color="#525aff"/><stop offset=".06" stop-color="#424aff"/><stop offset=".074" stop-color="#2a32ff"/><stop offset=".089" stop-color="#181dff"/><stop offset=".103" stop-color="#090cff"/><stop offset=".117" stop-color="#0101ff"/><stop offset=".767" stop-color="#00f"/><stop offset=".796" stop-color="#0304ff"/><stop offset=".875" stop-color="#1115ff"/><stop offset=".991" stop-color="#1e25ff"/></linearGradient>
<linearGradient id="c119" x2="0" y2="1"><stop offset=".009" stop-color="#ebecef"/><stop offset=".016" stop-color="#cdd5fb"/><stop offset=".024" stop-color="#b4bcff"/><stop offset=".031" stop-color="#9ca4ff"/><stop offset=".045" stop-color="#7179ff"/><stop offset=".06" stop-color="#4f57ff"/><stop offset=".081" stop-color="#2931ff"/><stop offset=".096" stop-color="#1419ff"/><stop offset=".11" stop-color="#0607ff"/><stop offset=".125" stop-color="#00f"/><stop offset=".774" stop-color="#00f"/><stop offset=".897" stop-color="#0b0dff"/><stop offset=".991" stop-color="#1a1fff"/></linearGradient>
<linearGradient id="c120" x2="0" y2="1"><stop offset=".009" stop-color="#eee"/><stop offset=".016" stop-color="#d2daf9"/><stop offset=".024" stop-color="#bbc3ff"/><stop offset=".045" stop-color="#7d85ff"/><stop offset=".06" stop-color="#5b63ff"/><stop offset=".089" stop-color="#242cff"/><stop offset=".096" stop-color="#181eff"/><stop offset=".11" stop-color="#0708ff"/><stop offset=".125" stop-color="#00f"/><stop offset=".883" stop-color="#00f"/><stop offset=".926" stop-color="#0506ff"/><stop offset=".991" stop-color="#151aff"/></linearGradient>
<linearGradient id="c121" x2="0" y2="1"><stop offset=".009" stop-color="#f1e7e4"/><stop offset=".016" stop-color="#e3e6f2"/><stop offset=".031" stop-color="#c2caff"/><stop offset=".089" stop-color="#5159ff"/><stop offset=".11" stop-color="#2b33ff"/><stop offset=".125" stop-color="#1c22ff"/><stop offset=".146" stop-color="#0d10ff"/><stop offset=".175" stop-color="#0101ff"/><stop offset=".579" stop-color="#0202ff"/><stop offset=".673" stop-color="#090bff"/><stop offset=".789" stop-color="#171cff"/><stop offset=".991" stop-color="#353dff"/></linearGradient>
<linearGradient id="c122" x2="0" y2="1"><stop offset=".009" stop-color="#f4e0db"/><stop offset=".016" stop-color="#f0e9e7"/><stop offset=".024" stop-color="#e9eaf0"/><stop offset=".038" stop-color="#d2daf9"/><stop offset=".052" stop-color="#bdc5ff"/><stop offset=".074" stop-color="#9ba3ff"/><stop offset=".103" stop-color="#6169ff"/><stop offset=".117" stop-color="#4a52ff"/><stop offset=".146" stop-color="#373fff"/><stop offset=".182" stop-color="#2c34ff"/><stop offset=".283" stop-color="#222aff"/><stop offset=".471" stop-color="#242cff"/><stop offset=".76" stop-color="#3a42ff"/><stop offset=".991" stop-color="#565eff"/></linearGradient>
<linearGradient id="c123" x2="0" y2="1"><stop offset=".009" stop-color="#fec9c1"/><stop offset=".016" stop-color="#fad2ca"/><stop offset=".038" stop-color="#ecedef"/><stop offset=".052" stop-color="#d4dbf8"/><stop offset=".067" stop-color="#bec6ff"/><stop offset=".11" stop-color="#6f77ff"/><stop offset=".125" stop-color="#5e66ff"/><stop offset=".146" stop-color="#4d55ff"/><stop offset=".168" stop-color="#4149ff"/><stop offset=".218" stop-color="#363eff"/><stop offset=".298" stop-color="#2f37ff"/><stop offset=".435" stop-color="#2f37ff"/><stop offset=".536" stop-color="#333bff"/><stop offset=".767" stop-color="#474fff"/><stop offset=".991" stop-color="#626aff"/></linearGradient>
<linearGradient id="c124" x2="0" y2="1"><stop offset=".009" stop-color="#ffb2aa"/><stop offset=".024" stop-color="#ffc6be"/><stop offset=".038" stop-color="#f7dad3"/><stop offset=".052" stop-color="#eee"/><stop offset=".067" stop-color="#d5dcf8"/><stop offset=".081" stop-color="#bdc5ff"/><stop offset=".11" stop-color="#8a92ff"/><stop offset=".125" stop-color="#7880ff"/><stop offset=".139" stop-color="#6a72ff"/><stop offset=".161" stop-color="#5860ff"/><stop offset=".175" stop-color="#4f57ff"/><stop offset=".24" stop-color="#4149ff"/><stop offset=".298" stop-color="#3c44ff"/><stop offset=".551" stop-color="#4048ff"/><stop offset=".767" stop-color="#525aff"/><stop offset=".991" stop-color="#6e76ff"/></linearGradient>
<linearGradient id="c125" x2="0" y2="1"><stop offset=".009" stop-color="#ff8b83"/><stop offset=".038" stop-color="#ffc5bd"/><stop offset=".045" stop-color="#fad2ca"/><stop offset=".06" stop-color="#efecec"/><stop offset=".067" stop-color="#e1e5f3"/><stop offset=".081" stop-color="#c6cefe"/><stop offset=".11" stop-color="#98a0ff"/><stop offset=".125" stop-color="#878fff"/><stop offset=".146" stop-color="#737bff"/><stop offset=".168" stop-color="#646cff"/><stop offset=".182" stop-color="#5e66ff"/><stop offset=".262" stop-color="#4c54ff"/><stop offset=".421" stop-color="#4951ff"/><stop offset=".543" stop-color="#4e56ff"/><stop offset=".76" stop-color="#6068ff"/><stop offset=".991" stop-color="#7a82ff"/></linearGradient>
<linearGradient id="c126" x2="0" y2="1"><stop offset=".009" stop-color="#ff645c"/><stop offset=".031" stop-color="#ff9f97"/><stop offset=".045" stop-color="#ffc2ba"/><stop offset=".067" stop-color="#eee"/><stop offset=".089" stop-color="#c5cdfe"/><stop offset=".11" stop-color="#a7afff"/><stop offset=".125" stop-color="#979fff"/><stop offset=".146" stop-color="#848cff"/><stop offset=".168" stop-color="#757dff"/><stop offset=".226" stop-color="#6169ff"/><stop offset=".283" stop-color="#575fff"/><stop offset=".435" stop-color="#575fff"/><stop offset=".543" stop-color="#5c64ff"/><stop offset=".753" stop-color="#6e76ff"/><stop offset=".875" stop-color="#7d85ff"/><stop offset=".991" stop-color="#868eff"/></linearGradient>
<linearGradient id="c127" x2="0" y2="1"><stop offset=".009" stop-color="#ff3e36"/><stop offset=".024" stop-color="#ff726a"/><stop offset=".038" stop-color="#ffa098"/><stop offset=".052" stop-color="#ffc8c0"/><stop offset=".067" stop-color="#f1e7e4"/><stop offset=".074" stop-color="#e7e9f0"/><stop offset=".096" stop-color="#c4ccff"/><stop offset=".117" stop-color="#abb3ff"/><stop offset=".139" stop-color="#969eff"/><stop offset=".175" stop-color="#7b83ff"/><stop offset=".233" stop-color="#6971ff"/><stop offset=".283" stop-color="#6068ff"/><stop offset=".435" stop-color="#6068ff"/><stop offset=".565" stop-color="#676fff"/><stop offset=".991" stop-color="#8a92ff"/></linearGradient>
<linearGradient id="c128" x2="0" y2="1"><stop offset=".009" stop-color="#ff1813"/><stop offset=".024" stop-color="#ff574f"/><stop offset=".038" stop-color="#ff9088"/><stop offset=".052" stop-color="#ffbeb6"/><stop offset=".067" stop-color="#f4e0db"/><stop offset=".074" stop-color="#efeceb"/><stop offset=".089" stop-color="#d8def6"/><stop offset=".103" stop-color="#c7cffe"/><stop offset=".153" stop-color="#949cff"/><stop offset=".175" stop-color="#848cff"/><stop offset=".233" stop-color="#727aff"/><stop offset=".283" stop-color="#6a72ff"/><stop offset=".435" stop-color="#6a72ff"/><stop offset=".63" stop-color="#727aff"/><stop offset=".991" stop-color="#8d95ff"/></linearGradient>
<linearGradient id="cb" x1="0" y1="155.7" x2="0" y2="809.5" gradientUnits="userSpaceOnUse"><stop offset="0.0000" stop-color="#800000"/><stop offset="0.1000" stop-color="#c00000"/><stop offset="0.2000" stop-color="#ff0000"/><stop offset="0.2500" stop-color="#ff0000"/><stop offset="0.2670" stop-color="#ff100d"/><stop offset="0.3000" stop-color="#ff3028"/><stop offset="0.3500" stop-color="#ff5f57"/><stop offset="0.4000" stop-color="#ff8f87"/><stop offset="0.4500" stop-color="#ffbeb6"/><stop offset="0.4600" stop-color="#ffc8c0"/><stop offset="0.4750" stop-color="#f9d6ce"/><stop offset="0.4875" stop-color="#f3e2de"/><stop offset="0.5000" stop-color="#eeeeee"/><stop offset="0.5125" stop-color="#e0e4f3"/><stop offset="0.5250" stop-color="#d2daf9"/><stop offset="0.5400" stop-color="#c4ccff"/><stop offset="0.5500" stop-color="#bac2ff"/><stop offset="0.6000" stop-color="#8b93ff"/><stop offset="0.6500" stop-color="#5b63ff"/><stop offset="0.7000" stop-color="#2c34ff"/><stop offset="0.7330" stop-color="#0f12ff"/><stop offset="0.7500" stop-color="#0000ff"/><stop offset="0.8000" stop-color="#0000ff"/><stop offset="0.9000" stop-color="#0000c0"/><stop offset="1.0000" stop-color="#000080"/></linearGradient>
</defs>
<g clip-path="url(#clipA)"><g><rect x="480.2" y="34.0" width="10.0" height="220.7" fill="url(#a0)"/><rect x="489.6" y="34.0" width="15.4" height="220.7" fill="url(#a2)"/><rect x="504.5" y="34.0" width="15.4" height="220.7" fill="#eee"/><rect x="519.3" y="34.0" width="15.4" height="220.7" fill="#eee"/><rect x="534.1" y="34.0" width="15.4" height="220.7" fill="url(#a8)"/><rect x="549.0" y="34.0" width="15.4" height="220.7" fill="url(#a10)"/><rect x="563.8" y="34.0" width="15.4" height="220.7" fill="url(#a12)"/><rect x="578.6" y="34.0" width="15.4" height="220.7" fill="url(#a14)"/><rect x="593.5" y="34.0" width="15.4" height="220.7" fill="url(#a16)"/><rect x="608.3" y="34.0" width="15.4" height="220.7" fill="#eee"/><rect x="623.1" y="34.0" width="15.4" height="220.7" fill="url(#a20)"/><rect x="638.0" y="34.0" width="15.4" height="220.7" fill="url(#a22)"/><rect x="652.8" y="34.0" width="15.4" height="220.7" fill="url(#a24)"/><rect x="667.7" y="34.0" width="15.4" height="220.7" fill="url(#a26)"/><rect x="682.5" y="34.0" width="15.4" height="220.7" fill="url(#a28)"/><rect x="697.3" y="34.0" width="15.4" height="220.7" fill="url(#a30)"/><rect x="712.2" y="34.0" width="15.4" height="220.7" fill="url(#a32)"/><rect x="727.0" y="34.0" width="15.4" height="220.7" fill="url(#a34)"/><rect x="741.8" y="34.0" width="15.4" height="220.7" fill="url(#a36)"/><rect x="756.7" y="34.0" width="15.4" height="220.7" fill="url(#a38)"/><rect x="771.5" y="34.0" width="15.4" height="220.7" fill="url(#a40)"/><rect x="786.4" y="34.0" width="15.4" height="220.7" fill="url(#a42)"/><rect x="801.2" y="34.0" width="15.4" height="220.7" fill="url(#a44)"/><rect x="816.0" y="34.0" width="15.4" height="220.7" fill="#eee"/><rect x="830.9" y="34.0" width="15.4" height="220.7" fill="url(#a48)"/><rect x="845.7" y="34.0" width="15.4" height="220.7" fill="url(#a50)"/><rect x="860.5" y="34.0" width="15.4" height="220.7" fill="url(#a52)"/><rect x="875.4" y="34.0" width="15.4" height="220.7" fill="url(#a54)"/><rect x="890.2" y="34.0" width="15.4" height="220.7" fill="url(#a56)"/><rect x="905.0" y="34.0" width="15.4" height="220.7" fill="url(#a58)"/><rect x="919.9" y="34.0" width="15.4" height="220.7" fill="url(#a60)"/><rect x="934.7" y="34.0" width="15.4" height="220.7" fill="url(#a62)"/><rect x="949.6" y="34.0" width="15.4" height="220.7" fill="url(#a64)"/><rect x="964.4" y="34.0" width="15.4" height="220.7" fill="url(#a66)"/><rect x="979.2" y="34.0" width="15.4" height="220.7" fill="url(#a68)"/><rect x="994.1" y="34.0" width="15.4" height="220.7" fill="url(#a70)"/><rect x="1008.9" y="34.0" width="15.4" height="220.7" fill="url(#a72)"/><rect x="1023.7" y="34.0" width="15.4" height="220.7" fill="url(#a74)"/><rect x="1038.6" y="34.0" width="15.4" height="220.7" fill="#eee"/><rect x="1053.4" y="34.0" width="15.4" height="220.7" fill="url(#a78)"/><rect x="1068.3" y="34.0" width="15.4" height="220.7" fill="url(#a80)"/><rect x="1083.1" y="34.0" width="15.4" height="220.7" fill="url(#a82)"/><rect x="1097.9" y="34.0" width="15.4" height="220.7" fill="url(#a84)"/><rect x="1112.8" y="34.0" width="15.4" height="220.7" fill="url(#a86)"/><rect x="1127.6" y="34.0" width="15.4" height="220.7" fill="url(#a88)"/><rect x="1142.4" y="34.0" width="15.4" height="220.7" fill="url(#a90)"/><rect x="1157.3" y="34.0" width="15.4" height="220.7" fill="url(#a92)"/><rect x="1172.1" y="34.0" width="15.4" height="220.7" fill="url(#a94)"/><rect x="1186.9" y="34.0" width="15.4" height="220.7" fill="url(#a96)"/><rect x="1201.8" y="34.0" width="10.0" height="220.7" fill="url(#a98)"/></g><g mask="url(#mA)"><rect x="482.2" y="34.0" width="15.4" height="220.7" fill="url(#a1)"/><rect x="497.0" y="34.0" width="15.4" height="220.7" fill="url(#a3)"/><rect x="511.9" y="34.0" width="15.4" height="220.7" fill="#eee"/><rect x="526.7" y="34.0" width="15.4" height="220.7" fill="url(#a7)"/><rect x="541.5" y="34.0" width="15.4" height="220.7" fill="url(#a9)"/><rect x="556.4" y="34.0" width="15.4" height="220.7" fill="url(#a11)"/><rect x="571.2" y="34.0" width="15.4" height="220.7" fill="url(#a13)"/><rect x="586.1" y="34.0" width="15.4" height="220.7" fill="url(#a15)"/><rect x="600.9" y="34.0" width="15.4" height="220.7" fill="url(#a17)"/><rect x="615.7" y="34.0" width="15.4" height="220.7" fill="url(#a19)"/><rect x="630.6" y="34.0" width="15.4" height="220.7" fill="url(#a21)"/><rect x="645.4" y="34.0" width="15.4" height="220.7" fill="url(#a23)"/><rect x="660.2" y="34.0" width="15.4" height="220.7" fill="url(#a25)"/><rect x="675.1" y="34.0" width="15.4" height="220.7" fill="url(#a27)"/><rect x="689.9" y="34.0" width="15.4" height="220.7" fill="url(#a29)"/><rect x="704.8" y="34.0" width="15.4" height="220.7" fill="url(#a31)"/><rect x="719.6" y="34.0" width="15.4" height="220.7" fill="url(#a33)"/><rect x="734.4" y="34.0" width="15.4" height="220.7" fill="url(#a35)"/><rect x="749.3" y="34.0" width="15.4" height="220.7" fill="url(#a37)"/><rect x="764.1" y="34.0" width="15.4" height="220.7" fill="url(#a39)"/><rect x="778.9" y="34.0" width="15.4" height="220.7" fill="url(#a41)"/><rect x="793.8" y="34.0" width="15.4" height="220.7" fill="url(#a43)"/><rect x="808.6" y="34.0" width="15.4" height="220.7" fill="url(#a45)"/><rect x="823.4" y="34.0" width="15.4" height="220.7" fill="url(#a47)"/><rect x="838.3" y="34.0" width="15.4" height="220.7" fill="url(#a49)"/><rect x="853.1" y="34.0" width="15.4" height="220.7" fill="url(#a51)"/><rect x="868.0" y="34.0" width="15.4" height="220.7" fill="url(#a53)"/><rect x="882.8" y="34.0" width="15.4" height="220.7" fill="url(#a55)"/><rect x="897.6" y="34.0" width="15.4" height="220.7" fill="url(#a57)"/><rect x="912.5" y="34.0" width="15.4" height="220.7" fill="url(#a59)"/><rect x="927.3" y="34.0" width="15.4" height="220.7" fill="url(#a61)"/><rect x="942.1" y="34.0" width="15.4" height="220.7" fill="url(#a63)"/><rect x="957.0" y="34.0" width="15.4" height="220.7" fill="url(#a65)"/><rect x="971.8" y="34.0" width="15.4" height="220.7" fill="url(#a67)"/><rect x="986.6" y="34.0" width="15.4" height="220.7" fill="url(#a69)"/><rect x="1001.5" y="34.0" width="15.4" height="220.7" fill="url(#a71)"/><rect x="1016.3" y="34.0" width="15.4" height="220.7" fill="url(#a73)"/><rect x="1031.2" y="34.0" width="15.4" height="220.7" fill="url(#a75)"/><rect x="1046.0" y="34.0" width="15.4" height="220.7" fill="url(#a77)"/><rect x="1060.8" y="34.0" width="15.4" height="220.7" fill="url(#a79)"/><rect x="1075.7" y="34.0" width="15.4" height="220.7" fill="url(#a81)"/><rect x="1090.5" y="34.0" width="15.4" height="220.7" fill="url(#a83)"/><rect x="1105.3" y="34.0" width="15.4" height="220.7" fill="url(#a85)"/><rect x="1120.2" y="34.0" width="15.4" height="220.7" fill="url(#a87)"/><rect x="1135.0" y="34.0" width="15.4" height="220.7" fill="url(#a89)"/><rect x="1149.9" y="34.0" width="15.4" height="220.7" fill="url(#a91)"/><rect x="1164.7" y="34.0" width="15.4" height="220.7" fill="url(#a93)"/><rect x="1179.5" y="34.0" width="15.4" height="220.7" fill="url(#a95)"/><rect x="1194.4" y="34.0" width="15.4" height="220.7" fill="url(#a97)"/></g></g>
<path d="M497.3 36.0V252.7M541.8 36.0V252.7M586.4 36.0V252.7M630.9 36.0V252.7M675.4 36.0V252.7M719.9 36.0V252.7M764.4 36.0V252.7M808.9 36.0V252.7M853.4 36.0V252.7M897.9 36.0V252.7M942.4 36.0V252.7M986.9 36.0V252.7M1031.5 36.0V252.7M1076.0 36.0V252.7M1120.5 36.0V252.7M1165.0 36.0V252.7M482.5 74.2H1209.5M482.5 125.2H1209.5M482.5 176.2H1209.5M482.5 227.2H1209.5" stroke="#262626" stroke-opacity="0.13" stroke-width="1" fill="none"/>
<path d="M497.3 36.0v7.3M497.3 252.7v-7.3M541.8 36.0v7.3M541.8 252.7v-7.3M586.4 36.0v7.3M586.4 252.7v-7.3M630.9 36.0v7.3M630.9 252.7v-7.3M675.4 36.0v7.3M675.4 252.7v-7.3M719.9 36.0v7.3M719.9 252.7v-7.3M764.4 36.0v7.3M764.4 252.7v-7.3M808.9 36.0v7.3M808.9 252.7v-7.3M853.4 36.0v7.3M853.4 252.7v-7.3M897.9 36.0v7.3M897.9 252.7v-7.3M942.4 36.0v7.3M942.4 252.7v-7.3M986.9 36.0v7.3M986.9 252.7v-7.3M1031.5 36.0v7.3M1031.5 252.7v-7.3M1076.0 36.0v7.3M1076.0 252.7v-7.3M1120.5 36.0v7.3M1120.5 252.7v-7.3M1165.0 36.0v7.3M1165.0 252.7v-7.3M482.5 74.2h7.3M1209.5 74.2h-7.3M482.5 125.2h7.3M1209.5 125.2h-7.3M482.5 176.2h7.3M1209.5 176.2h-7.3M482.5 227.2h7.3M1209.5 227.2h-7.3" stroke="#262626" stroke-opacity="0.85" stroke-width="1" fill="none"/>
<rect x="482.5" y="36.0" width="727.0" height="216.7" fill="none" stroke="#262626" stroke-opacity="0.5" stroke-width="1.4"/>
<g fill="#262626"><text transform="translate(497.3 285.7) scale(0.963 1)" font-size="25.1" text-anchor="middle">J</text><text transform="translate(541.8 285.7) scale(0.963 1)" font-size="25.1" text-anchor="middle">O</text><text transform="translate(586.4 285.7) scale(0.963 1)" font-size="25.1" text-anchor="middle">J</text><text transform="translate(586.4 312.1) scale(0.963 1)" font-size="25.1" text-anchor="middle">2018</text><text transform="translate(630.9 285.7) scale(0.963 1)" font-size="25.1" text-anchor="middle">A</text><text transform="translate(675.4 285.7) scale(0.963 1)" font-size="25.1" text-anchor="middle">J</text><text transform="translate(719.9 285.7) scale(0.963 1)" font-size="25.1" text-anchor="middle">O</text><text transform="translate(764.4 285.7) scale(0.963 1)" font-size="25.1" text-anchor="middle">J</text><text transform="translate(761.7 312.1) scale(0.963 1)" font-size="25.1" text-anchor="middle">2019</text><text transform="translate(808.9 285.7) scale(0.963 1)" font-size="25.1" text-anchor="middle">A</text><text transform="translate(853.4 285.7) scale(0.963 1)" font-size="25.1" text-anchor="middle">J</text><text transform="translate(897.9 285.7) scale(0.963 1)" font-size="25.1" text-anchor="middle">O</text><text transform="translate(942.4 285.7) scale(0.963 1)" font-size="25.1" text-anchor="middle">J</text><text transform="translate(943.4 312.1) scale(0.963 1)" font-size="25.1" text-anchor="middle">2020</text><text transform="translate(986.9 285.7) scale(0.963 1)" font-size="25.1" text-anchor="middle">A</text><text transform="translate(1031.5 285.7) scale(0.963 1)" font-size="25.1" text-anchor="middle">J</text><text transform="translate(1076.0 285.7) scale(0.963 1)" font-size="25.1" text-anchor="middle">O</text><text transform="translate(1120.5 285.7) scale(0.963 1)" font-size="25.1" text-anchor="middle">J</text><text transform="translate(1124.5 312.1) scale(0.963 1)" font-size="25.1" text-anchor="middle">2021</text><text transform="translate(1165.0 285.7) scale(0.963 1)" font-size="25.1" text-anchor="middle">A</text><text transform="translate(1209.5 285.7) scale(0.963 1)" font-size="25.1" text-anchor="middle">J</text><text transform="translate(474.1 83.9) scale(0.963 1)" font-size="25.1" text-anchor="end">200</text><text transform="translate(474.1 134.9) scale(0.963 1)" font-size="25.1" text-anchor="end">400</text><text transform="translate(474.1 185.9) scale(0.963 1)" font-size="25.1" text-anchor="end">600</text><text transform="translate(474.1 236.9) scale(0.963 1)" font-size="25.1" text-anchor="end">800</text></g>
<text transform="translate(423.8 143.8) rotate(-90) scale(0.963 1)" text-anchor="middle" font-size="25.1" fill="#262626">Depth(m)</text>
<text transform="translate(784.9 29.0) scale(0.974 1)" font-size="25.1" fill="#000">Mode 1 (15°N)</text>
<text transform="translate(404.0 24.0) scale(0.99 1)" font-size="30.0" font-weight="bold" fill="#000">A</text>
<g clip-path="url(#clipB)"><g><rect x="78.4" y="360.6" width="10.0" height="219.7" fill="url(#b0)"/><rect x="87.8" y="360.6" width="15.4" height="219.7" fill="url(#b2)"/><rect x="102.5" y="360.6" width="15.4" height="219.7" fill="url(#b4)"/><rect x="117.3" y="360.6" width="15.4" height="219.7" fill="url(#b6)"/><rect x="132.1" y="360.6" width="15.4" height="219.7" fill="url(#b8)"/><rect x="146.8" y="360.6" width="15.4" height="219.7" fill="url(#b10)"/><rect x="161.6" y="360.6" width="15.4" height="219.7" fill="url(#b12)"/><rect x="176.4" y="360.6" width="15.4" height="219.7" fill="url(#b14)"/><rect x="191.1" y="360.6" width="15.4" height="219.7" fill="url(#b16)"/><rect x="205.9" y="360.6" width="15.4" height="219.7" fill="url(#b18)"/><rect x="220.7" y="360.6" width="15.4" height="219.7" fill="url(#b20)"/><rect x="235.4" y="360.6" width="15.4" height="219.7" fill="url(#b22)"/><rect x="250.2" y="360.6" width="15.4" height="219.7" fill="url(#b24)"/><rect x="265.0" y="360.6" width="15.4" height="219.7" fill="url(#b26)"/><rect x="279.7" y="360.6" width="15.4" height="219.7" fill="url(#b28)"/><rect x="294.5" y="360.6" width="15.4" height="219.7" fill="url(#b30)"/><rect x="309.3" y="360.6" width="15.4" height="219.7" fill="url(#b32)"/><rect x="324.0" y="360.6" width="15.4" height="219.7" fill="url(#b34)"/><rect x="338.8" y="360.6" width="15.4" height="219.7" fill="url(#b36)"/><rect x="353.6" y="360.6" width="15.4" height="219.7" fill="url(#b38)"/><rect x="368.3" y="360.6" width="15.4" height="219.7" fill="url(#b40)"/><rect x="383.1" y="360.6" width="15.4" height="219.7" fill="url(#b42)"/><rect x="397.9" y="360.6" width="15.4" height="219.7" fill="url(#b44)"/><rect x="412.6" y="360.6" width="15.4" height="219.7" fill="url(#b46)"/><rect x="427.4" y="360.6" width="15.4" height="219.7" fill="url(#b48)"/><rect x="442.2" y="360.6" width="15.4" height="219.7" fill="url(#b50)"/><rect x="456.9" y="360.6" width="15.4" height="219.7" fill="url(#b52)"/><rect x="471.7" y="360.6" width="15.4" height="219.7" fill="url(#b54)"/><rect x="486.5" y="360.6" width="15.4" height="219.7" fill="url(#b56)"/><rect x="501.2" y="360.6" width="15.4" height="219.7" fill="url(#b58)"/><rect x="516.0" y="360.6" width="15.4" height="219.7" fill="url(#b60)"/><rect x="530.8" y="360.6" width="15.4" height="219.7" fill="url(#b62)"/><rect x="545.5" y="360.6" width="15.4" height="219.7" fill="url(#b64)"/><rect x="560.3" y="360.6" width="15.4" height="219.7" fill="url(#b66)"/><rect x="575.1" y="360.6" width="15.4" height="219.7" fill="url(#b68)"/><rect x="589.8" y="360.6" width="15.4" height="219.7" fill="url(#b70)"/><rect x="604.6" y="360.6" width="15.4" height="219.7" fill="url(#b72)"/><rect x="619.4" y="360.6" width="15.4" height="219.7" fill="url(#b74)"/><rect x="634.1" y="360.6" width="15.4" height="219.7" fill="url(#b76)"/><rect x="648.9" y="360.6" width="15.4" height="219.7" fill="url(#b78)"/><rect x="663.7" y="360.6" width="15.4" height="219.7" fill="url(#b80)"/><rect x="678.4" y="360.6" width="15.4" height="219.7" fill="url(#b82)"/><rect x="693.2" y="360.6" width="15.4" height="219.7" fill="url(#b84)"/><rect x="708.0" y="360.6" width="15.4" height="219.7" fill="url(#b86)"/><rect x="722.7" y="360.6" width="15.4" height="219.7" fill="url(#b88)"/><rect x="737.5" y="360.6" width="15.4" height="219.7" fill="url(#b90)"/><rect x="752.3" y="360.6" width="15.4" height="219.7" fill="url(#b92)"/><rect x="767.0" y="360.6" width="10.0" height="219.7" fill="url(#b94)"/></g><g mask="url(#mB)"><rect x="80.4" y="360.6" width="15.4" height="219.7" fill="url(#b1)"/><rect x="95.2" y="360.6" width="15.4" height="219.7" fill="url(#b3)"/><rect x="109.9" y="360.6" width="15.4" height="219.7" fill="url(#b5)"/><rect x="124.7" y="360.6" width="15.4" height="219.7" fill="url(#b7)"/><rect x="139.5" y="360.6" width="15.4" height="219.7" fill="url(#b9)"/><rect x="154.2" y="360.6" width="15.4" height="219.7" fill="url(#b11)"/><rect x="169.0" y="360.6" width="15.4" height="219.7" fill="url(#b13)"/><rect x="183.8" y="360.6" width="15.4" height="219.7" fill="url(#b15)"/><rect x="198.5" y="360.6" width="15.4" height="219.7" fill="url(#b17)"/><rect x="213.3" y="360.6" width="15.4" height="219.7" fill="url(#b19)"/><rect x="228.1" y="360.6" width="15.4" height="219.7" fill="url(#b21)"/><rect x="242.8" y="360.6" width="15.4" height="219.7" fill="url(#b23)"/><rect x="257.6" y="360.6" width="15.4" height="219.7" fill="url(#b25)"/><rect x="272.4" y="360.6" width="15.4" height="219.7" fill="url(#b27)"/><rect x="287.1" y="360.6" width="15.4" height="219.7" fill="url(#b29)"/><rect x="301.9" y="360.6" width="15.4" height="219.7" fill="url(#b31)"/><rect x="316.7" y="360.6" width="15.4" height="219.7" fill="url(#b33)"/><rect x="331.4" y="360.6" width="15.4" height="219.7" fill="url(#b35)"/><rect x="346.2" y="360.6" width="15.4" height="219.7" fill="url(#b37)"/><rect x="361.0" y="360.6" width="15.4" height="219.7" fill="url(#b39)"/><rect x="375.7" y="360.6" width="15.4" height="219.7" fill="url(#b41)"/><rect x="390.5" y="360.6" width="15.4" height="219.7" fill="url(#b43)"/><rect x="405.3" y="360.6" width="15.4" height="219.7" fill="url(#b45)"/><rect x="420.0" y="360.6" width="15.4" height="219.7" fill="url(#b47)"/><rect x="434.8" y="360.6" width="15.4" height="219.7" fill="url(#b49)"/><rect x="449.5" y="360.6" width="15.4" height="219.7" fill="url(#b51)"/><rect x="464.3" y="360.6" width="15.4" height="219.7" fill="url(#b53)"/><rect x="479.1" y="360.6" width="15.4" height="219.7" fill="url(#b55)"/><rect x="493.8" y="360.6" width="15.4" height="219.7" fill="url(#b57)"/><rect x="508.6" y="360.6" width="15.4" height="219.7" fill="url(#b59)"/><rect x="523.4" y="360.6" width="15.4" height="219.7" fill="url(#b61)"/><rect x="538.1" y="360.6" width="15.4" height="219.7" fill="url(#b63)"/><rect x="552.9" y="360.6" width="15.4" height="219.7" fill="url(#b65)"/><rect x="567.7" y="360.6" width="15.4" height="219.7" fill="url(#b67)"/><rect x="582.4" y="360.6" width="15.4" height="219.7" fill="url(#b69)"/><rect x="597.2" y="360.6" width="15.4" height="219.7" fill="url(#b71)"/><rect x="612.0" y="360.6" width="15.4" height="219.7" fill="url(#b73)"/><rect x="626.7" y="360.6" width="15.4" height="219.7" fill="url(#b75)"/><rect x="641.5" y="360.6" width="15.4" height="219.7" fill="url(#b77)"/><rect x="656.3" y="360.6" width="15.4" height="219.7" fill="url(#b79)"/><rect x="671.0" y="360.6" width="15.4" height="219.7" fill="url(#b81)"/><rect x="685.8" y="360.6" width="15.4" height="219.7" fill="url(#b83)"/><rect x="700.6" y="360.6" width="15.4" height="219.7" fill="url(#b85)"/><rect x="715.3" y="360.6" width="15.4" height="219.7" fill="url(#b87)"/><rect x="730.1" y="360.6" width="15.4" height="219.7" fill="url(#b89)"/><rect x="744.9" y="360.6" width="15.4" height="219.7" fill="url(#b91)"/><rect x="759.6" y="360.6" width="15.4" height="219.7" fill="url(#b93)"/></g></g>
<path d="M95.5 362.6V578.3M139.8 362.6V578.3M184.1 362.6V578.3M228.4 362.6V578.3M272.7 362.6V578.3M317.0 362.6V578.3M361.3 362.6V578.3M405.6 362.6V578.3M449.8 362.6V578.3M494.1 362.6V578.3M538.4 362.6V578.3M582.7 362.6V578.3M627.0 362.6V578.3M671.3 362.6V578.3M715.6 362.6V578.3M759.9 362.6V578.3M80.7 400.7H774.7M80.7 451.4H774.7M80.7 502.2H774.7M80.7 552.9H774.7" stroke="#262626" stroke-opacity="0.13" stroke-width="1" fill="none"/>
<path d="M95.5 362.6v7.3M95.5 578.3v-7.3M139.8 362.6v7.3M139.8 578.3v-7.3M184.1 362.6v7.3M184.1 578.3v-7.3M228.4 362.6v7.3M228.4 578.3v-7.3M272.7 362.6v7.3M272.7 578.3v-7.3M317.0 362.6v7.3M317.0 578.3v-7.3M361.3 362.6v7.3M361.3 578.3v-7.3M405.6 362.6v7.3M405.6 578.3v-7.3M449.8 362.6v7.3M449.8 578.3v-7.3M494.1 362.6v7.3M494.1 578.3v-7.3M538.4 362.6v7.3M538.4 578.3v-7.3M582.7 362.6v7.3M582.7 578.3v-7.3M627.0 362.6v7.3M627.0 578.3v-7.3M671.3 362.6v7.3M671.3 578.3v-7.3M715.6 362.6v7.3M715.6 578.3v-7.3M759.9 362.6v7.3M759.9 578.3v-7.3M80.7 400.7h7.3M774.7 400.7h-7.3M80.7 451.4h7.3M774.7 451.4h-7.3M80.7 502.2h7.3M774.7 502.2h-7.3M80.7 552.9h7.3M774.7 552.9h-7.3" stroke="#262626" stroke-opacity="0.85" stroke-width="1" fill="none"/>
<rect x="80.7" y="362.6" width="694.0" height="215.7" fill="none" stroke="#262626" stroke-opacity="0.5" stroke-width="1.4"/>
<g fill="#262626"><text transform="translate(95.5 611.3) scale(0.963 1)" font-size="25.1" text-anchor="middle">A</text><text transform="translate(139.8 611.3) scale(0.963 1)" font-size="25.1" text-anchor="middle">J</text><text transform="translate(184.1 611.3) scale(0.963 1)" font-size="25.1" text-anchor="middle">O</text><text transform="translate(228.4 611.3) scale(0.963 1)" font-size="25.1" text-anchor="middle">J</text><text transform="translate(226.9 640.1) scale(0.963 1)" font-size="25.1" text-anchor="middle">2016</text><text transform="translate(272.7 611.3) scale(0.963 1)" font-size="25.1" text-anchor="middle">A</text><text transform="translate(317.0 611.3) scale(0.963 1)" font-size="25.1" text-anchor="middle">J</text><text transform="translate(361.3 611.3) scale(0.963 1)" font-size="25.1" text-anchor="middle">O</text><text transform="translate(405.6 611.3) scale(0.963 1)" font-size="25.1" text-anchor="middle">J</text><text transform="translate(402.4 640.1) scale(0.963 1)" font-size="25.1" text-anchor="middle">2017</text><text transform="translate(449.8 611.3) scale(0.963 1)" font-size="25.1" text-anchor="middle">A</text><text transform="translate(494.1 611.3) scale(0.963 1)" font-size="25.1" text-anchor="middle">J</text><text transform="translate(538.4 611.3) scale(0.963 1)" font-size="25.1" text-anchor="middle">O</text><text transform="translate(582.7 611.3) scale(0.963 1)" font-size="25.1" text-anchor="middle">J</text><text transform="translate(584.0 640.1) scale(0.963 1)" font-size="25.1" text-anchor="middle">2018</text><text transform="translate(627.0 611.3) scale(0.963 1)" font-size="25.1" text-anchor="middle">A</text><text transform="translate(671.3 611.3) scale(0.963 1)" font-size="25.1" text-anchor="middle">J</text><text transform="translate(715.6 611.3) scale(0.963 1)" font-size="25.1" text-anchor="middle">O</text><text transform="translate(759.9 611.3) scale(0.963 1)" font-size="25.1" text-anchor="middle">J</text><text transform="translate(759.9 640.1) scale(0.963 1)" font-size="25.1" text-anchor="middle">2019</text><text transform="translate(72.3 410.4) scale(0.963 1)" font-size="25.1" text-anchor="end">200</text><text transform="translate(72.3 461.1) scale(0.963 1)" font-size="25.1" text-anchor="end">400</text><text transform="translate(72.3 511.9) scale(0.963 1)" font-size="25.1" text-anchor="end">600</text><text transform="translate(72.3 562.6) scale(0.963 1)" font-size="25.1" text-anchor="end">800</text></g>
<text transform="translate(22.0 469.9) rotate(-90) scale(0.963 1)" text-anchor="middle" font-size="25.1" fill="#262626">Depth(m)</text>
<text transform="translate(316.0 355.6) scale(0.974 1)" font-size="25.1" fill="#000">Mode 1+ Mode 2 (11°N)</text>
<text transform="translate(0.3 352.7) scale(0.99 1)" font-size="30.0" font-weight="bold" fill="#000">B</text>
<g clip-path="url(#clipC)"><g><rect x="251.0" y="681.5" width="10.1" height="220.0" fill="url(#c0)"/><rect x="260.5" y="681.5" width="15.5" height="220.0" fill="url(#c2)"/><rect x="275.4" y="681.5" width="15.5" height="220.0" fill="url(#c4)"/><rect x="290.4" y="681.5" width="15.5" height="220.0" fill="url(#c6)"/><rect x="305.3" y="681.5" width="15.5" height="220.0" fill="url(#c8)"/><rect x="320.2" y="681.5" width="15.5" height="220.0" fill="url(#c10)"/><rect x="335.2" y="681.5" width="15.5" height="220.0" fill="url(#c12)"/><rect x="350.1" y="681.5" width="15.5" height="220.0" fill="url(#c14)"/><rect x="365.1" y="681.5" width="15.5" height="220.0" fill="url(#c16)"/><rect x="380.0" y="681.5" width="15.5" height="220.0" fill="url(#c18)"/><rect x="394.9" y="681.5" width="15.5" height="220.0" fill="url(#c20)"/><rect x="409.9" y="681.5" width="15.5" height="220.0" fill="url(#c22)"/><rect x="424.8" y="681.5" width="15.5" height="220.0" fill="url(#c24)"/><rect x="439.8" y="681.5" width="15.5" height="220.0" fill="url(#c26)"/><rect x="454.7" y="681.5" width="15.5" height="220.0" fill="url(#c28)"/><rect x="469.6" y="681.5" width="15.5" height="220.0" fill="url(#c30)"/><rect x="484.6" y="681.5" width="15.5" height="220.0" fill="url(#c32)"/><rect x="499.5" y="681.5" width="15.5" height="220.0" fill="url(#c34)"/><rect x="514.5" y="681.5" width="15.5" height="220.0" fill="url(#c36)"/><rect x="529.4" y="681.5" width="15.5" height="220.0" fill="url(#c38)"/><rect x="544.3" y="681.5" width="15.5" height="220.0" fill="url(#c40)"/><rect x="559.3" y="681.5" width="15.5" height="220.0" fill="url(#c42)"/><rect x="574.2" y="681.5" width="15.5" height="220.0" fill="url(#c44)"/><rect x="589.2" y="681.5" width="15.5" height="220.0" fill="url(#c46)"/><rect x="604.1" y="681.5" width="15.5" height="220.0" fill="url(#c48)"/><rect x="619.0" y="681.5" width="15.5" height="220.0" fill="url(#c50)"/><rect x="634.0" y="681.5" width="15.5" height="220.0" fill="url(#c52)"/><rect x="648.9" y="681.5" width="15.5" height="220.0" fill="url(#c54)"/><rect x="663.9" y="681.5" width="15.5" height="220.0" fill="url(#c56)"/><rect x="678.8" y="681.5" width="15.5" height="220.0" fill="url(#c58)"/><rect x="693.7" y="681.5" width="15.5" height="220.0" fill="url(#c60)"/><rect x="708.7" y="681.5" width="15.5" height="220.0" fill="url(#c62)"/><rect x="723.6" y="681.5" width="15.5" height="220.0" fill="url(#c64)"/><rect x="738.6" y="681.5" width="15.5" height="220.0" fill="url(#c66)"/><rect x="753.5" y="681.5" width="15.5" height="220.0" fill="url(#c68)"/><rect x="768.5" y="681.5" width="15.5" height="220.0" fill="url(#c70)"/><rect x="783.4" y="681.5" width="15.5" height="220.0" fill="url(#c72)"/><rect x="798.3" y="681.5" width="15.5" height="220.0" fill="url(#c74)"/><rect x="813.3" y="681.5" width="15.5" height="220.0" fill="url(#c76)"/><rect x="828.2" y="681.5" width="15.5" height="220.0" fill="url(#c78)"/><rect x="843.2" y="681.5" width="15.5" height="220.0" fill="url(#c80)"/><rect x="858.1" y="681.5" width="15.5" height="220.0" fill="url(#c82)"/><rect x="873.0" y="681.5" width="15.5" height="220.0" fill="url(#c84)"/><rect x="888.0" y="681.5" width="15.5" height="220.0" fill="url(#c86)"/><rect x="902.9" y="681.5" width="15.5" height="220.0" fill="url(#c88)"/><rect x="917.9" y="681.5" width="15.5" height="220.0" fill="url(#c90)"/><rect x="932.8" y="681.5" width="15.5" height="220.0" fill="url(#c92)"/><rect x="947.7" y="681.5" width="15.5" height="220.0" fill="url(#c94)"/><rect x="962.7" y="681.5" width="15.5" height="220.0" fill="url(#c96)"/><rect x="977.6" y="681.5" width="15.5" height="220.0" fill="url(#c98)"/><rect x="992.6" y="681.5" width="15.5" height="220.0" fill="url(#c100)"/><rect x="1007.5" y="681.5" width="15.5" height="220.0" fill="url(#c102)"/><rect x="1022.4" y="681.5" width="15.5" height="220.0" fill="url(#c104)"/><rect x="1037.4" y="681.5" width="15.5" height="220.0" fill="url(#c106)"/><rect x="1052.3" y="681.5" width="15.5" height="220.0" fill="url(#c108)"/><rect x="1067.3" y="681.5" width="15.5" height="220.0" fill="url(#c110)"/><rect x="1082.2" y="681.5" width="15.5" height="220.0" fill="url(#c112)"/><rect x="1097.1" y="681.5" width="15.5" height="220.0" fill="url(#c114)"/><rect x="1112.1" y="681.5" width="15.5" height="220.0" fill="url(#c116)"/><rect x="1127.0" y="681.5" width="15.5" height="220.0" fill="url(#c118)"/><rect x="1142.0" y="681.5" width="15.5" height="220.0" fill="url(#c120)"/><rect x="1156.9" y="681.5" width="15.5" height="220.0" fill="url(#c122)"/><rect x="1171.8" y="681.5" width="15.5" height="220.0" fill="url(#c124)"/><rect x="1186.8" y="681.5" width="15.5" height="220.0" fill="url(#c126)"/><rect x="1201.7" y="681.5" width="10.1" height="220.0" fill="url(#c128)"/></g><g mask="url(#mC)"><rect x="253.0" y="681.5" width="15.5" height="220.0" fill="url(#c1)"/><rect x="267.9" y="681.5" width="15.5" height="220.0" fill="url(#c3)"/><rect x="282.9" y="681.5" width="15.5" height="220.0" fill="url(#c5)"/><rect x="297.8" y="681.5" width="15.5" height="220.0" fill="url(#c7)"/><rect x="312.8" y="681.5" width="15.5" height="220.0" fill="url(#c9)"/><rect x="327.7" y="681.5" width="15.5" height="220.0" fill="url(#c11)"/><rect x="342.6" y="681.5" width="15.5" height="220.0" fill="url(#c13)"/><rect x="357.6" y="681.5" width="15.5" height="220.0" fill="url(#c15)"/><rect x="372.5" y="681.5" width="15.5" height="220.0" fill="url(#c17)"/><rect x="387.5" y="681.5" width="15.5" height="220.0" fill="url(#c19)"/><rect x="402.4" y="681.5" width="15.5" height="220.0" fill="url(#c21)"/><rect x="417.3" y="681.5" width="15.5" height="220.0" fill="url(#c23)"/><rect x="432.3" y="681.5" width="15.5" height="220.0" fill="url(#c25)"/><rect x="447.2" y="681.5" width="15.5" height="220.0" fill="url(#c27)"/><rect x="462.2" y="681.5" width="15.5" height="220.0" fill="url(#c29)"/><rect x="477.1" y="681.5" width="15.5" height="220.0" fill="url(#c31)"/><rect x="492.1" y="681.5" width="15.5" height="220.0" fill="url(#c33)"/><rect x="507.0" y="681.5" width="15.5" height="220.0" fill="url(#c35)"/><rect x="521.9" y="681.5" width="15.5" height="220.0" fill="url(#c37)"/><rect x="536.9" y="681.5" width="15.5" height="220.0" fill="url(#c39)"/><rect x="551.8" y="681.5" width="15.5" height="220.0" fill="url(#c41)"/><rect x="566.8" y="681.5" width="15.5" height="220.0" fill="url(#c43)"/><rect x="581.7" y="681.5" width="15.5" height="220.0" fill="url(#c45)"/><rect x="596.6" y="681.5" width="15.5" height="220.0" fill="url(#c47)"/><rect x="611.6" y="681.5" width="15.5" height="220.0" fill="url(#c49)"/><rect x="626.5" y="681.5" width="15.5" height="220.0" fill="url(#c51)"/><rect x="641.5" y="681.5" width="15.5" height="220.0" fill="url(#c53)"/><rect x="656.4" y="681.5" width="15.5" height="220.0" fill="url(#c55)"/><rect x="671.3" y="681.5" width="15.5" height="220.0" fill="url(#c57)"/><rect x="686.3" y="681.5" width="15.5" height="220.0" fill="url(#c59)"/><rect x="701.2" y="681.5" width="15.5" height="220.0" fill="url(#c61)"/><rect x="716.2" y="681.5" width="15.5" height="220.0" fill="url(#c63)"/><rect x="731.1" y="681.5" width="15.5" height="220.0" fill="url(#c65)"/><rect x="746.0" y="681.5" width="15.5" height="220.0" fill="url(#c67)"/><rect x="761.0" y="681.5" width="15.5" height="220.0" fill="url(#c69)"/><rect x="775.9" y="681.5" width="15.5" height="220.0" fill="url(#c71)"/><rect x="790.9" y="681.5" width="15.5" height="220.0" fill="url(#c73)"/><rect x="805.8" y="681.5" width="15.5" height="220.0" fill="url(#c75)"/><rect x="820.7" y="681.5" width="15.5" height="220.0" fill="url(#c77)"/><rect x="835.7" y="681.5" width="15.5" height="220.0" fill="url(#c79)"/><rect x="850.6" y="681.5" width="15.5" height="220.0" fill="url(#c81)"/><rect x="865.6" y="681.5" width="15.5" height="220.0" fill="url(#c83)"/><rect x="880.5" y="681.5" width="15.5" height="220.0" fill="url(#c85)"/><rect x="895.4" y="681.5" width="15.5" height="220.0" fill="url(#c87)"/><rect x="910.4" y="681.5" width="15.5" height="220.0" fill="url(#c89)"/><rect x="925.3" y="681.5" width="15.5" height="220.0" fill="url(#c91)"/><rect x="940.3" y="681.5" width="15.5" height="220.0" fill="url(#c93)"/><rect x="955.2" y="681.5" width="15.5" height="220.0" fill="url(#c95)"/><rect x="970.2" y="681.5" width="15.5" height="220.0" fill="url(#c97)"/><rect x="985.1" y="681.5" width="15.5" height="220.0" fill="url(#c99)"/><rect x="1000.0" y="681.5" width="15.5" height="220.0" fill="url(#c101)"/><rect x="1015.0" y="681.5" width="15.5" height="220.0" fill="url(#c103)"/><rect x="1029.9" y="681.5" width="15.5" height="220.0" fill="url(#c105)"/><rect x="1044.9" y="681.5" width="15.5" height="220.0" fill="url(#c107)"/><rect x="1059.8" y="681.5" width="15.5" height="220.0" fill="url(#c109)"/><rect x="1074.7" y="681.5" width="15.5" height="220.0" fill="url(#c111)"/><rect x="1089.7" y="681.5" width="15.5" height="220.0" fill="url(#c113)"/><rect x="1104.6" y="681.5" width="15.5" height="220.0" fill="url(#c115)"/><rect x="1119.6" y="681.5" width="15.5" height="220.0" fill="url(#c117)"/><rect x="1134.5" y="681.5" width="15.5" height="220.0" fill="url(#c119)"/><rect x="1149.4" y="681.5" width="15.5" height="220.0" fill="url(#c121)"/><rect x="1164.4" y="681.5" width="15.5" height="220.0" fill="url(#c123)"/><rect x="1179.3" y="681.5" width="15.5" height="220.0" fill="url(#c125)"/><rect x="1194.3" y="681.5" width="15.5" height="220.0" fill="url(#c127)"/></g></g>
<path d="M268.2 683.5V899.5M313.1 683.5V899.5M357.9 683.5V899.5M402.7 683.5V899.5M447.5 683.5V899.5M492.4 683.5V899.5M537.2 683.5V899.5M582.0 683.5V899.5M626.8 683.5V899.5M671.6 683.5V899.5M716.5 683.5V899.5M761.3 683.5V899.5M806.1 683.5V899.5M850.9 683.5V899.5M895.7 683.5V899.5M940.6 683.5V899.5M985.4 683.5V899.5M1030.2 683.5V899.5M1075.0 683.5V899.5M1119.9 683.5V899.5M1164.7 683.5V899.5M253.3 721.6H1209.5M253.3 772.4H1209.5M253.3 823.3H1209.5M253.3 874.1H1209.5" stroke="#262626" stroke-opacity="0.13" stroke-width="1" fill="none"/>
<path d="M268.2 683.5v7.3M268.2 899.5v-7.3M313.1 683.5v7.3M313.1 899.5v-7.3M357.9 683.5v7.3M357.9 899.5v-7.3M402.7 683.5v7.3M402.7 899.5v-7.3M447.5 683.5v7.3M447.5 899.5v-7.3M492.4 683.5v7.3M492.4 899.5v-7.3M537.2 683.5v7.3M537.2 899.5v-7.3M582.0 683.5v7.3M582.0 899.5v-7.3M626.8 683.5v7.3M626.8 899.5v-7.3M671.6 683.5v7.3M671.6 899.5v-7.3M716.5 683.5v7.3M716.5 899.5v-7.3M761.3 683.5v7.3M761.3 899.5v-7.3M806.1 683.5v7.3M806.1 899.5v-7.3M850.9 683.5v7.3M850.9 899.5v-7.3M895.7 683.5v7.3M895.7 899.5v-7.3M940.6 683.5v7.3M940.6 899.5v-7.3M985.4 683.5v7.3M985.4 899.5v-7.3M1030.2 683.5v7.3M1030.2 899.5v-7.3M1075.0 683.5v7.3M1075.0 899.5v-7.3M1119.9 683.5v7.3M1119.9 899.5v-7.3M1164.7 683.5v7.3M1164.7 899.5v-7.3M253.3 721.6h7.3M1209.5 721.6h-7.3M253.3 772.4h7.3M1209.5 772.4h-7.3M253.3 823.3h7.3M1209.5 823.3h-7.3M253.3 874.1h7.3M1209.5 874.1h-7.3" stroke="#262626" stroke-opacity="0.85" stroke-width="1" fill="none"/>
<rect x="253.3" y="683.5" width="956.2" height="216.0" fill="none" stroke="#262626" stroke-opacity="0.5" stroke-width="1.4"/>
<g fill="#262626"><text transform="translate(268.2 932.5) scale(0.963 1)" font-size="25.1" text-anchor="middle">A</text><text transform="translate(313.1 932.5) scale(0.963 1)" font-size="25.1" text-anchor="middle">J</text><text transform="translate(357.9 932.5) scale(0.963 1)" font-size="25.1" text-anchor="middle">O</text><text transform="translate(402.7 932.5) scale(0.963 1)" font-size="25.1" text-anchor="middle">J</text><text transform="translate(400.6 960.4) scale(0.963 1)" font-size="25.1" text-anchor="middle">2017</text><text transform="translate(447.5 932.5) scale(0.963 1)" font-size="25.1" text-anchor="middle">A</text><text transform="translate(492.4 932.5) scale(0.963 1)" font-size="25.1" text-anchor="middle">J</text><text transform="translate(537.2 932.5) scale(0.963 1)" font-size="25.1" text-anchor="middle">O</text><text transform="translate(582.0 932.5) scale(0.963 1)" font-size="25.1" text-anchor="middle">J</text><text transform="translate(582.7 960.4) scale(0.963 1)" font-size="25.1" text-anchor="middle">2018</text><text transform="translate(626.8 932.5) scale(0.963 1)" font-size="25.1" text-anchor="middle">A</text><text transform="translate(671.6 932.5) scale(0.963 1)" font-size="25.1" text-anchor="middle">J</text><text transform="translate(716.5 932.5) scale(0.963 1)" font-size="25.1" text-anchor="middle">O</text><text transform="translate(761.3 932.5) scale(0.963 1)" font-size="25.1" text-anchor="middle">J</text><text transform="translate(765.0 960.4) scale(0.963 1)" font-size="25.1" text-anchor="middle">2019</text><text transform="translate(806.1 932.5) scale(0.963 1)" font-size="25.1" text-anchor="middle">A</text><text transform="translate(850.9 932.5) scale(0.963 1)" font-size="25.1" text-anchor="middle">J</text><text transform="translate(895.7 932.5) scale(0.963 1)" font-size="25.1" text-anchor="middle">O</text><text transform="translate(940.6 932.5) scale(0.963 1)" font-size="25.1" text-anchor="middle">J</text><text transform="translate(939.8 960.4) scale(0.963 1)" font-size="25.1" text-anchor="middle">2020</text><text transform="translate(985.4 932.5) scale(0.963 1)" font-size="25.1" text-anchor="middle">A</text><text transform="translate(1030.2 932.5) scale(0.963 1)" font-size="25.1" text-anchor="middle">J</text><text transform="translate(1075.0 932.5) scale(0.963 1)" font-size="25.1" text-anchor="middle">O</text><text transform="translate(1119.9 932.5) scale(0.963 1)" font-size="25.1" text-anchor="middle">J</text><text transform="translate(1120.9 960.4) scale(0.963 1)" font-size="25.1" text-anchor="middle">2021</text><text transform="translate(1164.7 932.5) scale(0.963 1)" font-size="25.1" text-anchor="middle">A</text><text transform="translate(1209.5 932.5) scale(0.963 1)" font-size="25.1" text-anchor="middle">J</text><text transform="translate(244.9 731.3) scale(0.963 1)" font-size="25.1" text-anchor="end">200</text><text transform="translate(244.9 782.1) scale(0.963 1)" font-size="25.1" text-anchor="end">400</text><text transform="translate(244.9 833.0) scale(0.963 1)" font-size="25.1" text-anchor="end">600</text><text transform="translate(244.9 883.8) scale(0.963 1)" font-size="25.1" text-anchor="end">800</text></g>
<text transform="translate(194.6 791.0) rotate(-90) scale(0.963 1)" text-anchor="middle" font-size="25.1" fill="#262626">Depth(m)</text>
<text transform="translate(615.7 676.5) scale(0.974 1)" font-size="25.1" fill="#000">Mode 1+ Mode 2 (8.5°N)</text>
<text transform="translate(176.3 676.3) scale(0.99 1)" font-size="30.0" font-weight="bold" fill="#000">C</text>
<path d="M1228.8 155.7L1237.8 146.8L1246.7 155.7V809.5L1237.8 818.2L1228.8 809.5Z" fill="url(#cb)" stroke="#262626" stroke-opacity="0.55" stroke-width="1"/>
<path d="M1246.7 155.7h-6.5M1246.7 221.1h-6.5M1246.7 286.5h-6.5M1246.7 351.8h-6.5M1246.7 417.2h-6.5M1246.7 482.6h-6.5M1246.7 548.0h-6.5M1246.7 613.4h-6.5M1246.7 678.7h-6.5M1246.7 744.1h-6.5M1246.7 809.5h-6.5" stroke="#262626" stroke-opacity="0.7" stroke-width="1" fill="none"/>
<g fill="#262626"><text transform="translate(1253.4 164.1) scale(0.97 1)" font-size="22.8">0.1</text><text transform="translate(1253.4 229.5) scale(0.97 1)" font-size="22.8">0.08</text><text transform="translate(1253.4 294.9) scale(0.97 1)" font-size="22.8">0.06</text><text transform="translate(1253.4 360.2) scale(0.97 1)" font-size="22.8">0.04</text><text transform="translate(1253.4 425.6) scale(0.97 1)" font-size="22.8">0.02</text><text transform="translate(1253.4 491.0) scale(0.97 1)" font-size="22.8">0</text><text transform="translate(1253.4 556.4) scale(0.97 1)" font-size="22.8">-0.02</text><text transform="translate(1253.4 621.8) scale(0.97 1)" font-size="22.8">-0.04</text><text transform="translate(1253.4 687.1) scale(0.97 1)" font-size="22.8">-0.06</text><text transform="translate(1253.4 752.5) scale(0.97 1)" font-size="22.8">-0.08</text><text transform="translate(1253.4 817.9) scale(0.97 1)" font-size="22.8">-0.1</text></g>
</svg>
</body></html>
